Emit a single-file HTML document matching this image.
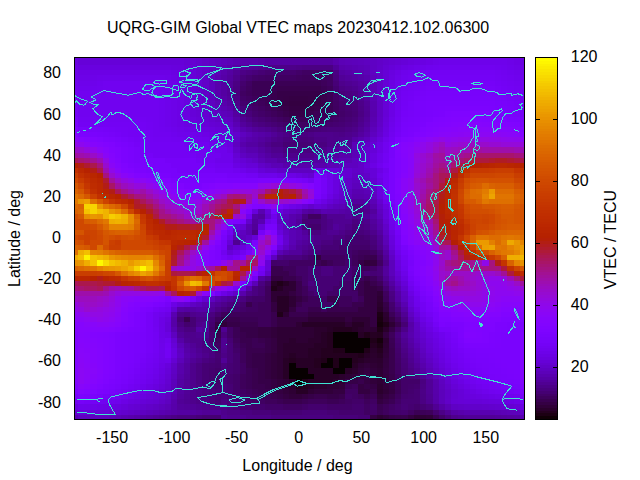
<!DOCTYPE html>
<html><head><meta charset="utf-8"><title>UQRG-GIM Global VTEC maps</title>
<style>
html,body{margin:0;padding:0;background:#fff;}
body{width:640px;height:480px;overflow:hidden;font-family:"Liberation Sans",sans-serif;}
svg{display:block;}
text{font-family:"Liberation Sans",sans-serif;font-size:16px;fill:#000;}
</style></head><body>
<svg width="640" height="480" viewBox="0 0 640 480">
<rect width="640" height="480" fill="#fff"/>
<g id="hm" shape-rendering="crispEdges">
<g transform="translate(0 57.50)"><rect x="74.50" width="3.67" height="2.73" fill="#6901df"/><rect x="77.87" width="106.10" height="2.73" fill="#6601d8"/><rect x="183.67" width="6.52" height="2.73" fill="#6501d4"/><rect x="189.89" width="6.52" height="2.73" fill="#6401d1"/><rect x="196.11" width="6.52" height="2.73" fill="#6201cd"/><rect x="202.34" width="6.52" height="2.73" fill="#6101c8"/><rect x="208.56" width="6.52" height="2.73" fill="#5f01c4"/><rect x="214.78" width="6.52" height="2.73" fill="#5e01c0"/><rect x="221.01" width="6.52" height="2.73" fill="#5c01bb"/><rect x="227.23" width="6.52" height="2.73" fill="#5b01b6"/><rect x="233.45" width="6.52" height="2.73" fill="#5900b1"/><rect x="239.68" width="18.97" height="2.73" fill="#5800ac"/><rect x="258.35" width="6.52" height="2.73" fill="#5600a7"/><rect x="264.57" width="68.76" height="2.73" fill="#5400a2"/><rect x="333.03" width="6.52" height="2.73" fill="#5800ac"/><rect x="339.25" width="6.52" height="2.73" fill="#5b01b6"/><rect x="345.48" width="6.52" height="2.73" fill="#5c01b9"/><rect x="351.70" width="6.52" height="2.73" fill="#5c01bb"/><rect x="357.92" width="6.52" height="2.73" fill="#5d01bd"/><rect x="364.15" width="6.52" height="2.73" fill="#5e01c0"/><rect x="370.37" width="6.52" height="2.73" fill="#5f01c4"/><rect x="376.59" width="6.52" height="2.73" fill="#6101c8"/><rect x="382.82" width="6.52" height="2.73" fill="#6201cd"/><rect x="389.04" width="6.52" height="2.73" fill="#6401d1"/><rect x="395.26" width="6.52" height="2.73" fill="#6501d4"/><rect x="401.49" width="6.52" height="2.73" fill="#6601d8"/><rect x="407.71" width="6.52" height="2.73" fill="#6801dc"/><rect x="413.93" width="6.52" height="2.73" fill="#6901df"/><rect x="420.16" width="6.52" height="2.73" fill="#6a01e2"/><rect x="426.38" width="6.52" height="2.73" fill="#6c01e5"/><rect x="432.61" width="6.52" height="2.73" fill="#6d02e8"/><rect x="438.83" width="68.76" height="2.73" fill="#6e02eb"/><rect x="507.29" width="6.52" height="2.73" fill="#6d02e8"/><rect x="513.51" width="6.52" height="2.73" fill="#6c01e5"/><rect x="519.73" width="5.07" height="2.73" fill="#6901df"/></g>
<g transform="translate(0 59.93)"><rect x="74.50" width="3.67" height="5.44" fill="#6901df"/><rect x="77.87" width="106.10" height="5.44" fill="#6601d8"/><rect x="183.67" width="6.52" height="5.44" fill="#6501d4"/><rect x="189.89" width="6.52" height="5.44" fill="#6401d1"/><rect x="196.11" width="6.52" height="5.44" fill="#6201cd"/><rect x="202.34" width="6.52" height="5.44" fill="#6101c8"/><rect x="208.56" width="6.52" height="5.44" fill="#5f01c4"/><rect x="214.78" width="6.52" height="5.44" fill="#5e01c0"/><rect x="221.01" width="6.52" height="5.44" fill="#5c01bb"/><rect x="227.23" width="6.52" height="5.44" fill="#5b01b6"/><rect x="233.45" width="6.52" height="5.44" fill="#5900b1"/><rect x="239.68" width="18.97" height="5.44" fill="#5800ac"/><rect x="258.35" width="6.52" height="5.44" fill="#5600a7"/><rect x="264.57" width="68.76" height="5.44" fill="#5400a2"/><rect x="333.03" width="6.52" height="5.44" fill="#5800ac"/><rect x="339.25" width="6.52" height="5.44" fill="#5b01b6"/><rect x="345.48" width="6.52" height="5.44" fill="#5c01b9"/><rect x="351.70" width="6.52" height="5.44" fill="#5c01bb"/><rect x="357.92" width="6.52" height="5.44" fill="#5d01bd"/><rect x="364.15" width="6.52" height="5.44" fill="#5e01c0"/><rect x="370.37" width="6.52" height="5.44" fill="#5f01c4"/><rect x="376.59" width="6.52" height="5.44" fill="#6101c8"/><rect x="382.82" width="6.52" height="5.44" fill="#6201cd"/><rect x="389.04" width="6.52" height="5.44" fill="#6401d1"/><rect x="395.26" width="6.52" height="5.44" fill="#6501d4"/><rect x="401.49" width="6.52" height="5.44" fill="#6601d8"/><rect x="407.71" width="6.52" height="5.44" fill="#6801dc"/><rect x="413.93" width="6.52" height="5.44" fill="#6901df"/><rect x="420.16" width="6.52" height="5.44" fill="#6a01e2"/><rect x="426.38" width="6.52" height="5.44" fill="#6c01e5"/><rect x="432.61" width="6.52" height="5.44" fill="#6d02e8"/><rect x="438.83" width="68.76" height="5.44" fill="#6e02eb"/><rect x="507.29" width="6.52" height="5.44" fill="#6d02e8"/><rect x="513.51" width="6.52" height="5.44" fill="#6c01e5"/><rect x="519.73" width="5.07" height="5.44" fill="#6901df"/></g>
<g transform="translate(0 65.08)"><rect x="74.50" width="3.67" height="5.44" fill="#6b01e4"/><rect x="77.87" width="93.65" height="5.44" fill="#6901df"/><rect x="171.22" width="6.52" height="5.44" fill="#6801dd"/><rect x="177.44" width="6.52" height="5.44" fill="#6801dc"/><rect x="183.67" width="6.52" height="5.44" fill="#6601d8"/><rect x="189.89" width="6.52" height="5.44" fill="#6501d4"/><rect x="196.11" width="6.52" height="5.44" fill="#6301cf"/><rect x="202.34" width="6.52" height="5.44" fill="#6101c8"/><rect x="208.56" width="6.52" height="5.44" fill="#5f01c2"/><rect x="214.78" width="6.52" height="5.44" fill="#5c01bb"/><rect x="221.01" width="6.52" height="5.44" fill="#5a00b4"/><rect x="227.23" width="6.52" height="5.44" fill="#5800ac"/><rect x="233.45" width="6.52" height="5.44" fill="#5500a3"/><rect x="239.68" width="6.52" height="5.44" fill="#52009a"/><rect x="245.90" width="6.52" height="5.44" fill="#510097"/><rect x="252.12" width="6.52" height="5.44" fill="#500094"/><rect x="258.35" width="6.52" height="5.44" fill="#4e008f"/><rect x="264.57" width="31.42" height="5.44" fill="#4d0089"/><rect x="295.69" width="6.52" height="5.44" fill="#4c0086"/><rect x="301.91" width="31.42" height="5.44" fill="#4b0083"/><rect x="333.03" width="6.52" height="5.44" fill="#510099"/><rect x="339.25" width="6.52" height="5.44" fill="#5800ac"/><rect x="345.48" width="6.52" height="5.44" fill="#5900b0"/><rect x="351.70" width="6.52" height="5.44" fill="#5a00b4"/><rect x="357.92" width="6.52" height="5.44" fill="#5b01b7"/><rect x="364.15" width="6.52" height="5.44" fill="#5c01bb"/><rect x="370.37" width="6.52" height="5.44" fill="#5f01c3"/><rect x="376.59" width="6.52" height="5.44" fill="#6101ca"/><rect x="382.82" width="6.52" height="5.44" fill="#6401d2"/><rect x="389.04" width="6.52" height="5.44" fill="#6601d8"/><rect x="395.26" width="6.52" height="5.44" fill="#6801dd"/><rect x="401.49" width="6.52" height="5.44" fill="#6a01e2"/><rect x="407.71" width="6.52" height="5.44" fill="#6c01e5"/><rect x="413.93" width="6.52" height="5.44" fill="#6d02e8"/><rect x="420.16" width="6.52" height="5.44" fill="#6e02eb"/><rect x="426.38" width="6.52" height="5.44" fill="#6f02ee"/><rect x="432.61" width="6.52" height="5.44" fill="#7002ef"/><rect x="438.83" width="56.31" height="5.44" fill="#7102f0"/><rect x="494.84" width="6.52" height="5.44" fill="#7002ef"/><rect x="501.06" width="6.52" height="5.44" fill="#6f02ee"/><rect x="507.29" width="6.52" height="5.44" fill="#6e02eb"/><rect x="513.51" width="6.52" height="5.44" fill="#6d02e8"/><rect x="519.73" width="5.07" height="5.44" fill="#6b01e4"/></g>
<g transform="translate(0 70.22)"><rect x="74.50" width="3.67" height="5.44" fill="#6d02e8"/><rect x="77.87" width="93.65" height="5.44" fill="#6c01e5"/><rect x="171.22" width="6.52" height="5.44" fill="#6a01e2"/><rect x="177.44" width="6.52" height="5.44" fill="#6901df"/><rect x="183.67" width="6.52" height="5.44" fill="#6801dc"/><rect x="189.89" width="6.52" height="5.44" fill="#6601d8"/><rect x="196.11" width="6.52" height="5.44" fill="#6401d1"/><rect x="202.34" width="6.52" height="5.44" fill="#6101c8"/><rect x="208.56" width="6.52" height="5.44" fill="#5e01c0"/><rect x="214.78" width="6.52" height="5.44" fill="#5b01b6"/><rect x="221.01" width="6.52" height="5.44" fill="#5800ac"/><rect x="227.23" width="6.52" height="5.44" fill="#5400a2"/><rect x="233.45" width="6.52" height="5.44" fill="#500094"/><rect x="239.68" width="6.52" height="5.44" fill="#4c0086"/><rect x="245.90" width="6.52" height="5.44" fill="#4a0080"/><rect x="252.12" width="6.52" height="5.44" fill="#48007a"/><rect x="258.35" width="6.52" height="5.44" fill="#460074"/><rect x="264.57" width="31.42" height="5.44" fill="#44006e"/><rect x="295.69" width="6.52" height="5.44" fill="#420068"/><rect x="301.91" width="31.42" height="5.44" fill="#400062"/><rect x="333.03" width="6.52" height="5.44" fill="#4b0083"/><rect x="339.25" width="6.52" height="5.44" fill="#5400a2"/><rect x="345.48" width="6.52" height="5.44" fill="#5600a7"/><rect x="351.70" width="6.52" height="5.44" fill="#5800ac"/><rect x="357.92" width="6.52" height="5.44" fill="#5900b1"/><rect x="364.15" width="6.52" height="5.44" fill="#5b01b6"/><rect x="370.37" width="6.52" height="5.44" fill="#5f01c2"/><rect x="376.59" width="6.52" height="5.44" fill="#6201cd"/><rect x="382.82" width="6.52" height="5.44" fill="#6601d6"/><rect x="389.04" width="6.52" height="5.44" fill="#6901df"/><rect x="395.26" width="6.52" height="5.44" fill="#6c01e5"/><rect x="401.49" width="6.52" height="5.44" fill="#6e02eb"/><rect x="407.71" width="6.52" height="5.44" fill="#6f02ee"/><rect x="413.93" width="6.52" height="5.44" fill="#7102f0"/><rect x="420.16" width="6.52" height="5.44" fill="#7202f2"/><rect x="426.38" width="68.76" height="5.44" fill="#7302f4"/><rect x="494.84" width="6.52" height="5.44" fill="#7202f2"/><rect x="501.06" width="6.52" height="5.44" fill="#7102f0"/><rect x="507.29" width="6.52" height="5.44" fill="#6f02ee"/><rect x="513.51" width="6.52" height="5.44" fill="#6e02eb"/><rect x="519.73" width="5.07" height="5.44" fill="#6d02e8"/></g>
<g transform="translate(0 75.36)"><rect x="74.50" width="3.67" height="5.44" fill="#6e02eb"/><rect x="77.87" width="18.97" height="5.44" fill="#6d02e8"/><rect x="96.54" width="6.52" height="5.44" fill="#6e02ea"/><rect x="102.76" width="56.31" height="5.44" fill="#6e02eb"/><rect x="158.77" width="6.52" height="5.44" fill="#6e02ea"/><rect x="164.99" width="6.52" height="5.44" fill="#6d02e8"/><rect x="171.22" width="6.52" height="5.44" fill="#6c01e5"/><rect x="177.44" width="6.52" height="5.44" fill="#6a01e2"/><rect x="183.67" width="6.52" height="5.44" fill="#6801dd"/><rect x="189.89" width="6.52" height="5.44" fill="#6601d8"/><rect x="196.11" width="6.52" height="5.44" fill="#6401d1"/><rect x="202.34" width="6.52" height="5.44" fill="#6101c8"/><rect x="208.56" width="6.52" height="5.44" fill="#5d01bd"/><rect x="214.78" width="6.52" height="5.44" fill="#5900b1"/><rect x="221.01" width="6.52" height="5.44" fill="#5600a7"/><rect x="227.23" width="6.52" height="5.44" fill="#53009d"/><rect x="233.45" width="6.52" height="5.44" fill="#4e008c"/><rect x="239.68" width="6.52" height="5.44" fill="#48007a"/><rect x="245.90" width="6.52" height="5.44" fill="#450071"/><rect x="252.12" width="6.52" height="5.44" fill="#420068"/><rect x="258.35" width="6.52" height="5.44" fill="#410065"/><rect x="264.57" width="31.42" height="5.44" fill="#400062"/><rect x="295.69" width="6.52" height="5.44" fill="#3f005e"/><rect x="301.91" width="18.97" height="5.44" fill="#3e005b"/><rect x="320.58" width="6.52" height="5.44" fill="#3f005e"/><rect x="326.81" width="6.52" height="5.44" fill="#400062"/><rect x="333.03" width="6.52" height="5.44" fill="#49007d"/><rect x="339.25" width="6.52" height="5.44" fill="#510097"/><rect x="345.48" width="6.52" height="5.44" fill="#53009d"/><rect x="351.70" width="6.52" height="5.44" fill="#5400a2"/><rect x="357.92" width="6.52" height="5.44" fill="#5600a9"/><rect x="364.15" width="6.52" height="5.44" fill="#5800af"/><rect x="370.37" width="6.52" height="5.44" fill="#5d01bd"/><rect x="376.59" width="6.52" height="5.44" fill="#6101ca"/><rect x="382.82" width="6.52" height="5.44" fill="#6601d6"/><rect x="389.04" width="6.52" height="5.44" fill="#6a01e1"/><rect x="395.26" width="6.52" height="5.44" fill="#6d02e8"/><rect x="401.49" width="6.52" height="5.44" fill="#6f02ee"/><rect x="407.71" width="6.52" height="5.44" fill="#7102f0"/><rect x="413.93" width="6.52" height="5.44" fill="#7202f2"/><rect x="420.16" width="6.52" height="5.44" fill="#7302f4"/><rect x="426.38" width="68.76" height="5.44" fill="#7402f6"/><rect x="494.84" width="6.52" height="5.44" fill="#7302f4"/><rect x="501.06" width="6.52" height="5.44" fill="#7202f2"/><rect x="507.29" width="6.52" height="5.44" fill="#7102f0"/><rect x="513.51" width="6.52" height="5.44" fill="#6f02ee"/><rect x="519.73" width="5.07" height="5.44" fill="#6e02eb"/></g>
<g transform="translate(0 80.50)"><rect x="74.50" width="3.67" height="5.44" fill="#6f02ee"/><rect x="77.87" width="18.97" height="5.44" fill="#6e02eb"/><rect x="96.54" width="6.52" height="5.44" fill="#6f02ee"/><rect x="102.76" width="56.31" height="5.44" fill="#7102f0"/><rect x="158.77" width="6.52" height="5.44" fill="#6f02ee"/><rect x="164.99" width="6.52" height="5.44" fill="#6e02eb"/><rect x="171.22" width="6.52" height="5.44" fill="#6d02e8"/><rect x="177.44" width="6.52" height="5.44" fill="#6c01e5"/><rect x="183.67" width="6.52" height="5.44" fill="#6901df"/><rect x="189.89" width="6.52" height="5.44" fill="#6601d8"/><rect x="196.11" width="6.52" height="5.44" fill="#6401d1"/><rect x="202.34" width="6.52" height="5.44" fill="#6101c8"/><rect x="208.56" width="6.52" height="5.44" fill="#5c01bb"/><rect x="214.78" width="6.52" height="5.44" fill="#5800ac"/><rect x="221.01" width="6.52" height="5.44" fill="#5400a2"/><rect x="227.23" width="6.52" height="5.44" fill="#510097"/><rect x="233.45" width="6.52" height="5.44" fill="#4b0083"/><rect x="239.68" width="6.52" height="5.44" fill="#44006e"/><rect x="245.90" width="6.52" height="5.44" fill="#400062"/><rect x="252.12" width="68.76" height="5.44" fill="#3b0055"/><rect x="320.58" width="6.52" height="5.44" fill="#3e005b"/><rect x="326.81" width="6.52" height="5.44" fill="#400062"/><rect x="333.03" width="6.52" height="5.44" fill="#470077"/><rect x="339.25" width="6.52" height="5.44" fill="#4e008c"/><rect x="345.48" width="6.52" height="5.44" fill="#4f0092"/><rect x="351.70" width="6.52" height="5.44" fill="#510097"/><rect x="357.92" width="6.52" height="5.44" fill="#54009f"/><rect x="364.15" width="6.52" height="5.44" fill="#5600a7"/><rect x="370.37" width="6.52" height="5.44" fill="#5c01b9"/><rect x="376.59" width="6.52" height="5.44" fill="#6101c8"/><rect x="382.82" width="6.52" height="5.44" fill="#6601d6"/><rect x="389.04" width="6.52" height="5.44" fill="#6a01e2"/><rect x="395.26" width="6.52" height="5.44" fill="#6e02ea"/><rect x="401.49" width="6.52" height="5.44" fill="#7102f0"/><rect x="407.71" width="6.52" height="5.44" fill="#7202f2"/><rect x="413.93" width="6.52" height="5.44" fill="#7302f4"/><rect x="420.16" width="6.52" height="5.44" fill="#7402f6"/><rect x="426.38" width="68.76" height="5.44" fill="#7602f8"/><rect x="494.84" width="6.52" height="5.44" fill="#7402f6"/><rect x="501.06" width="6.52" height="5.44" fill="#7302f4"/><rect x="507.29" width="6.52" height="5.44" fill="#7202f2"/><rect x="513.51" width="6.52" height="5.44" fill="#7102f0"/><rect x="519.73" width="5.07" height="5.44" fill="#6f02ee"/></g>
<g transform="translate(0 85.65)"><rect x="74.50" width="3.67" height="5.44" fill="#7102f0"/><rect x="77.87" width="18.97" height="5.44" fill="#6f02ee"/><rect x="96.54" width="6.52" height="5.44" fill="#7002ef"/><rect x="102.76" width="56.31" height="5.44" fill="#7102f0"/><rect x="158.77" width="6.52" height="5.44" fill="#6f02ee"/><rect x="164.99" width="6.52" height="5.44" fill="#6e02eb"/><rect x="171.22" width="6.52" height="5.44" fill="#6d02e8"/><rect x="177.44" width="6.52" height="5.44" fill="#6c01e5"/><rect x="183.67" width="6.52" height="5.44" fill="#6901df"/><rect x="189.89" width="6.52" height="5.44" fill="#6601d8"/><rect x="196.11" width="6.52" height="5.44" fill="#6401d1"/><rect x="202.34" width="6.52" height="5.44" fill="#6101c8"/><rect x="208.56" width="6.52" height="5.44" fill="#5c01bb"/><rect x="214.78" width="6.52" height="5.44" fill="#5800ac"/><rect x="221.01" width="6.52" height="5.44" fill="#5400a2"/><rect x="227.23" width="6.52" height="5.44" fill="#510097"/><rect x="233.45" width="6.52" height="5.44" fill="#4a0080"/><rect x="239.68" width="6.52" height="5.44" fill="#420068"/><rect x="245.90" width="6.52" height="5.44" fill="#3f005e"/><rect x="252.12" width="18.97" height="5.44" fill="#3b0055"/><rect x="270.79" width="6.52" height="5.44" fill="#3a0052"/><rect x="277.02" width="43.86" height="5.44" fill="#39004e"/><rect x="320.58" width="6.52" height="5.44" fill="#3b0055"/><rect x="326.81" width="6.52" height="5.44" fill="#3e005b"/><rect x="333.03" width="6.52" height="5.44" fill="#440070"/><rect x="339.25" width="6.52" height="5.44" fill="#4b0083"/><rect x="345.48" width="6.52" height="5.44" fill="#4d0089"/><rect x="351.70" width="6.52" height="5.44" fill="#4e008f"/><rect x="357.92" width="6.52" height="5.44" fill="#52009a"/><rect x="364.15" width="6.52" height="5.44" fill="#5500a5"/><rect x="370.37" width="6.52" height="5.44" fill="#5b01b7"/><rect x="376.59" width="6.52" height="5.44" fill="#6101c8"/><rect x="382.82" width="6.52" height="5.44" fill="#6601d7"/><rect x="389.04" width="6.52" height="5.44" fill="#6b01e4"/><rect x="395.26" width="6.52" height="5.44" fill="#6e02ec"/><rect x="401.49" width="6.52" height="5.44" fill="#7202f2"/><rect x="407.71" width="6.52" height="5.44" fill="#7302f4"/><rect x="413.93" width="6.52" height="5.44" fill="#7402f6"/><rect x="420.16" width="6.52" height="5.44" fill="#7602f8"/><rect x="426.38" width="68.76" height="5.44" fill="#7703f9"/><rect x="494.84" width="6.52" height="5.44" fill="#7602f8"/><rect x="501.06" width="6.52" height="5.44" fill="#7402f6"/><rect x="507.29" width="6.52" height="5.44" fill="#7302f4"/><rect x="513.51" width="6.52" height="5.44" fill="#7202f2"/><rect x="519.73" width="5.07" height="5.44" fill="#7102f0"/></g>
<g transform="translate(0 90.79)"><rect x="74.50" width="3.67" height="5.44" fill="#7202f2"/><rect x="77.87" width="81.21" height="5.44" fill="#7102f0"/><rect x="158.77" width="6.52" height="5.44" fill="#6f02ee"/><rect x="164.99" width="6.52" height="5.44" fill="#6e02eb"/><rect x="171.22" width="6.52" height="5.44" fill="#6d02e8"/><rect x="177.44" width="6.52" height="5.44" fill="#6c01e5"/><rect x="183.67" width="6.52" height="5.44" fill="#6901df"/><rect x="189.89" width="6.52" height="5.44" fill="#6601d8"/><rect x="196.11" width="6.52" height="5.44" fill="#6401d1"/><rect x="202.34" width="6.52" height="5.44" fill="#6101c8"/><rect x="208.56" width="6.52" height="5.44" fill="#5c01bb"/><rect x="214.78" width="6.52" height="5.44" fill="#5800ac"/><rect x="221.01" width="6.52" height="5.44" fill="#5400a2"/><rect x="227.23" width="6.52" height="5.44" fill="#510097"/><rect x="233.45" width="6.52" height="5.44" fill="#49007d"/><rect x="239.68" width="6.52" height="5.44" fill="#400062"/><rect x="245.90" width="6.52" height="5.44" fill="#3e005b"/><rect x="252.12" width="18.97" height="5.44" fill="#3b0055"/><rect x="270.79" width="6.52" height="5.44" fill="#39004e"/><rect x="277.02" width="43.86" height="5.44" fill="#360048"/><rect x="320.58" width="6.52" height="5.44" fill="#39004e"/><rect x="326.81" width="6.52" height="5.44" fill="#3b0055"/><rect x="333.03" width="6.52" height="5.44" fill="#420068"/><rect x="339.25" width="6.52" height="5.44" fill="#48007a"/><rect x="345.48" width="6.52" height="5.44" fill="#4a0080"/><rect x="351.70" width="6.52" height="5.44" fill="#4c0086"/><rect x="357.92" width="6.52" height="5.44" fill="#500094"/><rect x="364.15" width="6.52" height="5.44" fill="#5400a2"/><rect x="370.37" width="6.52" height="5.44" fill="#5b01b6"/><rect x="376.59" width="6.52" height="5.44" fill="#6101c8"/><rect x="382.82" width="6.52" height="5.44" fill="#6601d8"/><rect x="389.04" width="6.52" height="5.44" fill="#6c01e5"/><rect x="395.26" width="6.52" height="5.44" fill="#6f02ee"/><rect x="401.49" width="6.52" height="5.44" fill="#7302f4"/><rect x="407.71" width="6.52" height="5.44" fill="#7402f6"/><rect x="413.93" width="6.52" height="5.44" fill="#7602f8"/><rect x="420.16" width="6.52" height="5.44" fill="#7703f9"/><rect x="426.38" width="68.76" height="5.44" fill="#7803fb"/><rect x="494.84" width="6.52" height="5.44" fill="#7703f9"/><rect x="501.06" width="6.52" height="5.44" fill="#7602f8"/><rect x="507.29" width="6.52" height="5.44" fill="#7402f6"/><rect x="513.51" width="6.52" height="5.44" fill="#7302f4"/><rect x="519.73" width="5.07" height="5.44" fill="#7202f2"/></g>
<g transform="translate(0 95.93)"><rect x="74.50" width="3.67" height="5.44" fill="#7302f3"/><rect x="77.87" width="81.21" height="5.44" fill="#7102f0"/><rect x="158.77" width="6.52" height="5.44" fill="#6f02ee"/><rect x="164.99" width="6.52" height="5.44" fill="#6e02eb"/><rect x="171.22" width="6.52" height="5.44" fill="#6d02e8"/><rect x="177.44" width="6.52" height="5.44" fill="#6c01e5"/><rect x="183.67" width="6.52" height="5.44" fill="#6901df"/><rect x="189.89" width="6.52" height="5.44" fill="#6601d8"/><rect x="196.11" width="6.52" height="5.44" fill="#6401d1"/><rect x="202.34" width="6.52" height="5.44" fill="#6101c8"/><rect x="208.56" width="6.52" height="5.44" fill="#5d01bd"/><rect x="214.78" width="6.52" height="5.44" fill="#5900b1"/><rect x="221.01" width="6.52" height="5.44" fill="#5600a7"/><rect x="227.23" width="6.52" height="5.44" fill="#53009d"/><rect x="233.45" width="6.52" height="5.44" fill="#4b0083"/><rect x="239.68" width="6.52" height="5.44" fill="#420068"/><rect x="245.90" width="6.52" height="5.44" fill="#400062"/><rect x="252.12" width="6.52" height="5.44" fill="#3e005b"/><rect x="258.35" width="6.52" height="5.44" fill="#3c0058"/><rect x="264.57" width="6.52" height="5.44" fill="#3b0055"/><rect x="270.79" width="6.52" height="5.44" fill="#39004e"/><rect x="277.02" width="6.52" height="5.44" fill="#360048"/><rect x="283.24" width="6.52" height="5.44" fill="#360046"/><rect x="289.46" width="18.97" height="5.44" fill="#350044"/><rect x="308.14" width="6.52" height="5.44" fill="#360046"/><rect x="314.36" width="6.52" height="5.44" fill="#360048"/><rect x="320.58" width="6.52" height="5.44" fill="#39004e"/><rect x="326.81" width="6.52" height="5.44" fill="#3b0055"/><rect x="333.03" width="6.52" height="5.44" fill="#410065"/><rect x="339.25" width="6.52" height="5.44" fill="#460074"/><rect x="345.48" width="6.52" height="5.44" fill="#48007a"/><rect x="351.70" width="6.52" height="5.44" fill="#4a0080"/><rect x="357.92" width="6.52" height="5.44" fill="#4e008f"/><rect x="364.15" width="6.52" height="5.44" fill="#53009d"/><rect x="370.37" width="6.52" height="5.44" fill="#5a00b3"/><rect x="376.59" width="6.52" height="5.44" fill="#6001c6"/><rect x="382.82" width="6.52" height="5.44" fill="#6601d7"/><rect x="389.04" width="6.52" height="5.44" fill="#6c01e5"/><rect x="395.26" width="6.52" height="5.44" fill="#7002ee"/><rect x="401.49" width="6.52" height="5.44" fill="#7402f5"/><rect x="407.71" width="6.52" height="5.44" fill="#7502f7"/><rect x="413.93" width="6.52" height="5.44" fill="#7703f9"/><rect x="420.16" width="6.52" height="5.44" fill="#7803fb"/><rect x="426.38" width="68.76" height="5.44" fill="#7903fc"/><rect x="494.84" width="6.52" height="5.44" fill="#7803fb"/><rect x="501.06" width="6.52" height="5.44" fill="#7703f9"/><rect x="507.29" width="6.52" height="5.44" fill="#7602f8"/><rect x="513.51" width="6.52" height="5.44" fill="#7402f6"/><rect x="519.73" width="5.07" height="5.44" fill="#7302f3"/></g>
<g transform="translate(0 101.07)"><rect x="74.50" width="3.67" height="5.44" fill="#7302f4"/><rect x="77.87" width="81.21" height="5.44" fill="#7102f0"/><rect x="158.77" width="6.52" height="5.44" fill="#6f02ee"/><rect x="164.99" width="6.52" height="5.44" fill="#6e02eb"/><rect x="171.22" width="6.52" height="5.44" fill="#6d02e8"/><rect x="177.44" width="6.52" height="5.44" fill="#6c01e5"/><rect x="183.67" width="6.52" height="5.44" fill="#6901df"/><rect x="189.89" width="6.52" height="5.44" fill="#6601d8"/><rect x="196.11" width="6.52" height="5.44" fill="#6401d1"/><rect x="202.34" width="6.52" height="5.44" fill="#6101c8"/><rect x="208.56" width="6.52" height="5.44" fill="#5e01c0"/><rect x="214.78" width="6.52" height="5.44" fill="#5b01b6"/><rect x="221.01" width="6.52" height="5.44" fill="#5800ac"/><rect x="227.23" width="6.52" height="5.44" fill="#5400a2"/><rect x="233.45" width="6.52" height="5.44" fill="#4d0089"/><rect x="239.68" width="6.52" height="5.44" fill="#44006e"/><rect x="245.90" width="6.52" height="5.44" fill="#420068"/><rect x="252.12" width="6.52" height="5.44" fill="#400062"/><rect x="258.35" width="6.52" height="5.44" fill="#3e005b"/><rect x="264.57" width="6.52" height="5.44" fill="#3b0055"/><rect x="270.79" width="6.52" height="5.44" fill="#39004e"/><rect x="277.02" width="6.52" height="5.44" fill="#360048"/><rect x="283.24" width="6.52" height="5.44" fill="#350044"/><rect x="289.46" width="18.97" height="5.44" fill="#340041"/><rect x="308.14" width="6.52" height="5.44" fill="#350044"/><rect x="314.36" width="6.52" height="5.44" fill="#360048"/><rect x="320.58" width="6.52" height="5.44" fill="#39004e"/><rect x="326.81" width="6.52" height="5.44" fill="#3b0055"/><rect x="333.03" width="6.52" height="5.44" fill="#400062"/><rect x="339.25" width="6.52" height="5.44" fill="#44006e"/><rect x="345.48" width="6.52" height="5.44" fill="#460074"/><rect x="351.70" width="6.52" height="5.44" fill="#48007a"/><rect x="357.92" width="6.52" height="5.44" fill="#4d0089"/><rect x="364.15" width="6.52" height="5.44" fill="#510097"/><rect x="370.37" width="6.52" height="5.44" fill="#5800af"/><rect x="376.59" width="6.52" height="5.44" fill="#5f01c4"/><rect x="382.82" width="6.52" height="5.44" fill="#6601d6"/><rect x="389.04" width="6.52" height="5.44" fill="#6c01e5"/><rect x="395.26" width="6.52" height="5.44" fill="#7002ef"/><rect x="401.49" width="6.52" height="5.44" fill="#7402f6"/><rect x="407.71" width="6.52" height="5.44" fill="#7603f9"/><rect x="413.93" width="6.52" height="5.44" fill="#7803fb"/><rect x="420.16" width="6.52" height="5.44" fill="#7903fc"/><rect x="426.38" width="68.76" height="5.44" fill="#7a03fd"/><rect x="494.84" width="6.52" height="5.44" fill="#7903fc"/><rect x="501.06" width="6.52" height="5.44" fill="#7803fb"/><rect x="507.29" width="6.52" height="5.44" fill="#7703f9"/><rect x="513.51" width="6.52" height="5.44" fill="#7602f8"/><rect x="519.73" width="5.07" height="5.44" fill="#7302f4"/></g>
<g transform="translate(0 106.22)"><rect x="74.50" width="3.67" height="5.44" fill="#7402f5"/><rect x="77.87" width="81.21" height="5.44" fill="#7102f0"/><rect x="158.77" width="6.52" height="5.44" fill="#6f02ee"/><rect x="164.99" width="6.52" height="5.44" fill="#6e02eb"/><rect x="171.22" width="6.52" height="5.44" fill="#6d02e8"/><rect x="177.44" width="6.52" height="5.44" fill="#6c01e5"/><rect x="183.67" width="6.52" height="5.44" fill="#6901df"/><rect x="189.89" width="6.52" height="5.44" fill="#6601d8"/><rect x="196.11" width="6.52" height="5.44" fill="#6401d2"/><rect x="202.34" width="6.52" height="5.44" fill="#6201cd"/><rect x="208.56" width="6.52" height="5.44" fill="#5f01c4"/><rect x="214.78" width="6.52" height="5.44" fill="#5c01bb"/><rect x="221.01" width="6.52" height="5.44" fill="#5a00b4"/><rect x="227.23" width="6.52" height="5.44" fill="#5800ac"/><rect x="233.45" width="6.52" height="5.44" fill="#500094"/><rect x="239.68" width="6.52" height="5.44" fill="#48007a"/><rect x="245.90" width="6.52" height="5.44" fill="#450071"/><rect x="252.12" width="6.52" height="5.44" fill="#420068"/><rect x="258.35" width="6.52" height="5.44" fill="#400062"/><rect x="264.57" width="6.52" height="5.44" fill="#3e005b"/><rect x="270.79" width="6.52" height="5.44" fill="#3b0055"/><rect x="277.02" width="6.52" height="5.44" fill="#39004e"/><rect x="283.24" width="6.52" height="5.44" fill="#370049"/><rect x="289.46" width="18.97" height="5.44" fill="#350044"/><rect x="308.14" width="6.52" height="5.44" fill="#370049"/><rect x="314.36" width="6.52" height="5.44" fill="#39004e"/><rect x="320.58" width="6.52" height="5.44" fill="#3a0052"/><rect x="326.81" width="6.52" height="5.44" fill="#3b0055"/><rect x="333.03" width="6.52" height="5.44" fill="#3f0060"/><rect x="339.25" width="6.52" height="5.44" fill="#43006b"/><rect x="345.48" width="6.52" height="5.44" fill="#450071"/><rect x="351.70" width="6.52" height="5.44" fill="#470077"/><rect x="357.92" width="6.52" height="5.44" fill="#4c0086"/><rect x="364.15" width="6.52" height="5.44" fill="#500094"/><rect x="370.37" width="6.52" height="5.44" fill="#5800ae"/><rect x="376.59" width="6.52" height="5.44" fill="#5f01c4"/><rect x="382.82" width="6.52" height="5.44" fill="#6601d6"/><rect x="389.04" width="6.52" height="5.44" fill="#6c01e5"/><rect x="395.26" width="6.52" height="5.44" fill="#7002ef"/><rect x="401.49" width="6.52" height="5.44" fill="#7502f7"/><rect x="407.71" width="6.52" height="5.44" fill="#7603f9"/><rect x="413.93" width="6.52" height="5.44" fill="#7803fb"/><rect x="420.16" width="6.52" height="5.44" fill="#7903fc"/><rect x="426.38" width="6.52" height="5.44" fill="#7a03fd"/><rect x="432.61" width="6.52" height="5.44" fill="#7b03fd"/><rect x="438.83" width="6.52" height="5.44" fill="#7b03fe"/><rect x="445.05" width="43.86" height="5.44" fill="#7c03fe"/><rect x="488.62" width="6.52" height="5.44" fill="#7b03fe"/><rect x="494.84" width="6.52" height="5.44" fill="#7a03fd"/><rect x="501.06" width="6.52" height="5.44" fill="#7903fc"/><rect x="507.29" width="6.52" height="5.44" fill="#7803fb"/><rect x="513.51" width="6.52" height="5.44" fill="#7703f9"/><rect x="519.73" width="5.07" height="5.44" fill="#7402f5"/></g>
<g transform="translate(0 111.36)"><rect x="74.50" width="3.67" height="5.44" fill="#7402f6"/><rect x="77.87" width="81.21" height="5.44" fill="#7102f0"/><rect x="158.77" width="6.52" height="5.44" fill="#6f02ee"/><rect x="164.99" width="6.52" height="5.44" fill="#6e02eb"/><rect x="171.22" width="6.52" height="5.44" fill="#6d02e8"/><rect x="177.44" width="6.52" height="5.44" fill="#6c01e5"/><rect x="183.67" width="6.52" height="5.44" fill="#6901df"/><rect x="189.89" width="6.52" height="5.44" fill="#6601d8"/><rect x="196.11" width="6.52" height="5.44" fill="#6501d4"/><rect x="202.34" width="6.52" height="5.44" fill="#6401d1"/><rect x="208.56" width="6.52" height="5.44" fill="#6101c8"/><rect x="214.78" width="6.52" height="5.44" fill="#5e01c0"/><rect x="221.01" width="6.52" height="5.44" fill="#5c01bb"/><rect x="227.23" width="6.52" height="5.44" fill="#5b01b6"/><rect x="233.45" width="6.52" height="5.44" fill="#54009f"/><rect x="239.68" width="6.52" height="5.44" fill="#4c0086"/><rect x="245.90" width="6.52" height="5.44" fill="#48007a"/><rect x="252.12" width="6.52" height="5.44" fill="#44006e"/><rect x="258.35" width="6.52" height="5.44" fill="#420068"/><rect x="264.57" width="6.52" height="5.44" fill="#400062"/><rect x="270.79" width="6.52" height="5.44" fill="#3e005b"/><rect x="277.02" width="6.52" height="5.44" fill="#3b0055"/><rect x="283.24" width="6.52" height="5.44" fill="#39004e"/><rect x="289.46" width="18.97" height="5.44" fill="#360048"/><rect x="308.14" width="6.52" height="5.44" fill="#39004e"/><rect x="314.36" width="18.97" height="5.44" fill="#3b0055"/><rect x="333.03" width="6.52" height="5.44" fill="#3f005e"/><rect x="339.25" width="6.52" height="5.44" fill="#420068"/><rect x="345.48" width="6.52" height="5.44" fill="#44006e"/><rect x="351.70" width="6.52" height="5.44" fill="#460074"/><rect x="357.92" width="6.52" height="5.44" fill="#4b0083"/><rect x="364.15" width="6.52" height="5.44" fill="#4f0092"/><rect x="370.37" width="6.52" height="5.44" fill="#5800ac"/><rect x="376.59" width="6.52" height="5.44" fill="#5f01c4"/><rect x="382.82" width="6.52" height="5.44" fill="#6601d6"/><rect x="389.04" width="6.52" height="5.44" fill="#6c01e5"/><rect x="395.26" width="6.52" height="5.44" fill="#7102f0"/><rect x="401.49" width="6.52" height="5.44" fill="#7602f8"/><rect x="407.71" width="6.52" height="5.44" fill="#7703f9"/><rect x="413.93" width="6.52" height="5.44" fill="#7803fb"/><rect x="420.16" width="6.52" height="5.44" fill="#7903fc"/><rect x="426.38" width="6.52" height="5.44" fill="#7a03fd"/><rect x="432.61" width="6.52" height="5.44" fill="#7b03fe"/><rect x="438.83" width="6.52" height="5.44" fill="#7c03fe"/><rect x="445.05" width="6.52" height="5.44" fill="#7e04ff"/><rect x="451.28" width="31.42" height="5.44" fill="#7f04ff"/><rect x="482.39" width="6.52" height="5.44" fill="#7e04ff"/><rect x="488.62" width="6.52" height="5.44" fill="#7c03fe"/><rect x="494.84" width="6.52" height="5.44" fill="#7b03fe"/><rect x="501.06" width="6.52" height="5.44" fill="#7a03fd"/><rect x="507.29" width="6.52" height="5.44" fill="#7903fc"/><rect x="513.51" width="6.52" height="5.44" fill="#7803fb"/><rect x="519.73" width="5.07" height="5.44" fill="#7402f6"/></g>
<g transform="translate(0 116.50)"><rect x="74.50" width="3.67" height="5.44" fill="#7703f9"/><rect x="77.87" width="68.76" height="5.44" fill="#7202f2"/><rect x="146.32" width="6.52" height="5.44" fill="#7102f1"/><rect x="152.55" width="6.52" height="5.44" fill="#7102f0"/><rect x="158.77" width="6.52" height="5.44" fill="#6f02ee"/><rect x="164.99" width="6.52" height="5.44" fill="#6e02eb"/><rect x="171.22" width="6.52" height="5.44" fill="#6d02e8"/><rect x="177.44" width="6.52" height="5.44" fill="#6c01e5"/><rect x="183.67" width="6.52" height="5.44" fill="#6a01e1"/><rect x="189.89" width="6.52" height="5.44" fill="#6801dc"/><rect x="196.11" width="6.52" height="5.44" fill="#6601d8"/><rect x="202.34" width="6.52" height="5.44" fill="#6501d4"/><rect x="208.56" width="6.52" height="5.44" fill="#6301cf"/><rect x="214.78" width="6.52" height="5.44" fill="#6101c8"/><rect x="221.01" width="6.52" height="5.44" fill="#5f01c4"/><rect x="227.23" width="6.52" height="5.44" fill="#5e01c0"/><rect x="233.45" width="6.52" height="5.44" fill="#5700aa"/><rect x="239.68" width="6.52" height="5.44" fill="#4f0092"/><rect x="245.90" width="6.52" height="5.44" fill="#4c0086"/><rect x="252.12" width="6.52" height="5.44" fill="#48007a"/><rect x="258.35" width="6.52" height="5.44" fill="#460074"/><rect x="264.57" width="6.52" height="5.44" fill="#44006e"/><rect x="270.79" width="6.52" height="5.44" fill="#420068"/><rect x="277.02" width="6.52" height="5.44" fill="#400062"/><rect x="283.24" width="6.52" height="5.44" fill="#3e005b"/><rect x="289.46" width="18.97" height="5.44" fill="#3b0055"/><rect x="308.14" width="6.52" height="5.44" fill="#3c0058"/><rect x="314.36" width="6.52" height="5.44" fill="#3e005b"/><rect x="320.58" width="6.52" height="5.44" fill="#3f005e"/><rect x="326.81" width="6.52" height="5.44" fill="#400062"/><rect x="333.03" width="6.52" height="5.44" fill="#420068"/><rect x="339.25" width="6.52" height="5.44" fill="#44006e"/><rect x="345.48" width="6.52" height="5.44" fill="#460074"/><rect x="351.70" width="6.52" height="5.44" fill="#48007a"/><rect x="357.92" width="6.52" height="5.44" fill="#4d0089"/><rect x="364.15" width="6.52" height="5.44" fill="#510097"/><rect x="370.37" width="6.52" height="5.44" fill="#5900b0"/><rect x="376.59" width="6.52" height="5.44" fill="#6001c6"/><rect x="382.82" width="6.52" height="5.44" fill="#6701d9"/><rect x="389.04" width="6.52" height="5.44" fill="#6d02e8"/><rect x="395.26" width="6.52" height="5.44" fill="#7202f2"/><rect x="401.49" width="6.52" height="5.44" fill="#7703f9"/><rect x="407.71" width="6.52" height="5.44" fill="#7803fb"/><rect x="413.93" width="6.52" height="5.44" fill="#7903fc"/><rect x="420.16" width="6.52" height="5.44" fill="#7b03fd"/><rect x="426.38" width="6.52" height="5.44" fill="#7c03fe"/><rect x="432.61" width="6.52" height="5.44" fill="#7e04ff"/><rect x="438.83" width="6.52" height="5.44" fill="#7f04ff"/><rect x="445.05" width="6.52" height="5.44" fill="#8004ff"/><rect x="451.28" width="12.75" height="5.44" fill="#8104ff"/><rect x="463.72" width="18.97" height="5.44" fill="#8204ff"/><rect x="482.39" width="6.52" height="5.44" fill="#8104ff"/><rect x="488.62" width="6.52" height="5.44" fill="#8004ff"/><rect x="494.84" width="6.52" height="5.44" fill="#7f04ff"/><rect x="501.06" width="6.52" height="5.44" fill="#7e04ff"/><rect x="507.29" width="6.52" height="5.44" fill="#7c03fe"/><rect x="513.51" width="6.52" height="5.44" fill="#7b03fe"/><rect x="519.73" width="5.07" height="5.44" fill="#7703f9"/></g>
<g transform="translate(0 121.64)"><rect x="74.50" width="3.67" height="5.44" fill="#7903fc"/><rect x="77.87" width="68.76" height="5.44" fill="#7302f4"/><rect x="146.32" width="6.52" height="5.44" fill="#7202f2"/><rect x="152.55" width="6.52" height="5.44" fill="#7102f0"/><rect x="158.77" width="6.52" height="5.44" fill="#6f02ee"/><rect x="164.99" width="6.52" height="5.44" fill="#6e02eb"/><rect x="171.22" width="6.52" height="5.44" fill="#6d02e8"/><rect x="177.44" width="6.52" height="5.44" fill="#6c01e5"/><rect x="183.67" width="6.52" height="5.44" fill="#6a01e2"/><rect x="189.89" width="6.52" height="5.44" fill="#6901df"/><rect x="196.11" width="6.52" height="5.44" fill="#6801dc"/><rect x="202.34" width="6.52" height="5.44" fill="#6601d8"/><rect x="208.56" width="6.52" height="5.44" fill="#6501d4"/><rect x="214.78" width="6.52" height="5.44" fill="#6401d1"/><rect x="221.01" width="6.52" height="5.44" fill="#6201cd"/><rect x="227.23" width="6.52" height="5.44" fill="#6101c8"/><rect x="233.45" width="6.52" height="5.44" fill="#5a00b4"/><rect x="239.68" width="6.52" height="5.44" fill="#53009d"/><rect x="245.90" width="6.52" height="5.44" fill="#4f0092"/><rect x="252.12" width="6.52" height="5.44" fill="#4c0086"/><rect x="258.35" width="6.52" height="5.44" fill="#4a0080"/><rect x="264.57" width="6.52" height="5.44" fill="#48007a"/><rect x="270.79" width="6.52" height="5.44" fill="#460074"/><rect x="277.02" width="6.52" height="5.44" fill="#44006e"/><rect x="283.24" width="6.52" height="5.44" fill="#420068"/><rect x="289.46" width="31.42" height="5.44" fill="#400062"/><rect x="320.58" width="6.52" height="5.44" fill="#420068"/><rect x="326.81" width="6.52" height="5.44" fill="#44006e"/><rect x="333.03" width="6.52" height="5.44" fill="#450071"/><rect x="339.25" width="6.52" height="5.44" fill="#460074"/><rect x="345.48" width="6.52" height="5.44" fill="#48007a"/><rect x="351.70" width="6.52" height="5.44" fill="#4a0080"/><rect x="357.92" width="6.52" height="5.44" fill="#4e008f"/><rect x="364.15" width="6.52" height="5.44" fill="#53009d"/><rect x="370.37" width="6.52" height="5.44" fill="#5a00b4"/><rect x="376.59" width="6.52" height="5.44" fill="#6101c8"/><rect x="382.82" width="6.52" height="5.44" fill="#6801dc"/><rect x="389.04" width="6.52" height="5.44" fill="#6e02eb"/><rect x="395.26" width="6.52" height="5.44" fill="#7302f4"/><rect x="401.49" width="6.52" height="5.44" fill="#7803fb"/><rect x="407.71" width="6.52" height="5.44" fill="#7903fc"/><rect x="413.93" width="6.52" height="5.44" fill="#7a03fd"/><rect x="420.16" width="6.52" height="5.44" fill="#7c03fe"/><rect x="426.38" width="6.52" height="5.44" fill="#7f04ff"/><rect x="432.61" width="6.52" height="5.44" fill="#8004ff"/><rect x="438.83" width="6.52" height="5.44" fill="#8104ff"/><rect x="445.05" width="6.52" height="5.44" fill="#8204ff"/><rect x="451.28" width="6.52" height="5.44" fill="#8305fe"/><rect x="457.50" width="6.52" height="5.44" fill="#8405fd"/><rect x="463.72" width="18.97" height="5.44" fill="#8505fd"/><rect x="482.39" width="6.52" height="5.44" fill="#8405fd"/><rect x="488.62" width="6.52" height="5.44" fill="#8305fe"/><rect x="494.84" width="6.52" height="5.44" fill="#8204ff"/><rect x="501.06" width="6.52" height="5.44" fill="#8104ff"/><rect x="507.29" width="6.52" height="5.44" fill="#8004ff"/><rect x="513.51" width="6.52" height="5.44" fill="#7f04ff"/><rect x="519.73" width="5.07" height="5.44" fill="#7903fc"/></g>
<g transform="translate(0 126.79)"><rect x="74.50" width="3.67" height="5.44" fill="#7e04ff"/><rect x="77.87" width="6.52" height="5.44" fill="#7803fb"/><rect x="84.09" width="6.52" height="5.44" fill="#7703fa"/><rect x="90.31" width="6.52" height="5.44" fill="#7703f9"/><rect x="96.54" width="6.52" height="5.44" fill="#7603f9"/><rect x="102.76" width="6.52" height="5.44" fill="#7602f8"/><rect x="108.98" width="6.52" height="5.44" fill="#7502f7"/><rect x="115.21" width="6.52" height="5.44" fill="#7402f6"/><rect x="121.43" width="6.52" height="5.44" fill="#7402f5"/><rect x="127.65" width="18.97" height="5.44" fill="#7302f4"/><rect x="146.32" width="6.52" height="5.44" fill="#7202f2"/><rect x="152.55" width="6.52" height="5.44" fill="#7102f0"/><rect x="158.77" width="6.52" height="5.44" fill="#7002ef"/><rect x="164.99" width="6.52" height="5.44" fill="#6f02ee"/><rect x="171.22" width="6.52" height="5.44" fill="#6e02eb"/><rect x="177.44" width="6.52" height="5.44" fill="#6d02e8"/><rect x="183.67" width="6.52" height="5.44" fill="#6c01e7"/><rect x="189.89" width="6.52" height="5.44" fill="#6c01e5"/><rect x="196.11" width="6.52" height="5.44" fill="#6a01e2"/><rect x="202.34" width="6.52" height="5.44" fill="#6901df"/><rect x="208.56" width="6.52" height="5.44" fill="#6801dc"/><rect x="214.78" width="6.52" height="5.44" fill="#6601d8"/><rect x="221.01" width="6.52" height="5.44" fill="#6501d4"/><rect x="227.23" width="6.52" height="5.44" fill="#6401d1"/><rect x="233.45" width="6.52" height="5.44" fill="#5e01c1"/><rect x="239.68" width="6.52" height="5.44" fill="#5800af"/><rect x="245.90" width="6.52" height="5.44" fill="#5500a5"/><rect x="252.12" width="6.52" height="5.44" fill="#52009a"/><rect x="258.35" width="6.52" height="5.44" fill="#500094"/><rect x="264.57" width="6.52" height="5.44" fill="#4e008f"/><rect x="270.79" width="6.52" height="5.44" fill="#4c0086"/><rect x="277.02" width="6.52" height="5.44" fill="#49007d"/><rect x="283.24" width="6.52" height="5.44" fill="#470077"/><rect x="289.46" width="18.97" height="5.44" fill="#450071"/><rect x="308.14" width="6.52" height="5.44" fill="#460074"/><rect x="314.36" width="6.52" height="5.44" fill="#470077"/><rect x="320.58" width="6.52" height="5.44" fill="#48007a"/><rect x="326.81" width="18.97" height="5.44" fill="#49007d"/><rect x="345.48" width="6.52" height="5.44" fill="#4b0083"/><rect x="351.70" width="6.52" height="5.44" fill="#4d0089"/><rect x="357.92" width="6.52" height="5.44" fill="#510097"/><rect x="364.15" width="6.52" height="5.44" fill="#5500a5"/><rect x="370.37" width="6.52" height="5.44" fill="#5c01ba"/><rect x="376.59" width="6.52" height="5.44" fill="#6201cd"/><rect x="382.82" width="6.52" height="5.44" fill="#6901df"/><rect x="389.04" width="6.52" height="5.44" fill="#6f02ee"/><rect x="395.26" width="6.52" height="5.44" fill="#7402f6"/><rect x="401.49" width="6.52" height="5.44" fill="#7903fc"/><rect x="407.71" width="6.52" height="5.44" fill="#7b03fd"/><rect x="413.93" width="6.52" height="5.44" fill="#7c03fe"/><rect x="420.16" width="6.52" height="5.44" fill="#7f04ff"/><rect x="426.38" width="6.52" height="5.44" fill="#8104ff"/><rect x="432.61" width="6.52" height="5.44" fill="#8205fe"/><rect x="438.83" width="6.52" height="5.44" fill="#8405fd"/><rect x="445.05" width="6.52" height="5.44" fill="#8505fd"/><rect x="451.28" width="6.52" height="5.44" fill="#8605fb"/><rect x="457.50" width="6.52" height="5.44" fill="#8706fa"/><rect x="463.72" width="18.97" height="5.44" fill="#8806f9"/><rect x="482.39" width="6.52" height="5.44" fill="#8806fa"/><rect x="488.62" width="6.52" height="5.44" fill="#8706fa"/><rect x="494.84" width="6.52" height="5.44" fill="#8605fb"/><rect x="501.06" width="6.52" height="5.44" fill="#8505fd"/><rect x="507.29" width="6.52" height="5.44" fill="#8405fd"/><rect x="513.51" width="6.52" height="5.44" fill="#8305fe"/><rect x="519.73" width="5.07" height="5.44" fill="#7e04ff"/></g>
<g transform="translate(0 131.93)"><rect x="74.50" width="3.67" height="5.44" fill="#8204ff"/><rect x="77.87" width="6.52" height="5.44" fill="#7c03fe"/><rect x="84.09" width="6.52" height="5.44" fill="#7b03fe"/><rect x="90.31" width="6.52" height="5.44" fill="#7a03fd"/><rect x="96.54" width="6.52" height="5.44" fill="#7903fc"/><rect x="102.76" width="6.52" height="5.44" fill="#7803fb"/><rect x="108.98" width="6.52" height="5.44" fill="#7703f9"/><rect x="115.21" width="6.52" height="5.44" fill="#7602f8"/><rect x="121.43" width="6.52" height="5.44" fill="#7402f6"/><rect x="127.65" width="18.97" height="5.44" fill="#7302f4"/><rect x="146.32" width="6.52" height="5.44" fill="#7202f2"/><rect x="152.55" width="18.97" height="5.44" fill="#7102f0"/><rect x="171.22" width="6.52" height="5.44" fill="#6f02ee"/><rect x="177.44" width="18.97" height="5.44" fill="#6e02eb"/><rect x="196.11" width="6.52" height="5.44" fill="#6d02e8"/><rect x="202.34" width="6.52" height="5.44" fill="#6c01e5"/><rect x="208.56" width="6.52" height="5.44" fill="#6a01e2"/><rect x="214.78" width="6.52" height="5.44" fill="#6901df"/><rect x="221.01" width="6.52" height="5.44" fill="#6801dc"/><rect x="227.23" width="6.52" height="5.44" fill="#6601d8"/><rect x="233.45" width="6.52" height="5.44" fill="#6201cd"/><rect x="239.68" width="6.52" height="5.44" fill="#5e01c0"/><rect x="245.90" width="6.52" height="5.44" fill="#5b01b6"/><rect x="252.12" width="6.52" height="5.44" fill="#5800ac"/><rect x="258.35" width="6.52" height="5.44" fill="#5600a7"/><rect x="264.57" width="6.52" height="5.44" fill="#5400a2"/><rect x="270.79" width="6.52" height="5.44" fill="#510097"/><rect x="277.02" width="6.52" height="5.44" fill="#4e008c"/><rect x="283.24" width="6.52" height="5.44" fill="#4c0086"/><rect x="289.46" width="18.97" height="5.44" fill="#4a0080"/><rect x="308.14" width="6.52" height="5.44" fill="#4c0086"/><rect x="314.36" width="18.97" height="5.44" fill="#4e008c"/><rect x="333.03" width="6.52" height="5.44" fill="#4d0089"/><rect x="339.25" width="6.52" height="5.44" fill="#4c0086"/><rect x="345.48" width="6.52" height="5.44" fill="#4e008c"/><rect x="351.70" width="6.52" height="5.44" fill="#4f0092"/><rect x="357.92" width="6.52" height="5.44" fill="#54009f"/><rect x="364.15" width="6.52" height="5.44" fill="#5800ac"/><rect x="370.37" width="6.52" height="5.44" fill="#5e01c0"/><rect x="376.59" width="6.52" height="5.44" fill="#6401d1"/><rect x="382.82" width="6.52" height="5.44" fill="#6a01e2"/><rect x="389.04" width="6.52" height="5.44" fill="#7102f0"/><rect x="395.26" width="6.52" height="5.44" fill="#7602f8"/><rect x="401.49" width="6.52" height="5.44" fill="#7a03fd"/><rect x="407.71" width="6.52" height="5.44" fill="#7c03fe"/><rect x="413.93" width="6.52" height="5.44" fill="#7f04ff"/><rect x="420.16" width="6.52" height="5.44" fill="#8104ff"/><rect x="426.38" width="6.52" height="5.44" fill="#8305fe"/><rect x="432.61" width="6.52" height="5.44" fill="#8505fd"/><rect x="438.83" width="6.52" height="5.44" fill="#8706fa"/><rect x="445.05" width="6.52" height="5.44" fill="#8806f9"/><rect x="451.28" width="6.52" height="5.44" fill="#8906f7"/><rect x="457.50" width="6.52" height="5.44" fill="#8a06f5"/><rect x="463.72" width="31.42" height="5.44" fill="#8b07f4"/><rect x="494.84" width="6.52" height="5.44" fill="#8a06f5"/><rect x="501.06" width="6.52" height="5.44" fill="#8906f7"/><rect x="507.29" width="6.52" height="5.44" fill="#8806f9"/><rect x="513.51" width="6.52" height="5.44" fill="#8706fa"/><rect x="519.73" width="5.07" height="5.44" fill="#8204ff"/></g>
<g transform="translate(0 137.07)"><rect x="74.50" width="3.67" height="5.44" fill="#8906f8"/><rect x="77.87" width="6.52" height="5.44" fill="#8505fd"/><rect x="84.09" width="6.52" height="5.44" fill="#8205fe"/><rect x="90.31" width="6.52" height="5.44" fill="#8004ff"/><rect x="96.54" width="6.52" height="5.44" fill="#7e04ff"/><rect x="102.76" width="6.52" height="5.44" fill="#7c03fe"/><rect x="108.98" width="6.52" height="5.44" fill="#7b03fd"/><rect x="115.21" width="6.52" height="5.44" fill="#7903fc"/><rect x="121.43" width="6.52" height="5.44" fill="#7703fa"/><rect x="127.65" width="6.52" height="5.44" fill="#7602f8"/><rect x="133.88" width="12.75" height="5.44" fill="#7402f6"/><rect x="146.32" width="6.52" height="5.44" fill="#7302f3"/><rect x="152.55" width="18.97" height="5.44" fill="#7202f2"/><rect x="171.22" width="6.52" height="5.44" fill="#7102f1"/><rect x="177.44" width="6.52" height="5.44" fill="#7102f0"/><rect x="183.67" width="12.75" height="5.44" fill="#6f02ee"/><rect x="196.11" width="6.52" height="5.44" fill="#6f02ec"/><rect x="202.34" width="6.52" height="5.44" fill="#6e02eb"/><rect x="208.56" width="6.52" height="5.44" fill="#6c01e7"/><rect x="214.78" width="6.52" height="5.44" fill="#6c01e5"/><rect x="221.01" width="6.52" height="5.44" fill="#6a01e1"/><rect x="227.23" width="6.52" height="5.44" fill="#6801dc"/><rect x="233.45" width="6.52" height="5.44" fill="#6001c6"/><rect x="239.68" width="6.52" height="5.44" fill="#5b01b6"/><rect x="245.90" width="6.52" height="5.44" fill="#5800ac"/><rect x="252.12" width="6.52" height="5.44" fill="#5600a7"/><rect x="258.35" width="6.52" height="5.44" fill="#54009f"/><rect x="264.57" width="6.52" height="5.44" fill="#510097"/><rect x="270.79" width="6.52" height="5.44" fill="#4e008c"/><rect x="277.02" width="6.52" height="5.44" fill="#4c0086"/><rect x="283.24" width="6.52" height="5.44" fill="#49007d"/><rect x="289.46" width="18.97" height="5.44" fill="#48007a"/><rect x="308.14" width="6.52" height="5.44" fill="#49007d"/><rect x="314.36" width="12.75" height="5.44" fill="#4c0086"/><rect x="326.81" width="6.52" height="5.44" fill="#4e008c"/><rect x="333.03" width="6.52" height="5.44" fill="#4d008b"/><rect x="339.25" width="6.52" height="5.44" fill="#4e008f"/><rect x="345.48" width="6.52" height="5.44" fill="#4f0092"/><rect x="351.70" width="6.52" height="5.44" fill="#5500a5"/><rect x="357.92" width="6.52" height="5.44" fill="#5900b0"/><rect x="364.15" width="6.52" height="5.44" fill="#5c01bb"/><rect x="370.37" width="6.52" height="5.44" fill="#6201cd"/><rect x="376.59" width="6.52" height="5.44" fill="#6801dc"/><rect x="382.82" width="6.52" height="5.44" fill="#6e02ea"/><rect x="389.04" width="6.52" height="5.44" fill="#7302f4"/><rect x="395.26" width="6.52" height="5.44" fill="#7b03fd"/><rect x="401.49" width="6.52" height="5.44" fill="#7f04ff"/><rect x="407.71" width="6.52" height="5.44" fill="#8104ff"/><rect x="413.93" width="6.52" height="5.44" fill="#8505fd"/><rect x="420.16" width="6.52" height="5.44" fill="#8806fa"/><rect x="426.38" width="6.52" height="5.44" fill="#8b07f5"/><rect x="432.61" width="6.52" height="5.44" fill="#8e07ee"/><rect x="438.83" width="6.52" height="5.44" fill="#9108e6"/><rect x="445.05" width="6.52" height="5.44" fill="#8d07ef"/><rect x="451.28" width="6.52" height="5.44" fill="#8f08eb"/><rect x="457.50" width="6.52" height="5.44" fill="#9008e7"/><rect x="463.72" width="6.52" height="5.44" fill="#9108e6"/><rect x="469.95" width="6.52" height="5.44" fill="#9209df"/><rect x="476.17" width="12.75" height="5.44" fill="#9209e3"/><rect x="488.62" width="6.52" height="5.44" fill="#9108e6"/><rect x="494.84" width="6.52" height="5.44" fill="#9008e7"/><rect x="501.06" width="6.52" height="5.44" fill="#8f08eb"/><rect x="507.29" width="6.52" height="5.44" fill="#8e08ed"/><rect x="513.51" width="6.52" height="5.44" fill="#8e07ee"/><rect x="519.73" width="5.07" height="5.44" fill="#8b07f4"/></g>
<g transform="translate(0 142.21)"><rect x="74.50" width="3.67" height="5.44" fill="#8f08ea"/><rect x="77.87" width="6.52" height="5.44" fill="#8d07ef"/><rect x="84.09" width="6.52" height="5.44" fill="#8906f7"/><rect x="90.31" width="6.52" height="5.44" fill="#8505fd"/><rect x="96.54" width="6.52" height="5.44" fill="#8305fe"/><rect x="102.76" width="6.52" height="5.44" fill="#8104ff"/><rect x="108.98" width="6.52" height="5.44" fill="#7f04ff"/><rect x="115.21" width="6.52" height="5.44" fill="#7c03fe"/><rect x="121.43" width="6.52" height="5.44" fill="#7a03fd"/><rect x="127.65" width="6.52" height="5.44" fill="#7803fb"/><rect x="133.88" width="12.75" height="5.44" fill="#7602f8"/><rect x="146.32" width="37.64" height="5.44" fill="#7302f4"/><rect x="183.67" width="25.19" height="5.44" fill="#7102f0"/><rect x="208.56" width="12.75" height="5.44" fill="#6e02eb"/><rect x="221.01" width="6.52" height="5.44" fill="#6c01e5"/><rect x="227.23" width="6.52" height="5.44" fill="#6901df"/><rect x="233.45" width="6.52" height="5.44" fill="#5e01c0"/><rect x="239.68" width="6.52" height="5.44" fill="#5800ac"/><rect x="245.90" width="12.75" height="5.44" fill="#5400a2"/><rect x="258.35" width="6.52" height="5.44" fill="#510097"/><rect x="264.57" width="6.52" height="5.44" fill="#4e008c"/><rect x="270.79" width="12.75" height="5.44" fill="#4a0080"/><rect x="283.24" width="31.42" height="5.44" fill="#460074"/><rect x="314.36" width="12.75" height="5.44" fill="#4a0080"/><rect x="326.81" width="12.75" height="5.44" fill="#4e008c"/><rect x="339.25" width="12.75" height="5.44" fill="#510097"/><rect x="351.70" width="6.52" height="5.44" fill="#5b01b6"/><rect x="357.92" width="6.52" height="5.44" fill="#5e01c0"/><rect x="364.15" width="6.52" height="5.44" fill="#6101c8"/><rect x="370.37" width="6.52" height="5.44" fill="#6601d8"/><rect x="376.59" width="6.52" height="5.44" fill="#6c01e5"/><rect x="382.82" width="6.52" height="5.44" fill="#7102f0"/><rect x="389.04" width="6.52" height="5.44" fill="#7602f8"/><rect x="395.26" width="6.52" height="5.44" fill="#8004ff"/><rect x="401.49" width="6.52" height="5.44" fill="#8405fd"/><rect x="407.71" width="6.52" height="5.44" fill="#8605fb"/><rect x="413.93" width="6.52" height="5.44" fill="#8a06f5"/><rect x="420.16" width="6.52" height="5.44" fill="#8e08ed"/><rect x="426.38" width="6.52" height="5.44" fill="#9209e1"/><rect x="432.61" width="6.52" height="5.44" fill="#960ad3"/><rect x="438.83" width="6.52" height="5.44" fill="#990cc2"/><rect x="445.05" width="6.52" height="5.44" fill="#9209e1"/><rect x="451.28" width="6.52" height="5.44" fill="#940ada"/><rect x="457.50" width="12.75" height="5.44" fill="#960ad3"/><rect x="469.95" width="6.52" height="5.44" fill="#990cc2"/><rect x="476.17" width="12.75" height="5.44" fill="#980bcb"/><rect x="488.62" width="12.75" height="5.44" fill="#960ad3"/><rect x="501.06" width="23.74" height="5.44" fill="#940ada"/></g>
<g transform="translate(0 147.36)"><rect x="74.50" width="3.67" height="5.44" fill="#990cc7"/><rect x="77.87" width="6.52" height="5.44" fill="#970bcf"/><rect x="84.09" width="6.52" height="5.44" fill="#9309de"/><rect x="90.31" width="6.52" height="5.44" fill="#8f08ea"/><rect x="96.54" width="6.52" height="5.44" fill="#8906f7"/><rect x="102.76" width="6.52" height="5.44" fill="#8505fd"/><rect x="108.98" width="6.52" height="5.44" fill="#8104ff"/><rect x="115.21" width="6.52" height="5.44" fill="#7f04ff"/><rect x="121.43" width="6.52" height="5.44" fill="#7c03fe"/><rect x="127.65" width="6.52" height="5.44" fill="#7a03fd"/><rect x="133.88" width="6.52" height="5.44" fill="#7803fb"/><rect x="140.10" width="6.52" height="5.44" fill="#7602f8"/><rect x="146.32" width="43.86" height="5.44" fill="#7302f4"/><rect x="189.89" width="25.19" height="5.44" fill="#7102f0"/><rect x="214.78" width="12.75" height="5.44" fill="#6e02eb"/><rect x="227.23" width="6.52" height="5.44" fill="#6c01e5"/><rect x="233.45" width="6.52" height="5.44" fill="#6101ca"/><rect x="239.68" width="6.52" height="5.44" fill="#5b01b8"/><rect x="245.90" width="12.75" height="5.44" fill="#5800ae"/><rect x="258.35" width="6.52" height="5.44" fill="#5400a2"/><rect x="264.57" width="6.52" height="5.44" fill="#510097"/><rect x="270.79" width="12.75" height="5.44" fill="#4e008c"/><rect x="283.24" width="31.42" height="5.44" fill="#4a0080"/><rect x="314.36" width="12.75" height="5.44" fill="#4e008c"/><rect x="326.81" width="12.75" height="5.44" fill="#510097"/><rect x="339.25" width="12.75" height="5.44" fill="#5400a2"/><rect x="351.70" width="6.52" height="5.44" fill="#5b01b6"/><rect x="357.92" width="6.52" height="5.44" fill="#5e01c0"/><rect x="364.15" width="6.52" height="5.44" fill="#6401d1"/><rect x="370.37" width="6.52" height="5.44" fill="#6601d8"/><rect x="376.59" width="6.52" height="5.44" fill="#6c01e5"/><rect x="382.82" width="6.52" height="5.44" fill="#7102f0"/><rect x="389.04" width="6.52" height="5.44" fill="#7803fb"/><rect x="395.26" width="6.52" height="5.44" fill="#8104ff"/><rect x="401.49" width="6.52" height="5.44" fill="#8505fd"/><rect x="407.71" width="6.52" height="5.44" fill="#8706fa"/><rect x="413.93" width="6.52" height="5.44" fill="#8d07ef"/><rect x="420.16" width="6.52" height="5.44" fill="#8f08ea"/><rect x="426.38" width="6.52" height="5.44" fill="#9309de"/><rect x="432.61" width="6.52" height="5.44" fill="#990cc7"/><rect x="438.83" width="6.52" height="5.44" fill="#9c0db4"/><rect x="445.05" width="6.52" height="5.44" fill="#980bc9"/><rect x="451.28" width="6.52" height="5.44" fill="#9a0cc1"/><rect x="457.50" width="12.75" height="5.44" fill="#9c0db8"/><rect x="469.95" width="12.75" height="5.44" fill="#a00fa0"/><rect x="482.39" width="31.42" height="5.44" fill="#9e0eaa"/><rect x="513.51" width="11.29" height="5.44" fill="#9c0db4"/></g>
<g transform="translate(0 152.50)"><rect x="74.50" width="3.67" height="5.44" fill="#a00fa0"/><rect x="77.87" width="6.52" height="5.44" fill="#9e0eaa"/><rect x="84.09" width="6.52" height="5.44" fill="#9c0db4"/><rect x="90.31" width="6.52" height="5.44" fill="#990cc7"/><rect x="96.54" width="6.52" height="5.44" fill="#9309de"/><rect x="102.76" width="6.52" height="5.44" fill="#8906f7"/><rect x="108.98" width="6.52" height="5.44" fill="#8305fe"/><rect x="115.21" width="6.52" height="5.44" fill="#7f04ff"/><rect x="121.43" width="6.52" height="5.44" fill="#7c03fe"/><rect x="127.65" width="6.52" height="5.44" fill="#7a03fd"/><rect x="133.88" width="6.52" height="5.44" fill="#7803fb"/><rect x="140.10" width="12.75" height="5.44" fill="#7602f8"/><rect x="152.55" width="43.86" height="5.44" fill="#7302f4"/><rect x="196.11" width="25.19" height="5.44" fill="#7102f0"/><rect x="221.01" width="12.75" height="5.44" fill="#6e02eb"/><rect x="233.45" width="6.52" height="5.44" fill="#6501d4"/><rect x="239.68" width="6.52" height="5.44" fill="#5f01c3"/><rect x="245.90" width="12.75" height="5.44" fill="#5c01ba"/><rect x="258.35" width="6.52" height="5.44" fill="#5800ac"/><rect x="264.57" width="6.52" height="5.44" fill="#5400a2"/><rect x="270.79" width="12.75" height="5.44" fill="#510097"/><rect x="283.24" width="31.42" height="5.44" fill="#4e008c"/><rect x="314.36" width="12.75" height="5.44" fill="#510097"/><rect x="326.81" width="12.75" height="5.44" fill="#5400a2"/><rect x="339.25" width="12.75" height="5.44" fill="#5800ac"/><rect x="351.70" width="6.52" height="5.44" fill="#5b01b6"/><rect x="357.92" width="6.52" height="5.44" fill="#5e01c0"/><rect x="364.15" width="6.52" height="5.44" fill="#6401d1"/><rect x="370.37" width="6.52" height="5.44" fill="#6901df"/><rect x="376.59" width="6.52" height="5.44" fill="#6e02eb"/><rect x="382.82" width="6.52" height="5.44" fill="#7302f4"/><rect x="389.04" width="6.52" height="5.44" fill="#7803fb"/><rect x="395.26" width="6.52" height="5.44" fill="#8004ff"/><rect x="401.49" width="6.52" height="5.44" fill="#8405fd"/><rect x="407.71" width="6.52" height="5.44" fill="#8806f9"/><rect x="413.93" width="6.52" height="5.44" fill="#9209e1"/><rect x="420.16" width="6.52" height="5.44" fill="#960ad3"/><rect x="426.38" width="6.52" height="5.44" fill="#990cc2"/><rect x="432.61" width="6.52" height="5.44" fill="#9f0fa5"/><rect x="438.83" width="6.52" height="5.44" fill="#a1109b"/><rect x="445.05" width="6.52" height="5.44" fill="#980cc8"/><rect x="451.28" width="6.52" height="5.44" fill="#9e0eac"/><rect x="457.50" width="6.52" height="5.44" fill="#a11097"/><rect x="463.72" width="6.52" height="5.44" fill="#a3118c"/><rect x="469.95" width="43.86" height="5.44" fill="#a7146c"/><rect x="513.51" width="6.52" height="5.44" fill="#a61378"/><rect x="519.73" width="5.07" height="5.44" fill="#a41284"/></g>
<g transform="translate(0 157.64)"><rect x="74.50" width="3.67" height="5.44" fill="#aa1659"/><rect x="77.87" width="6.52" height="5.44" fill="#a71472"/><rect x="84.09" width="6.52" height="5.44" fill="#a5137e"/><rect x="90.31" width="6.52" height="5.44" fill="#a11095"/><rect x="96.54" width="6.52" height="5.44" fill="#9c0db4"/><rect x="102.76" width="6.52" height="5.44" fill="#9109e4"/><rect x="108.98" width="6.52" height="5.44" fill="#8505fd"/><rect x="115.21" width="6.52" height="5.44" fill="#8104ff"/><rect x="121.43" width="6.52" height="5.44" fill="#7c03fe"/><rect x="127.65" width="6.52" height="5.44" fill="#7a03fd"/><rect x="133.88" width="6.52" height="5.44" fill="#7803fb"/><rect x="140.10" width="6.52" height="5.44" fill="#7a03fd"/><rect x="146.32" width="18.97" height="5.44" fill="#7803fb"/><rect x="164.99" width="31.42" height="5.44" fill="#7602f8"/><rect x="196.11" width="6.52" height="5.44" fill="#7302f4"/><rect x="202.34" width="12.75" height="5.44" fill="#7102f0"/><rect x="214.78" width="18.97" height="5.44" fill="#6e02eb"/><rect x="233.45" width="6.52" height="5.44" fill="#6801dc"/><rect x="239.68" width="6.52" height="5.44" fill="#6501d5"/><rect x="245.90" width="6.52" height="5.44" fill="#6201cd"/><rect x="252.12" width="6.52" height="5.44" fill="#6001c5"/><rect x="258.35" width="6.52" height="5.44" fill="#5b01b6"/><rect x="264.57" width="12.75" height="5.44" fill="#5800ac"/><rect x="277.02" width="12.75" height="5.44" fill="#5400a2"/><rect x="289.46" width="25.19" height="5.44" fill="#510097"/><rect x="314.36" width="12.75" height="5.44" fill="#5400a2"/><rect x="326.81" width="12.75" height="5.44" fill="#5800ac"/><rect x="339.25" width="12.75" height="5.44" fill="#5b01b6"/><rect x="351.70" width="6.52" height="5.44" fill="#5e01c0"/><rect x="357.92" width="6.52" height="5.44" fill="#6101c8"/><rect x="364.15" width="6.52" height="5.44" fill="#6401d1"/><rect x="370.37" width="6.52" height="5.44" fill="#6901df"/><rect x="376.59" width="6.52" height="5.44" fill="#6e02eb"/><rect x="382.82" width="6.52" height="5.44" fill="#7302f4"/><rect x="389.04" width="6.52" height="5.44" fill="#7a03fd"/><rect x="395.26" width="6.52" height="5.44" fill="#7f04ff"/><rect x="401.49" width="6.52" height="5.44" fill="#8305fe"/><rect x="407.71" width="6.52" height="5.44" fill="#8706fa"/><rect x="413.93" width="6.52" height="5.44" fill="#9109e4"/><rect x="420.16" width="6.52" height="5.44" fill="#950ad7"/><rect x="426.38" width="6.52" height="5.44" fill="#990cc7"/><rect x="432.61" width="6.52" height="5.44" fill="#9e0eaa"/><rect x="438.83" width="6.52" height="5.44" fill="#a00fa0"/><rect x="445.05" width="6.52" height="5.44" fill="#9c0db7"/><rect x="451.28" width="6.52" height="5.44" fill="#a3118d"/><rect x="457.50" width="6.52" height="5.44" fill="#a61375"/><rect x="463.72" width="6.52" height="5.44" fill="#a81565"/><rect x="469.95" width="18.97" height="5.44" fill="#ad193e"/><rect x="488.62" width="6.52" height="5.44" fill="#af1a31"/><rect x="494.84" width="12.75" height="5.44" fill="#b01c24"/><rect x="507.29" width="6.52" height="5.44" fill="#af1a31"/><rect x="513.51" width="6.52" height="5.44" fill="#ad193e"/><rect x="519.73" width="5.07" height="5.44" fill="#ab184c"/></g>
<g transform="translate(0 162.78)"><rect x="74.50" width="3.67" height="5.44" fill="#b52100"/><rect x="77.87" width="6.52" height="5.44" fill="#b21d16"/><rect x="84.09" width="6.52" height="5.44" fill="#af1a31"/><rect x="90.31" width="6.52" height="5.44" fill="#ab184c"/><rect x="96.54" width="6.52" height="5.44" fill="#a5137e"/><rect x="102.76" width="6.52" height="5.44" fill="#970bcf"/><rect x="108.98" width="6.52" height="5.44" fill="#8906f7"/><rect x="115.21" width="6.52" height="5.44" fill="#8305fe"/><rect x="121.43" width="6.52" height="5.44" fill="#7f04ff"/><rect x="127.65" width="6.52" height="5.44" fill="#7c03fe"/><rect x="133.88" width="18.97" height="5.44" fill="#7a03fd"/><rect x="152.55" width="18.97" height="5.44" fill="#7803fb"/><rect x="171.22" width="31.42" height="5.44" fill="#7602f8"/><rect x="202.34" width="12.75" height="5.44" fill="#7302f4"/><rect x="214.78" width="18.97" height="5.44" fill="#7102f0"/><rect x="233.45" width="6.52" height="5.44" fill="#6b01e4"/><rect x="239.68" width="6.52" height="5.44" fill="#6801de"/><rect x="245.90" width="12.75" height="5.44" fill="#6601d7"/><rect x="258.35" width="6.52" height="5.44" fill="#6101c8"/><rect x="264.57" width="6.52" height="5.44" fill="#5e01c0"/><rect x="270.79" width="12.75" height="5.44" fill="#5b01b6"/><rect x="283.24" width="43.86" height="5.44" fill="#5800ac"/><rect x="326.81" width="12.75" height="5.44" fill="#5b01b6"/><rect x="339.25" width="18.97" height="5.44" fill="#5e01c0"/><rect x="357.92" width="6.52" height="5.44" fill="#6101c8"/><rect x="364.15" width="6.52" height="5.44" fill="#6601d8"/><rect x="370.37" width="6.52" height="5.44" fill="#6c01e5"/><rect x="376.59" width="6.52" height="5.44" fill="#7102f0"/><rect x="382.82" width="6.52" height="5.44" fill="#7602f8"/><rect x="389.04" width="6.52" height="5.44" fill="#7a03fd"/><rect x="395.26" width="6.52" height="5.44" fill="#7f04ff"/><rect x="401.49" width="6.52" height="5.44" fill="#8305fe"/><rect x="407.71" width="6.52" height="5.44" fill="#8706fa"/><rect x="413.93" width="6.52" height="5.44" fill="#9309de"/><rect x="420.16" width="6.52" height="5.44" fill="#970bcf"/><rect x="426.38" width="6.52" height="5.44" fill="#9a0dbe"/><rect x="432.61" width="6.52" height="5.44" fill="#a00fa0"/><rect x="438.83" width="6.52" height="5.44" fill="#a3118a"/><rect x="445.05" width="6.52" height="5.44" fill="#a0109e"/><rect x="451.28" width="6.52" height="5.44" fill="#a71470"/><rect x="457.50" width="6.52" height="5.44" fill="#ac1849"/><rect x="463.72" width="6.52" height="5.44" fill="#b01b28"/><rect x="469.95" width="12.75" height="5.44" fill="#b62200"/><rect x="482.39" width="6.52" height="5.44" fill="#b82400"/><rect x="488.62" width="6.52" height="5.44" fill="#b92600"/><rect x="494.84" width="12.75" height="5.44" fill="#bb2800"/><rect x="507.29" width="6.52" height="5.44" fill="#b92600"/><rect x="513.51" width="6.52" height="5.44" fill="#b82400"/><rect x="519.73" width="5.07" height="5.44" fill="#b62200"/></g>
<g transform="translate(0 167.93)"><rect x="74.50" width="3.67" height="5.44" fill="#c13000"/><rect x="77.87" width="6.52" height="5.44" fill="#bb2800"/><rect x="84.09" width="6.52" height="5.44" fill="#b62200"/><rect x="90.31" width="6.52" height="5.44" fill="#b21d16"/><rect x="96.54" width="6.52" height="5.44" fill="#ab184c"/><rect x="102.76" width="6.52" height="5.44" fill="#9c0db4"/><rect x="108.98" width="6.52" height="5.44" fill="#8f08ea"/><rect x="115.21" width="6.52" height="5.44" fill="#8706fa"/><rect x="121.43" width="6.52" height="5.44" fill="#8104ff"/><rect x="127.65" width="6.52" height="5.44" fill="#7f04ff"/><rect x="133.88" width="12.75" height="5.44" fill="#7c03fe"/><rect x="146.32" width="12.75" height="5.44" fill="#7a03fd"/><rect x="158.77" width="18.97" height="5.44" fill="#7803fb"/><rect x="177.44" width="37.64" height="5.44" fill="#7602f8"/><rect x="214.78" width="18.97" height="5.44" fill="#7302f4"/><rect x="233.45" width="6.52" height="5.44" fill="#7102f0"/><rect x="239.68" width="6.52" height="5.44" fill="#6e02eb"/><rect x="245.90" width="12.75" height="5.44" fill="#6c01e5"/><rect x="258.35" width="6.52" height="5.44" fill="#6601d8"/><rect x="264.57" width="12.75" height="5.44" fill="#6401d1"/><rect x="277.02" width="12.75" height="5.44" fill="#6101c8"/><rect x="289.46" width="25.19" height="5.44" fill="#5e01c0"/><rect x="314.36" width="6.52" height="5.44" fill="#6c01e5"/><rect x="320.58" width="6.52" height="5.44" fill="#6901df"/><rect x="326.81" width="12.75" height="5.44" fill="#6601d8"/><rect x="339.25" width="12.75" height="5.44" fill="#6401d1"/><rect x="351.70" width="12.75" height="5.44" fill="#6101c8"/><rect x="364.15" width="6.52" height="5.44" fill="#6401d1"/><rect x="370.37" width="6.52" height="5.44" fill="#6601d8"/><rect x="376.59" width="6.52" height="5.44" fill="#6c01e5"/><rect x="382.82" width="6.52" height="5.44" fill="#7102f0"/><rect x="389.04" width="6.52" height="5.44" fill="#7a03fd"/><rect x="395.26" width="6.52" height="5.44" fill="#7f04ff"/><rect x="401.49" width="6.52" height="5.44" fill="#8305fe"/><rect x="407.71" width="6.52" height="5.44" fill="#8906f7"/><rect x="413.93" width="6.52" height="5.44" fill="#9309de"/><rect x="420.16" width="6.52" height="5.44" fill="#970bcf"/><rect x="426.38" width="6.52" height="5.44" fill="#9c0db4"/><rect x="432.61" width="6.52" height="5.44" fill="#a11095"/><rect x="438.83" width="6.52" height="5.44" fill="#a71472"/><rect x="445.05" width="6.52" height="5.44" fill="#a41283"/><rect x="451.28" width="6.52" height="5.44" fill="#ac1844"/><rect x="457.50" width="6.52" height="5.44" fill="#b72300"/><rect x="463.72" width="6.52" height="5.44" fill="#c02e00"/><rect x="469.95" width="18.97" height="5.44" fill="#c73900"/><rect x="488.62" width="6.52" height="5.44" fill="#c83b00"/><rect x="494.84" width="18.97" height="5.44" fill="#c93e00"/><rect x="513.51" width="6.52" height="5.44" fill="#c43400"/><rect x="519.73" width="5.07" height="5.44" fill="#c23200"/></g>
<g transform="translate(0 173.07)"><rect x="74.50" width="3.67" height="5.44" fill="#c93e00"/><rect x="77.87" width="6.52" height="5.44" fill="#c13000"/><rect x="84.09" width="6.52" height="5.44" fill="#bc2a00"/><rect x="90.31" width="6.52" height="5.44" fill="#b92600"/><rect x="96.54" width="6.52" height="5.44" fill="#b52100"/><rect x="102.76" width="6.52" height="5.44" fill="#a5137e"/><rect x="108.98" width="6.52" height="5.44" fill="#970bcf"/><rect x="115.21" width="6.52" height="5.44" fill="#8f08ea"/><rect x="121.43" width="6.52" height="5.44" fill="#8906f7"/><rect x="127.65" width="6.52" height="5.44" fill="#8505fd"/><rect x="133.88" width="12.75" height="5.44" fill="#8104ff"/><rect x="146.32" width="6.52" height="5.44" fill="#7f04ff"/><rect x="152.55" width="6.52" height="5.44" fill="#7c03fe"/><rect x="158.77" width="12.75" height="5.44" fill="#7a03fd"/><rect x="171.22" width="56.31" height="5.44" fill="#7803fb"/><rect x="227.23" width="18.97" height="5.44" fill="#7602f8"/><rect x="245.90" width="12.75" height="5.44" fill="#7302f4"/><rect x="258.35" width="18.97" height="5.44" fill="#6e02eb"/><rect x="277.02" width="18.97" height="5.44" fill="#6c01e5"/><rect x="295.69" width="6.52" height="5.44" fill="#6901df"/><rect x="301.91" width="6.52" height="5.44" fill="#6601d8"/><rect x="308.14" width="6.52" height="5.44" fill="#6401d1"/><rect x="314.36" width="6.52" height="5.44" fill="#7803fb"/><rect x="320.58" width="6.52" height="5.44" fill="#7302f4"/><rect x="326.81" width="6.52" height="5.44" fill="#6e02eb"/><rect x="333.03" width="6.52" height="5.44" fill="#6901df"/><rect x="339.25" width="6.52" height="5.44" fill="#6601d8"/><rect x="345.48" width="6.52" height="5.44" fill="#6401d1"/><rect x="351.70" width="12.75" height="5.44" fill="#5f01c4"/><rect x="364.15" width="6.52" height="5.44" fill="#6101c8"/><rect x="370.37" width="6.52" height="5.44" fill="#6601d8"/><rect x="376.59" width="6.52" height="5.44" fill="#6e02eb"/><rect x="382.82" width="6.52" height="5.44" fill="#7302f4"/><rect x="389.04" width="6.52" height="5.44" fill="#7a03fd"/><rect x="395.26" width="6.52" height="5.44" fill="#7f04ff"/><rect x="401.49" width="6.52" height="5.44" fill="#8505fd"/><rect x="407.71" width="6.52" height="5.44" fill="#8906f7"/><rect x="413.93" width="6.52" height="5.44" fill="#950ad7"/><rect x="420.16" width="6.52" height="5.44" fill="#990cc7"/><rect x="426.38" width="6.52" height="5.44" fill="#9e0eaa"/><rect x="432.61" width="6.52" height="5.44" fill="#a5137e"/><rect x="438.83" width="12.75" height="5.44" fill="#aa1659"/><rect x="451.28" width="6.52" height="5.44" fill="#b21d16"/><rect x="457.50" width="6.52" height="5.44" fill="#be2c00"/><rect x="463.72" width="6.52" height="5.44" fill="#c73900"/><rect x="469.95" width="25.19" height="5.44" fill="#cd4600"/><rect x="494.84" width="18.97" height="5.44" fill="#cf4800"/><rect x="513.51" width="6.52" height="5.44" fill="#c93e00"/><rect x="519.73" width="5.07" height="5.44" fill="#c83b00"/></g>
<g transform="translate(0 178.21)"><rect x="74.50" width="3.67" height="5.44" fill="#cf4800"/><rect x="77.87" width="6.52" height="5.44" fill="#c83b00"/><rect x="84.09" width="6.52" height="5.44" fill="#c13000"/><rect x="90.31" width="6.52" height="5.44" fill="#bc2a00"/><rect x="96.54" width="6.52" height="5.44" fill="#b92600"/><rect x="102.76" width="6.52" height="5.44" fill="#af1a31"/><rect x="108.98" width="6.52" height="5.44" fill="#a00fa0"/><rect x="115.21" width="6.52" height="5.44" fill="#990cc7"/><rect x="121.43" width="6.52" height="5.44" fill="#9309de"/><rect x="127.65" width="6.52" height="5.44" fill="#8f08ea"/><rect x="133.88" width="6.52" height="5.44" fill="#8906f7"/><rect x="140.10" width="6.52" height="5.44" fill="#8b07f4"/><rect x="146.32" width="6.52" height="5.44" fill="#8706fa"/><rect x="152.55" width="6.52" height="5.44" fill="#8305fe"/><rect x="158.77" width="6.52" height="5.44" fill="#8104ff"/><rect x="164.99" width="6.52" height="5.44" fill="#7f04ff"/><rect x="171.22" width="6.52" height="5.44" fill="#7c03fe"/><rect x="177.44" width="37.64" height="5.44" fill="#7a03fd"/><rect x="214.78" width="12.75" height="5.44" fill="#7c03fe"/><rect x="227.23" width="31.42" height="5.44" fill="#7a03fd"/><rect x="258.35" width="31.42" height="5.44" fill="#7c03fe"/><rect x="289.46" width="6.52" height="5.44" fill="#7a03fd"/><rect x="295.69" width="6.52" height="5.44" fill="#7803fb"/><rect x="301.91" width="6.52" height="5.44" fill="#7602f8"/><rect x="308.14" width="6.52" height="5.44" fill="#7102f0"/><rect x="314.36" width="6.52" height="5.44" fill="#7c03fe"/><rect x="320.58" width="6.52" height="5.44" fill="#7602f8"/><rect x="326.81" width="6.52" height="5.44" fill="#6e02eb"/><rect x="333.03" width="6.52" height="5.44" fill="#6901df"/><rect x="339.25" width="6.52" height="5.44" fill="#6501d4"/><rect x="345.48" width="6.52" height="5.44" fill="#6101c8"/><rect x="351.70" width="12.75" height="5.44" fill="#5e01c0"/><rect x="364.15" width="6.52" height="5.44" fill="#5f01c4"/><rect x="370.37" width="6.52" height="5.44" fill="#6401d1"/><rect x="376.59" width="6.52" height="5.44" fill="#6c01e5"/><rect x="382.82" width="6.52" height="5.44" fill="#7302f4"/><rect x="389.04" width="6.52" height="5.44" fill="#7a03fd"/><rect x="395.26" width="6.52" height="5.44" fill="#8104ff"/><rect x="401.49" width="6.52" height="5.44" fill="#8906f7"/><rect x="407.71" width="6.52" height="5.44" fill="#8d07ef"/><rect x="413.93" width="6.52" height="5.44" fill="#990cc7"/><rect x="420.16" width="6.52" height="5.44" fill="#9c0db4"/><rect x="426.38" width="6.52" height="5.44" fill="#a11095"/><rect x="432.61" width="6.52" height="5.44" fill="#a5137e"/><rect x="438.83" width="6.52" height="5.44" fill="#aa1659"/><rect x="445.05" width="6.52" height="5.44" fill="#b21d16"/><rect x="451.28" width="6.52" height="5.44" fill="#bb2800"/><rect x="457.50" width="6.52" height="5.44" fill="#c73900"/><rect x="463.72" width="6.52" height="5.44" fill="#d04b00"/><rect x="469.95" width="6.52" height="5.44" fill="#d35100"/><rect x="476.17" width="12.75" height="5.44" fill="#d45400"/><rect x="488.62" width="25.19" height="5.44" fill="#d35100"/><rect x="513.51" width="6.52" height="5.44" fill="#cd4600"/><rect x="519.73" width="5.07" height="5.44" fill="#cc4300"/></g>
<g transform="translate(0 183.35)"><rect x="74.50" width="3.67" height="5.44" fill="#d55800"/><rect x="77.87" width="6.52" height="5.44" fill="#cf4800"/><rect x="84.09" width="6.52" height="5.44" fill="#c53600"/><rect x="90.31" width="6.52" height="5.44" fill="#be2c00"/><rect x="96.54" width="6.52" height="5.44" fill="#bb2800"/><rect x="102.76" width="6.52" height="5.44" fill="#b21d16"/><rect x="108.98" width="6.52" height="5.44" fill="#a81565"/><rect x="115.21" width="6.52" height="5.44" fill="#a00fa0"/><rect x="121.43" width="6.52" height="5.44" fill="#9a0dbe"/><rect x="127.65" width="6.52" height="5.44" fill="#970bcf"/><rect x="133.88" width="6.52" height="5.44" fill="#9309de"/><rect x="140.10" width="6.52" height="5.44" fill="#950ad7"/><rect x="146.32" width="6.52" height="5.44" fill="#8f08ea"/><rect x="152.55" width="6.52" height="5.44" fill="#8b07f4"/><rect x="158.77" width="6.52" height="5.44" fill="#8706fa"/><rect x="164.99" width="6.52" height="5.44" fill="#8305fe"/><rect x="171.22" width="6.52" height="5.44" fill="#8104ff"/><rect x="177.44" width="6.52" height="5.44" fill="#7f04ff"/><rect x="183.67" width="18.97" height="5.44" fill="#7c03fe"/><rect x="202.34" width="6.52" height="5.44" fill="#7f04ff"/><rect x="208.56" width="6.52" height="5.44" fill="#8104ff"/><rect x="214.78" width="18.97" height="5.44" fill="#8305fe"/><rect x="233.45" width="25.19" height="5.44" fill="#8505fd"/><rect x="258.35" width="6.52" height="5.44" fill="#8f08ea"/><rect x="264.57" width="6.52" height="5.44" fill="#9109e4"/><rect x="270.79" width="6.52" height="5.44" fill="#950ad7"/><rect x="277.02" width="12.75" height="5.44" fill="#970bcf"/><rect x="289.46" width="6.52" height="5.44" fill="#9309de"/><rect x="295.69" width="6.52" height="5.44" fill="#8f08ea"/><rect x="301.91" width="6.52" height="5.44" fill="#8906f7"/><rect x="308.14" width="6.52" height="5.44" fill="#8305fe"/><rect x="314.36" width="6.52" height="5.44" fill="#7c03fe"/><rect x="320.58" width="6.52" height="5.44" fill="#7602f8"/><rect x="326.81" width="6.52" height="5.44" fill="#6e02eb"/><rect x="333.03" width="6.52" height="5.44" fill="#6901df"/><rect x="339.25" width="6.52" height="5.44" fill="#6501d4"/><rect x="345.48" width="6.52" height="5.44" fill="#6101c8"/><rect x="351.70" width="12.75" height="5.44" fill="#5c01bb"/><rect x="364.15" width="6.52" height="5.44" fill="#5e01c0"/><rect x="370.37" width="6.52" height="5.44" fill="#6201cd"/><rect x="376.59" width="6.52" height="5.44" fill="#6a01e2"/><rect x="382.82" width="6.52" height="5.44" fill="#7302f4"/><rect x="389.04" width="6.52" height="5.44" fill="#7a03fd"/><rect x="395.26" width="6.52" height="5.44" fill="#8104ff"/><rect x="401.49" width="6.52" height="5.44" fill="#8906f7"/><rect x="407.71" width="6.52" height="5.44" fill="#8d07ef"/><rect x="413.93" width="6.52" height="5.44" fill="#970bcf"/><rect x="420.16" width="6.52" height="5.44" fill="#9a0dbe"/><rect x="426.38" width="6.52" height="5.44" fill="#a00fa0"/><rect x="432.61" width="6.52" height="5.44" fill="#a5137e"/><rect x="438.83" width="6.52" height="5.44" fill="#ad193e"/><rect x="445.05" width="6.52" height="5.44" fill="#b52100"/><rect x="451.28" width="6.52" height="5.44" fill="#be2c00"/><rect x="457.50" width="6.52" height="5.44" fill="#c93e00"/><rect x="463.72" width="6.52" height="5.44" fill="#d35100"/><rect x="469.95" width="6.52" height="5.44" fill="#d75b00"/><rect x="476.17" width="6.52" height="5.44" fill="#d85e00"/><rect x="482.39" width="6.52" height="5.44" fill="#dd6c00"/><rect x="488.62" width="6.52" height="5.44" fill="#d96200"/><rect x="494.84" width="18.97" height="5.44" fill="#d85e00"/><rect x="513.51" width="6.52" height="5.44" fill="#d35100"/><rect x="519.73" width="5.07" height="5.44" fill="#d04b00"/></g>
<g transform="translate(0 188.50)"><rect x="74.50" width="3.67" height="5.44" fill="#d96200"/><rect x="77.87" width="6.52" height="5.44" fill="#d55800"/><rect x="84.09" width="6.52" height="5.44" fill="#cb4000"/><rect x="90.31" width="6.52" height="5.44" fill="#c13000"/><rect x="96.54" width="6.52" height="5.44" fill="#bb2800"/><rect x="102.76" width="6.52" height="5.44" fill="#b82400"/><rect x="108.98" width="6.52" height="5.44" fill="#b21d16"/><rect x="115.21" width="6.52" height="5.44" fill="#aa1659"/><rect x="121.43" width="6.52" height="5.44" fill="#a3118a"/><rect x="127.65" width="6.52" height="5.44" fill="#9e0eaa"/><rect x="133.88" width="6.52" height="5.44" fill="#9a0dbe"/><rect x="140.10" width="6.52" height="5.44" fill="#9e0eaa"/><rect x="146.32" width="6.52" height="5.44" fill="#990cc7"/><rect x="152.55" width="6.52" height="5.44" fill="#9309de"/><rect x="158.77" width="6.52" height="5.44" fill="#8d07ef"/><rect x="164.99" width="6.52" height="5.44" fill="#8906f7"/><rect x="171.22" width="6.52" height="5.44" fill="#8505fd"/><rect x="177.44" width="6.52" height="5.44" fill="#8305fe"/><rect x="183.67" width="6.52" height="5.44" fill="#8104ff"/><rect x="189.89" width="6.52" height="5.44" fill="#7f04ff"/><rect x="196.11" width="6.52" height="5.44" fill="#8104ff"/><rect x="202.34" width="6.52" height="5.44" fill="#8305fe"/><rect x="208.56" width="6.52" height="5.44" fill="#8706fa"/><rect x="214.78" width="6.52" height="5.44" fill="#8b07f4"/><rect x="221.01" width="6.52" height="5.44" fill="#8d07ef"/><rect x="227.23" width="6.52" height="5.44" fill="#9109e4"/><rect x="233.45" width="18.97" height="5.44" fill="#9309de"/><rect x="252.12" width="6.52" height="5.44" fill="#970bcf"/><rect x="258.35" width="6.52" height="5.44" fill="#9c0db4"/><rect x="264.57" width="6.52" height="5.44" fill="#a71472"/><rect x="270.79" width="6.52" height="5.44" fill="#ab184c"/><rect x="277.02" width="6.52" height="5.44" fill="#b31f08"/><rect x="283.24" width="6.52" height="5.44" fill="#b01c24"/><rect x="289.46" width="6.52" height="5.44" fill="#ad193e"/><rect x="295.69" width="6.52" height="5.44" fill="#a81565"/><rect x="301.91" width="6.52" height="5.44" fill="#9c0db4"/><rect x="308.14" width="6.52" height="5.44" fill="#9309de"/><rect x="314.36" width="6.52" height="5.44" fill="#7c03fe"/><rect x="320.58" width="6.52" height="5.44" fill="#7602f8"/><rect x="326.81" width="6.52" height="5.44" fill="#6e02eb"/><rect x="333.03" width="6.52" height="5.44" fill="#6901df"/><rect x="339.25" width="6.52" height="5.44" fill="#6401d1"/><rect x="345.48" width="6.52" height="5.44" fill="#5e01c0"/><rect x="351.70" width="12.75" height="5.44" fill="#5900b1"/><rect x="364.15" width="6.52" height="5.44" fill="#5b01b6"/><rect x="370.37" width="6.52" height="5.44" fill="#5f01c4"/><rect x="376.59" width="6.52" height="5.44" fill="#6901df"/><rect x="382.82" width="6.52" height="5.44" fill="#7102f0"/><rect x="389.04" width="6.52" height="5.44" fill="#7a03fd"/><rect x="395.26" width="6.52" height="5.44" fill="#8104ff"/><rect x="401.49" width="6.52" height="5.44" fill="#8906f7"/><rect x="407.71" width="6.52" height="5.44" fill="#8f08ea"/><rect x="413.93" width="6.52" height="5.44" fill="#970bcf"/><rect x="420.16" width="6.52" height="5.44" fill="#9c0db4"/><rect x="426.38" width="6.52" height="5.44" fill="#a3118a"/><rect x="432.61" width="6.52" height="5.44" fill="#a81565"/><rect x="438.83" width="6.52" height="5.44" fill="#b01c24"/><rect x="445.05" width="6.52" height="5.44" fill="#b82400"/><rect x="451.28" width="6.52" height="5.44" fill="#c13000"/><rect x="457.50" width="6.52" height="5.44" fill="#cd4600"/><rect x="463.72" width="6.52" height="5.44" fill="#d85e00"/><rect x="469.95" width="6.52" height="5.44" fill="#dd6c00"/><rect x="476.17" width="6.52" height="5.44" fill="#de7000"/><rect x="482.39" width="6.52" height="5.44" fill="#e27c00"/><rect x="488.62" width="6.52" height="5.44" fill="#eb9a00"/><rect x="494.84" width="18.97" height="5.44" fill="#dd6c00"/><rect x="513.51" width="6.52" height="5.44" fill="#d85e00"/><rect x="519.73" width="5.07" height="5.44" fill="#d55800"/></g>
<g transform="translate(0 193.64)"><rect x="74.50" width="3.67" height="5.44" fill="#e07400"/><rect x="77.87" width="6.52" height="5.44" fill="#dc6900"/><rect x="84.09" width="6.52" height="5.44" fill="#d55800"/><rect x="90.31" width="6.52" height="5.44" fill="#cb4000"/><rect x="96.54" width="6.52" height="5.44" fill="#c13000"/><rect x="102.76" width="6.52" height="5.44" fill="#bc2a00"/><rect x="108.98" width="6.52" height="5.44" fill="#b92600"/><rect x="115.21" width="6.52" height="5.44" fill="#b62200"/><rect x="121.43" width="6.52" height="5.44" fill="#af1a31"/><rect x="127.65" width="6.52" height="5.44" fill="#aa1659"/><rect x="133.88" width="6.52" height="5.44" fill="#a5137e"/><rect x="140.10" width="6.52" height="5.44" fill="#a3118a"/><rect x="146.32" width="6.52" height="5.44" fill="#9e0eaa"/><rect x="152.55" width="6.52" height="5.44" fill="#990cc7"/><rect x="158.77" width="6.52" height="5.44" fill="#9309de"/><rect x="164.99" width="6.52" height="5.44" fill="#8f08ea"/><rect x="171.22" width="6.52" height="5.44" fill="#8b07f4"/><rect x="177.44" width="6.52" height="5.44" fill="#8706fa"/><rect x="183.67" width="12.75" height="5.44" fill="#8505fd"/><rect x="196.11" width="6.52" height="5.44" fill="#8706fa"/><rect x="202.34" width="6.52" height="5.44" fill="#8b07f4"/><rect x="208.56" width="6.52" height="5.44" fill="#9109e4"/><rect x="214.78" width="6.52" height="5.44" fill="#970bcf"/><rect x="221.01" width="6.52" height="5.44" fill="#9a0dbe"/><rect x="227.23" width="6.52" height="5.44" fill="#a5137e"/><rect x="233.45" width="6.52" height="5.44" fill="#a71472"/><rect x="239.68" width="6.52" height="5.44" fill="#a5137e"/><rect x="245.90" width="6.52" height="5.44" fill="#a00fa0"/><rect x="252.12" width="6.52" height="5.44" fill="#970bcf"/><rect x="258.35" width="6.52" height="5.44" fill="#aa1659"/><rect x="264.57" width="12.75" height="5.44" fill="#bb2800"/><rect x="277.02" width="6.52" height="5.44" fill="#b52100"/><rect x="283.24" width="6.52" height="5.44" fill="#b21d16"/><rect x="289.46" width="6.52" height="5.44" fill="#b62200"/><rect x="295.69" width="6.52" height="5.44" fill="#ab184c"/><rect x="301.91" width="6.52" height="5.44" fill="#a00fa0"/><rect x="308.14" width="6.52" height="5.44" fill="#950ad7"/><rect x="314.36" width="6.52" height="5.44" fill="#7a03fd"/><rect x="320.58" width="6.52" height="5.44" fill="#7302f4"/><rect x="326.81" width="6.52" height="5.44" fill="#6c01e5"/><rect x="333.03" width="6.52" height="5.44" fill="#6601d8"/><rect x="339.25" width="6.52" height="5.44" fill="#6201cd"/><rect x="345.48" width="6.52" height="5.44" fill="#5c01bb"/><rect x="351.70" width="12.75" height="5.44" fill="#5800ac"/><rect x="364.15" width="6.52" height="5.44" fill="#5900b1"/><rect x="370.37" width="6.52" height="5.44" fill="#5e01c0"/><rect x="376.59" width="6.52" height="5.44" fill="#6801dc"/><rect x="382.82" width="6.52" height="5.44" fill="#7102f0"/><rect x="389.04" width="6.52" height="5.44" fill="#7a03fd"/><rect x="395.26" width="6.52" height="5.44" fill="#7f04ff"/><rect x="401.49" width="6.52" height="5.44" fill="#8906f7"/><rect x="407.71" width="6.52" height="5.44" fill="#8f08ea"/><rect x="413.93" width="6.52" height="5.44" fill="#970bcf"/><rect x="420.16" width="6.52" height="5.44" fill="#9e0eaa"/><rect x="426.38" width="6.52" height="5.44" fill="#a5137e"/><rect x="432.61" width="6.52" height="5.44" fill="#aa1659"/><rect x="438.83" width="6.52" height="5.44" fill="#b21d16"/><rect x="445.05" width="6.52" height="5.44" fill="#b92600"/><rect x="451.28" width="6.52" height="5.44" fill="#c23200"/><rect x="457.50" width="6.52" height="5.44" fill="#cf4800"/><rect x="463.72" width="6.52" height="5.44" fill="#d96200"/><rect x="469.95" width="12.75" height="5.44" fill="#dd6c00"/><rect x="482.39" width="6.52" height="5.44" fill="#e58400"/><rect x="488.62" width="6.52" height="5.44" fill="#eda400"/><rect x="494.84" width="18.97" height="5.44" fill="#e07400"/><rect x="513.51" width="6.52" height="5.44" fill="#db6500"/><rect x="519.73" width="5.07" height="5.44" fill="#d85e00"/></g>
<g transform="translate(0 198.78)"><rect x="74.50" width="3.67" height="5.44" fill="#e17800"/><rect x="77.87" width="6.52" height="5.44" fill="#e99600"/><rect x="84.09" width="6.52" height="5.44" fill="#ec9f00"/><rect x="90.31" width="6.52" height="5.44" fill="#de7000"/><rect x="96.54" width="6.52" height="5.44" fill="#d55800"/><rect x="102.76" width="6.52" height="5.44" fill="#cc4300"/><rect x="108.98" width="6.52" height="5.44" fill="#c43400"/><rect x="115.21" width="6.52" height="5.44" fill="#be2c00"/><rect x="121.43" width="6.52" height="5.44" fill="#bb2800"/><rect x="127.65" width="6.52" height="5.44" fill="#b62200"/><rect x="133.88" width="6.52" height="5.44" fill="#af1a31"/><rect x="140.10" width="6.52" height="5.44" fill="#aa1659"/><rect x="146.32" width="6.52" height="5.44" fill="#a5137e"/><rect x="152.55" width="6.52" height="5.44" fill="#a00fa0"/><rect x="158.77" width="6.52" height="5.44" fill="#990cc7"/><rect x="164.99" width="6.52" height="5.44" fill="#950ad7"/><rect x="171.22" width="6.52" height="5.44" fill="#9109e4"/><rect x="177.44" width="6.52" height="5.44" fill="#8d07ef"/><rect x="183.67" width="12.75" height="5.44" fill="#8b07f4"/><rect x="196.11" width="6.52" height="5.44" fill="#8f08ea"/><rect x="202.34" width="6.52" height="5.44" fill="#970bcf"/><rect x="208.56" width="6.52" height="5.44" fill="#9c0db4"/><rect x="214.78" width="6.52" height="5.44" fill="#a11095"/><rect x="221.01" width="6.52" height="5.44" fill="#a5137e"/><rect x="227.23" width="6.52" height="5.44" fill="#ad193e"/><rect x="233.45" width="12.75" height="5.44" fill="#b21d16"/><rect x="245.90" width="6.52" height="5.44" fill="#9e0eaa"/><rect x="252.12" width="6.52" height="5.44" fill="#8906f7"/><rect x="258.35" width="6.52" height="5.44" fill="#970bcf"/><rect x="264.57" width="12.75" height="5.44" fill="#9e0eaa"/><rect x="277.02" width="6.52" height="5.44" fill="#990cc7"/><rect x="283.24" width="6.52" height="5.44" fill="#970bcf"/><rect x="289.46" width="6.52" height="5.44" fill="#9309de"/><rect x="295.69" width="6.52" height="5.44" fill="#8f08ea"/><rect x="301.91" width="6.52" height="5.44" fill="#8706fa"/><rect x="308.14" width="6.52" height="5.44" fill="#8104ff"/><rect x="314.36" width="6.52" height="5.44" fill="#7102f0"/><rect x="320.58" width="6.52" height="5.44" fill="#6c01e5"/><rect x="326.81" width="6.52" height="5.44" fill="#6601d8"/><rect x="333.03" width="6.52" height="5.44" fill="#6201cd"/><rect x="339.25" width="6.52" height="5.44" fill="#5f01c4"/><rect x="345.48" width="6.52" height="5.44" fill="#5b01b6"/><rect x="351.70" width="12.75" height="5.44" fill="#53009d"/><rect x="364.15" width="6.52" height="5.44" fill="#5600a7"/><rect x="370.37" width="6.52" height="5.44" fill="#5b01b6"/><rect x="376.59" width="6.52" height="5.44" fill="#6401d1"/><rect x="382.82" width="6.52" height="5.44" fill="#6e02eb"/><rect x="389.04" width="6.52" height="5.44" fill="#7803fb"/><rect x="395.26" width="6.52" height="5.44" fill="#7f04ff"/><rect x="401.49" width="6.52" height="5.44" fill="#8906f7"/><rect x="407.71" width="6.52" height="5.44" fill="#8f08ea"/><rect x="413.93" width="6.52" height="5.44" fill="#990cc7"/><rect x="420.16" width="6.52" height="5.44" fill="#a00fa0"/><rect x="426.38" width="6.52" height="5.44" fill="#a71472"/><rect x="432.61" width="6.52" height="5.44" fill="#ab184c"/><rect x="438.83" width="6.52" height="5.44" fill="#b31f08"/><rect x="445.05" width="6.52" height="5.44" fill="#bb2800"/><rect x="451.28" width="6.52" height="5.44" fill="#c23200"/><rect x="457.50" width="6.52" height="5.44" fill="#cd4600"/><rect x="463.72" width="12.75" height="5.44" fill="#d75b00"/><rect x="476.17" width="6.52" height="5.44" fill="#db6500"/><rect x="482.39" width="6.52" height="5.44" fill="#e17800"/><rect x="488.62" width="25.19" height="5.44" fill="#de7000"/><rect x="513.51" width="6.52" height="5.44" fill="#d96200"/><rect x="519.73" width="5.07" height="5.44" fill="#d75b00"/></g>
<g transform="translate(0 203.92)"><rect x="74.50" width="3.67" height="5.44" fill="#dc6900"/><rect x="77.87" width="6.52" height="5.44" fill="#d96200"/><rect x="84.09" width="12.75" height="5.44" fill="#f7d400"/><rect x="96.54" width="6.52" height="5.44" fill="#e99600"/><rect x="102.76" width="6.52" height="5.44" fill="#e17800"/><rect x="108.98" width="6.52" height="5.44" fill="#dc6900"/><rect x="115.21" width="6.52" height="5.44" fill="#d85e00"/><rect x="121.43" width="6.52" height="5.44" fill="#cd4600"/><rect x="127.65" width="6.52" height="5.44" fill="#be2c00"/><rect x="133.88" width="12.75" height="5.44" fill="#b01c24"/><rect x="146.32" width="6.52" height="5.44" fill="#ab184c"/><rect x="152.55" width="6.52" height="5.44" fill="#a5137e"/><rect x="158.77" width="6.52" height="5.44" fill="#9e0eaa"/><rect x="164.99" width="6.52" height="5.44" fill="#990cc7"/><rect x="171.22" width="6.52" height="5.44" fill="#970bcf"/><rect x="177.44" width="6.52" height="5.44" fill="#950ad7"/><rect x="183.67" width="6.52" height="5.44" fill="#9109e4"/><rect x="189.89" width="6.52" height="5.44" fill="#8f08ea"/><rect x="196.11" width="6.52" height="5.44" fill="#950ad7"/><rect x="202.34" width="6.52" height="5.44" fill="#9c0db4"/><rect x="208.56" width="6.52" height="5.44" fill="#a11095"/><rect x="214.78" width="6.52" height="5.44" fill="#a71472"/><rect x="221.01" width="6.52" height="5.44" fill="#aa1659"/><rect x="227.23" width="6.52" height="5.44" fill="#ab184c"/><rect x="233.45" width="6.52" height="5.44" fill="#a5137e"/><rect x="239.68" width="6.52" height="5.44" fill="#9309de"/><rect x="245.90" width="6.52" height="5.44" fill="#8706fa"/><rect x="252.12" width="6.52" height="5.44" fill="#8104ff"/><rect x="258.35" width="6.52" height="5.44" fill="#7f04ff"/><rect x="264.57" width="6.52" height="5.44" fill="#8305fe"/><rect x="270.79" width="6.52" height="5.44" fill="#8d07ef"/><rect x="277.02" width="6.52" height="5.44" fill="#7703f9"/><rect x="283.24" width="6.52" height="5.44" fill="#7102f0"/><rect x="289.46" width="6.52" height="5.44" fill="#6d02e8"/><rect x="295.69" width="6.52" height="5.44" fill="#6b01e3"/><rect x="301.91" width="6.52" height="5.44" fill="#6601d8"/><rect x="308.14" width="6.52" height="5.44" fill="#6201cb"/><rect x="314.36" width="6.52" height="5.44" fill="#6601d8"/><rect x="320.58" width="6.52" height="5.44" fill="#6401d1"/><rect x="326.81" width="6.52" height="5.44" fill="#5f01c4"/><rect x="333.03" width="6.52" height="5.44" fill="#5c01bb"/><rect x="339.25" width="6.52" height="5.44" fill="#5b01b6"/><rect x="345.48" width="6.52" height="5.44" fill="#5800ac"/><rect x="351.70" width="12.75" height="5.44" fill="#4e008c"/><rect x="364.15" width="6.52" height="5.44" fill="#510097"/><rect x="370.37" width="6.52" height="5.44" fill="#5800ac"/><rect x="376.59" width="6.52" height="5.44" fill="#6101c8"/><rect x="382.82" width="6.52" height="5.44" fill="#6901df"/><rect x="389.04" width="6.52" height="5.44" fill="#7302f4"/><rect x="395.26" width="6.52" height="5.44" fill="#7c03fe"/><rect x="401.49" width="6.52" height="5.44" fill="#8906f7"/><rect x="407.71" width="6.52" height="5.44" fill="#8f08ea"/><rect x="413.93" width="6.52" height="5.44" fill="#970bcf"/><rect x="420.16" width="6.52" height="5.44" fill="#a11095"/><rect x="426.38" width="6.52" height="5.44" fill="#a81565"/><rect x="432.61" width="6.52" height="5.44" fill="#ad193e"/><rect x="438.83" width="6.52" height="5.44" fill="#b52100"/><rect x="445.05" width="6.52" height="5.44" fill="#bb2800"/><rect x="451.28" width="6.52" height="5.44" fill="#c13000"/><rect x="457.50" width="6.52" height="5.44" fill="#c73900"/><rect x="463.72" width="6.52" height="5.44" fill="#d04b00"/><rect x="469.95" width="12.75" height="5.44" fill="#d35100"/><rect x="482.39" width="12.75" height="5.44" fill="#d55800"/><rect x="494.84" width="6.52" height="5.44" fill="#d75b00"/><rect x="501.06" width="12.75" height="5.44" fill="#d85e00"/><rect x="513.51" width="6.52" height="5.44" fill="#d55800"/><rect x="519.73" width="5.07" height="5.44" fill="#d35100"/></g>
<g transform="translate(0 209.07)"><rect x="74.50" width="3.67" height="5.44" fill="#d96200"/><rect x="77.87" width="6.52" height="5.44" fill="#dc6900"/><rect x="84.09" width="6.52" height="5.44" fill="#f4c300"/><rect x="90.31" width="6.52" height="5.44" fill="#f7d400"/><rect x="96.54" width="6.52" height="5.44" fill="#f3be00"/><rect x="102.76" width="6.52" height="5.44" fill="#f0b300"/><rect x="108.98" width="6.52" height="5.44" fill="#e99600"/><rect x="115.21" width="6.52" height="5.44" fill="#e68800"/><rect x="121.43" width="6.52" height="5.44" fill="#dd6c00"/><rect x="127.65" width="6.52" height="5.44" fill="#cd4600"/><rect x="133.88" width="6.52" height="5.44" fill="#be2c00"/><rect x="140.10" width="6.52" height="5.44" fill="#b62200"/><rect x="146.32" width="6.52" height="5.44" fill="#b01c24"/><rect x="152.55" width="6.52" height="5.44" fill="#aa1659"/><rect x="158.77" width="6.52" height="5.44" fill="#a3118a"/><rect x="164.99" width="6.52" height="5.44" fill="#9e0eaa"/><rect x="171.22" width="6.52" height="5.44" fill="#9a0dbe"/><rect x="177.44" width="6.52" height="5.44" fill="#990cc7"/><rect x="183.67" width="6.52" height="5.44" fill="#950ad7"/><rect x="189.89" width="6.52" height="5.44" fill="#9309de"/><rect x="196.11" width="6.52" height="5.44" fill="#970bcf"/><rect x="202.34" width="6.52" height="5.44" fill="#9c0db4"/><rect x="208.56" width="6.52" height="5.44" fill="#a3118a"/><rect x="214.78" width="6.52" height="5.44" fill="#aa1659"/><rect x="221.01" width="6.52" height="5.44" fill="#af1a31"/><rect x="227.23" width="6.52" height="5.44" fill="#bb2800"/><rect x="233.45" width="6.52" height="5.44" fill="#aa1659"/><rect x="239.68" width="6.52" height="5.44" fill="#8706fa"/><rect x="245.90" width="6.52" height="5.44" fill="#7c03fe"/><rect x="252.12" width="6.52" height="5.44" fill="#6801dc"/><rect x="258.35" width="6.52" height="5.44" fill="#5900b1"/><rect x="264.57" width="6.52" height="5.44" fill="#6601d8"/><rect x="270.79" width="6.52" height="5.44" fill="#7803fb"/><rect x="277.02" width="6.52" height="5.44" fill="#6801dd"/><rect x="283.24" width="6.52" height="5.44" fill="#6201cb"/><rect x="289.46" width="6.52" height="5.44" fill="#5f01c4"/><rect x="295.69" width="6.52" height="5.44" fill="#5d01bc"/><rect x="301.91" width="6.52" height="5.44" fill="#5500a4"/><rect x="308.14" width="6.52" height="5.44" fill="#52009b"/><rect x="314.36" width="6.52" height="5.44" fill="#5400a2"/><rect x="320.58" width="6.52" height="5.44" fill="#5900b1"/><rect x="326.81" width="12.75" height="5.44" fill="#5800ac"/><rect x="339.25" width="6.52" height="5.44" fill="#5600a7"/><rect x="345.48" width="6.52" height="5.44" fill="#5400a2"/><rect x="351.70" width="12.75" height="5.44" fill="#4c0086"/><rect x="364.15" width="6.52" height="5.44" fill="#4e008c"/><rect x="370.37" width="6.52" height="5.44" fill="#53009d"/><rect x="376.59" width="6.52" height="5.44" fill="#5e01c0"/><rect x="382.82" width="6.52" height="5.44" fill="#6601d8"/><rect x="389.04" width="6.52" height="5.44" fill="#7202f2"/><rect x="395.26" width="6.52" height="5.44" fill="#7a03fd"/><rect x="401.49" width="6.52" height="5.44" fill="#8706fa"/><rect x="407.71" width="6.52" height="5.44" fill="#8d07ef"/><rect x="413.93" width="6.52" height="5.44" fill="#950ad7"/><rect x="420.16" width="6.52" height="5.44" fill="#a11095"/><rect x="426.38" width="6.52" height="5.44" fill="#a81565"/><rect x="432.61" width="6.52" height="5.44" fill="#ad193e"/><rect x="438.83" width="6.52" height="5.44" fill="#b52100"/><rect x="445.05" width="6.52" height="5.44" fill="#bb2800"/><rect x="451.28" width="6.52" height="5.44" fill="#c13000"/><rect x="457.50" width="6.52" height="5.44" fill="#c53600"/><rect x="463.72" width="6.52" height="5.44" fill="#cf4800"/><rect x="469.95" width="18.97" height="5.44" fill="#d14e00"/><rect x="488.62" width="6.52" height="5.44" fill="#d35100"/><rect x="494.84" width="6.52" height="5.44" fill="#d55800"/><rect x="501.06" width="12.75" height="5.44" fill="#d75b00"/><rect x="513.51" width="6.52" height="5.44" fill="#d45400"/><rect x="519.73" width="5.07" height="5.44" fill="#d35100"/></g>
<g transform="translate(0 214.21)"><rect x="74.50" width="3.67" height="5.44" fill="#d14e00"/><rect x="77.87" width="6.52" height="5.44" fill="#d55800"/><rect x="84.09" width="6.52" height="5.44" fill="#e78d00"/><rect x="90.31" width="6.52" height="5.44" fill="#e99600"/><rect x="96.54" width="6.52" height="5.44" fill="#e89100"/><rect x="102.76" width="6.52" height="5.44" fill="#f0b300"/><rect x="108.98" width="6.52" height="5.44" fill="#f6ce00"/><rect x="115.21" width="6.52" height="5.44" fill="#f4c300"/><rect x="121.43" width="6.52" height="5.44" fill="#f0b300"/><rect x="127.65" width="6.52" height="5.44" fill="#e78d00"/><rect x="133.88" width="6.52" height="5.44" fill="#d85e00"/><rect x="140.10" width="6.52" height="5.44" fill="#c53600"/><rect x="146.32" width="6.52" height="5.44" fill="#b92600"/><rect x="152.55" width="6.52" height="5.44" fill="#ad193e"/><rect x="158.77" width="12.75" height="5.44" fill="#a5137e"/><rect x="171.22" width="6.52" height="5.44" fill="#a11095"/><rect x="177.44" width="6.52" height="5.44" fill="#9e0eaa"/><rect x="183.67" width="6.52" height="5.44" fill="#990cc7"/><rect x="189.89" width="6.52" height="5.44" fill="#970bcf"/><rect x="196.11" width="6.52" height="5.44" fill="#9c0db4"/><rect x="202.34" width="6.52" height="5.44" fill="#a3118a"/><rect x="208.56" width="6.52" height="5.44" fill="#aa1659"/><rect x="214.78" width="6.52" height="5.44" fill="#b01c24"/><rect x="221.01" width="6.52" height="5.44" fill="#b82400"/><rect x="227.23" width="6.52" height="5.44" fill="#b62200"/><rect x="233.45" width="6.52" height="5.44" fill="#970bcf"/><rect x="239.68" width="6.52" height="5.44" fill="#9109e4"/><rect x="245.90" width="6.52" height="5.44" fill="#7102f0"/><rect x="252.12" width="6.52" height="5.44" fill="#5600a7"/><rect x="258.35" width="6.52" height="5.44" fill="#53009d"/><rect x="264.57" width="6.52" height="5.44" fill="#6201cd"/><rect x="270.79" width="6.52" height="5.44" fill="#6e02eb"/><rect x="277.02" width="6.52" height="5.44" fill="#6201cb"/><rect x="283.24" width="6.52" height="5.44" fill="#5d01bc"/><rect x="289.46" width="6.52" height="5.44" fill="#5800ad"/><rect x="295.69" width="6.52" height="5.44" fill="#5500a4"/><rect x="301.91" width="6.52" height="5.44" fill="#4a007f"/><rect x="308.14" width="12.75" height="5.44" fill="#400061"/><rect x="320.58" width="6.52" height="5.44" fill="#4a007f"/><rect x="326.81" width="18.97" height="5.44" fill="#500092"/><rect x="345.48" width="6.52" height="5.44" fill="#52009b"/><rect x="351.70" width="6.52" height="5.44" fill="#4e008c"/><rect x="357.92" width="6.52" height="5.44" fill="#4f0092"/><rect x="364.15" width="6.52" height="5.44" fill="#510097"/><rect x="370.37" width="6.52" height="5.44" fill="#5600a7"/><rect x="376.59" width="6.52" height="5.44" fill="#5c01bb"/><rect x="382.82" width="6.52" height="5.44" fill="#6601d8"/><rect x="389.04" width="6.52" height="5.44" fill="#7102f0"/><rect x="395.26" width="6.52" height="5.44" fill="#7a03fd"/><rect x="401.49" width="6.52" height="5.44" fill="#8505fd"/><rect x="407.71" width="6.52" height="5.44" fill="#8b07f4"/><rect x="413.93" width="6.52" height="5.44" fill="#9309de"/><rect x="420.16" width="6.52" height="5.44" fill="#a00fa0"/><rect x="426.38" width="6.52" height="5.44" fill="#a71472"/><rect x="432.61" width="6.52" height="5.44" fill="#ab184c"/><rect x="438.83" width="6.52" height="5.44" fill="#b31f08"/><rect x="445.05" width="6.52" height="5.44" fill="#b92600"/><rect x="451.28" width="6.52" height="5.44" fill="#bf2e00"/><rect x="457.50" width="6.52" height="5.44" fill="#c43400"/><rect x="463.72" width="6.52" height="5.44" fill="#cc4300"/><rect x="469.95" width="12.75" height="5.44" fill="#cf4800"/><rect x="482.39" width="6.52" height="5.44" fill="#cd4600"/><rect x="488.62" width="6.52" height="5.44" fill="#cf4800"/><rect x="494.84" width="6.52" height="5.44" fill="#d35100"/><rect x="501.06" width="12.75" height="5.44" fill="#d55800"/><rect x="513.51" width="6.52" height="5.44" fill="#d45400"/><rect x="519.73" width="5.07" height="5.44" fill="#d35100"/></g>
<g transform="translate(0 219.35)"><rect x="74.50" width="9.89" height="5.44" fill="#cf4800"/><rect x="84.09" width="6.52" height="5.44" fill="#d75b00"/><rect x="90.31" width="6.52" height="5.44" fill="#d85e00"/><rect x="96.54" width="6.52" height="5.44" fill="#dd6c00"/><rect x="102.76" width="6.52" height="5.44" fill="#e17800"/><rect x="108.98" width="6.52" height="5.44" fill="#efae00"/><rect x="115.21" width="6.52" height="5.44" fill="#f0b300"/><rect x="121.43" width="6.52" height="5.44" fill="#efae00"/><rect x="127.65" width="6.52" height="5.44" fill="#e78d00"/><rect x="133.88" width="6.52" height="5.44" fill="#dc6900"/><rect x="140.10" width="6.52" height="5.44" fill="#c73900"/><rect x="146.32" width="6.52" height="5.44" fill="#bc2a00"/><rect x="152.55" width="6.52" height="5.44" fill="#b62200"/><rect x="158.77" width="6.52" height="5.44" fill="#b01c24"/><rect x="164.99" width="6.52" height="5.44" fill="#aa1659"/><rect x="171.22" width="6.52" height="5.44" fill="#a81565"/><rect x="177.44" width="6.52" height="5.44" fill="#a5137e"/><rect x="183.67" width="6.52" height="5.44" fill="#a11095"/><rect x="189.89" width="6.52" height="5.44" fill="#a00fa0"/><rect x="196.11" width="6.52" height="5.44" fill="#a11095"/><rect x="202.34" width="12.75" height="5.44" fill="#a5137e"/><rect x="214.78" width="6.52" height="5.44" fill="#9e0eaa"/><rect x="221.01" width="6.52" height="5.44" fill="#970bcf"/><rect x="227.23" width="6.52" height="5.44" fill="#7f04ff"/><rect x="233.45" width="6.52" height="5.44" fill="#7c03fe"/><rect x="239.68" width="6.52" height="5.44" fill="#7803fb"/><rect x="245.90" width="6.52" height="5.44" fill="#6201cd"/><rect x="252.12" width="6.52" height="5.44" fill="#53009d"/><rect x="258.35" width="6.52" height="5.44" fill="#5900b1"/><rect x="264.57" width="6.52" height="5.44" fill="#6e02eb"/><rect x="270.79" width="6.52" height="5.44" fill="#7302f4"/><rect x="277.02" width="6.52" height="5.44" fill="#5f01c4"/><rect x="283.24" width="6.52" height="5.44" fill="#5a01b5"/><rect x="289.46" width="6.52" height="5.44" fill="#5800ad"/><rect x="295.69" width="6.52" height="5.44" fill="#52009b"/><rect x="301.91" width="18.97" height="5.44" fill="#460075"/><rect x="320.58" width="6.52" height="5.44" fill="#4a007f"/><rect x="326.81" width="6.52" height="5.44" fill="#4d0089"/><rect x="333.03" width="18.97" height="5.44" fill="#500092"/><rect x="351.70" width="6.52" height="5.44" fill="#4a0080"/><rect x="357.92" width="6.52" height="5.44" fill="#4c0086"/><rect x="364.15" width="6.52" height="5.44" fill="#4e008c"/><rect x="370.37" width="6.52" height="5.44" fill="#53009d"/><rect x="376.59" width="6.52" height="5.44" fill="#5900b1"/><rect x="382.82" width="6.52" height="5.44" fill="#6401d1"/><rect x="389.04" width="6.52" height="5.44" fill="#6e02eb"/><rect x="395.26" width="6.52" height="5.44" fill="#7803fb"/><rect x="401.49" width="6.52" height="5.44" fill="#8505fd"/><rect x="407.71" width="6.52" height="5.44" fill="#8b07f4"/><rect x="413.93" width="6.52" height="5.44" fill="#9109e4"/><rect x="420.16" width="6.52" height="5.44" fill="#990cc7"/><rect x="426.38" width="6.52" height="5.44" fill="#9c0db4"/><rect x="432.61" width="6.52" height="5.44" fill="#a71472"/><rect x="438.83" width="6.52" height="5.44" fill="#b31f08"/><rect x="445.05" width="6.52" height="5.44" fill="#b52100"/><rect x="451.28" width="6.52" height="5.44" fill="#bb2800"/><rect x="457.50" width="6.52" height="5.44" fill="#bf2e00"/><rect x="463.72" width="6.52" height="5.44" fill="#c83b00"/><rect x="469.95" width="6.52" height="5.44" fill="#cc4300"/><rect x="476.17" width="6.52" height="5.44" fill="#cd4600"/><rect x="482.39" width="6.52" height="5.44" fill="#cc4300"/><rect x="488.62" width="6.52" height="5.44" fill="#cf4800"/><rect x="494.84" width="6.52" height="5.44" fill="#d35100"/><rect x="501.06" width="6.52" height="5.44" fill="#d45400"/><rect x="507.29" width="6.52" height="5.44" fill="#d55800"/><rect x="513.51" width="6.52" height="5.44" fill="#d45400"/><rect x="519.73" width="5.07" height="5.44" fill="#d35100"/></g>
<g transform="translate(0 224.49)"><rect x="74.50" width="16.11" height="5.44" fill="#cf4800"/><rect x="90.31" width="6.52" height="5.44" fill="#d04b00"/><rect x="96.54" width="6.52" height="5.44" fill="#d55800"/><rect x="102.76" width="6.52" height="5.44" fill="#dc6900"/><rect x="108.98" width="18.97" height="5.44" fill="#e58400"/><rect x="127.65" width="6.52" height="5.44" fill="#e38000"/><rect x="133.88" width="6.52" height="5.44" fill="#d96200"/><rect x="140.10" width="6.52" height="5.44" fill="#cc4300"/><rect x="146.32" width="6.52" height="5.44" fill="#be2c00"/><rect x="152.55" width="6.52" height="5.44" fill="#b92600"/><rect x="158.77" width="6.52" height="5.44" fill="#b82400"/><rect x="164.99" width="12.75" height="5.44" fill="#b21d16"/><rect x="177.44" width="12.75" height="5.44" fill="#b01c24"/><rect x="189.89" width="6.52" height="5.44" fill="#af1a31"/><rect x="196.11" width="6.52" height="5.44" fill="#b01c24"/><rect x="202.34" width="6.52" height="5.44" fill="#b62200"/><rect x="208.56" width="6.52" height="5.44" fill="#a5137e"/><rect x="214.78" width="6.52" height="5.44" fill="#970bcf"/><rect x="221.01" width="6.52" height="5.44" fill="#8d07ef"/><rect x="227.23" width="6.52" height="5.44" fill="#7803fb"/><rect x="233.45" width="6.52" height="5.44" fill="#6601d8"/><rect x="239.68" width="6.52" height="5.44" fill="#6501d4"/><rect x="245.90" width="6.52" height="5.44" fill="#5900b1"/><rect x="252.12" width="6.52" height="5.44" fill="#510097"/><rect x="258.35" width="6.52" height="5.44" fill="#6601d8"/><rect x="264.57" width="12.75" height="5.44" fill="#7803fb"/><rect x="277.02" width="6.52" height="5.44" fill="#6401d1"/><rect x="283.24" width="6.52" height="5.44" fill="#5d01bc"/><rect x="289.46" width="6.52" height="5.44" fill="#5800ad"/><rect x="295.69" width="6.52" height="5.44" fill="#5500a4"/><rect x="301.91" width="6.52" height="5.44" fill="#4a007f"/><rect x="308.14" width="12.75" height="5.44" fill="#43006b"/><rect x="320.58" width="6.52" height="5.44" fill="#4a007f"/><rect x="326.81" width="6.52" height="5.44" fill="#4d0089"/><rect x="333.03" width="6.52" height="5.44" fill="#52009b"/><rect x="339.25" width="6.52" height="5.44" fill="#500092"/><rect x="345.48" width="6.52" height="5.44" fill="#4d0089"/><rect x="351.70" width="6.52" height="5.44" fill="#48007a"/><rect x="357.92" width="6.52" height="5.44" fill="#4a0080"/><rect x="364.15" width="6.52" height="5.44" fill="#4c0086"/><rect x="370.37" width="6.52" height="5.44" fill="#510097"/><rect x="376.59" width="6.52" height="5.44" fill="#5800ac"/><rect x="382.82" width="6.52" height="5.44" fill="#6101c8"/><rect x="389.04" width="6.52" height="5.44" fill="#6d02e8"/><rect x="395.26" width="6.52" height="5.44" fill="#7703f9"/><rect x="401.49" width="6.52" height="5.44" fill="#8305fe"/><rect x="407.71" width="6.52" height="5.44" fill="#8906f7"/><rect x="413.93" width="6.52" height="5.44" fill="#8f08ea"/><rect x="420.16" width="6.52" height="5.44" fill="#950ad7"/><rect x="426.38" width="6.52" height="5.44" fill="#990cc4"/><rect x="432.61" width="6.52" height="5.44" fill="#a41286"/><rect x="438.83" width="6.52" height="5.44" fill="#b21e11"/><rect x="445.05" width="6.52" height="5.44" fill="#b41f04"/><rect x="451.28" width="6.52" height="5.44" fill="#b82500"/><rect x="457.50" width="6.52" height="5.44" fill="#bd2a00"/><rect x="463.72" width="6.52" height="5.44" fill="#c43500"/><rect x="469.95" width="6.52" height="5.44" fill="#cb4100"/><rect x="476.17" width="12.75" height="5.44" fill="#cf4800"/><rect x="488.62" width="6.52" height="5.44" fill="#d14e00"/><rect x="494.84" width="6.52" height="5.44" fill="#d45400"/><rect x="501.06" width="6.52" height="5.44" fill="#d55800"/><rect x="507.29" width="12.75" height="5.44" fill="#d75b00"/><rect x="519.73" width="5.07" height="5.44" fill="#d55800"/></g>
<g transform="translate(0 229.64)"><rect x="74.50" width="9.89" height="5.44" fill="#d45400"/><rect x="84.09" width="12.75" height="5.44" fill="#cc4300"/><rect x="96.54" width="6.52" height="5.44" fill="#d04b00"/><rect x="102.76" width="6.52" height="5.44" fill="#d55800"/><rect x="108.98" width="6.52" height="5.44" fill="#d85e00"/><rect x="115.21" width="12.75" height="5.44" fill="#d96200"/><rect x="127.65" width="6.52" height="5.44" fill="#d85e00"/><rect x="133.88" width="6.52" height="5.44" fill="#d45400"/><rect x="140.10" width="6.52" height="5.44" fill="#cd4600"/><rect x="146.32" width="6.52" height="5.44" fill="#c13000"/><rect x="152.55" width="6.52" height="5.44" fill="#bc2a00"/><rect x="158.77" width="6.52" height="5.44" fill="#bb2800"/><rect x="164.99" width="6.52" height="5.44" fill="#b82400"/><rect x="171.22" width="6.52" height="5.44" fill="#bb2800"/><rect x="177.44" width="12.75" height="5.44" fill="#bc2a00"/><rect x="189.89" width="6.52" height="5.44" fill="#bb2800"/><rect x="196.11" width="6.52" height="5.44" fill="#b92600"/><rect x="202.34" width="6.52" height="5.44" fill="#b82400"/><rect x="208.56" width="6.52" height="5.44" fill="#9e0eaa"/><rect x="214.78" width="6.52" height="5.44" fill="#8f08ea"/><rect x="221.01" width="6.52" height="5.44" fill="#7c03fe"/><rect x="227.23" width="6.52" height="5.44" fill="#7102f0"/><rect x="233.45" width="6.52" height="5.44" fill="#5f01c4"/><rect x="239.68" width="6.52" height="5.44" fill="#5e01c0"/><rect x="245.90" width="6.52" height="5.44" fill="#5900b1"/><rect x="252.12" width="6.52" height="5.44" fill="#4c0086"/><rect x="258.35" width="6.52" height="5.44" fill="#7602f8"/><rect x="264.57" width="6.52" height="5.44" fill="#8706fa"/><rect x="270.79" width="6.52" height="5.44" fill="#7f04ff"/><rect x="277.02" width="6.52" height="5.44" fill="#6801dd"/><rect x="283.24" width="6.52" height="5.44" fill="#5f01c4"/><rect x="289.46" width="6.52" height="5.44" fill="#5a01b5"/><rect x="295.69" width="6.52" height="5.44" fill="#5800ad"/><rect x="301.91" width="6.52" height="5.44" fill="#52009b"/><rect x="308.14" width="12.75" height="5.44" fill="#4a007f"/><rect x="320.58" width="6.52" height="5.44" fill="#4d0089"/><rect x="326.81" width="12.75" height="5.44" fill="#500092"/><rect x="339.25" width="6.52" height="5.44" fill="#4d0089"/><rect x="345.48" width="6.52" height="5.44" fill="#4a007f"/><rect x="351.70" width="6.52" height="5.44" fill="#460074"/><rect x="357.92" width="6.52" height="5.44" fill="#48007a"/><rect x="364.15" width="6.52" height="5.44" fill="#4a0080"/><rect x="370.37" width="6.52" height="5.44" fill="#4e008c"/><rect x="376.59" width="6.52" height="5.44" fill="#5400a2"/><rect x="382.82" width="6.52" height="5.44" fill="#5f01c4"/><rect x="389.04" width="6.52" height="5.44" fill="#6c01e5"/><rect x="395.26" width="6.52" height="5.44" fill="#7602f8"/><rect x="401.49" width="6.52" height="5.44" fill="#8305fe"/><rect x="407.71" width="6.52" height="5.44" fill="#8706fa"/><rect x="413.93" width="6.52" height="5.44" fill="#8d07ef"/><rect x="420.16" width="6.52" height="5.44" fill="#9309de"/><rect x="426.38" width="6.52" height="5.44" fill="#980bc9"/><rect x="432.61" width="6.52" height="5.44" fill="#a11099"/><rect x="438.83" width="6.52" height="5.44" fill="#b11d1a"/><rect x="445.05" width="6.52" height="5.44" fill="#b31e0d"/><rect x="451.28" width="6.52" height="5.44" fill="#b92500"/><rect x="457.50" width="6.52" height="5.44" fill="#bd2b00"/><rect x="463.72" width="6.52" height="5.44" fill="#c63800"/><rect x="469.95" width="6.52" height="5.44" fill="#cd4400"/><rect x="476.17" width="6.52" height="5.44" fill="#d35100"/><rect x="482.39" width="6.52" height="5.44" fill="#d45400"/><rect x="488.62" width="6.52" height="5.44" fill="#d75b00"/><rect x="494.84" width="12.75" height="5.44" fill="#d96200"/><rect x="507.29" width="12.75" height="5.44" fill="#db6500"/><rect x="519.73" width="5.07" height="5.44" fill="#d96200"/></g>
<g transform="translate(0 234.78)"><rect x="74.50" width="3.67" height="5.44" fill="#cf4800"/><rect x="77.87" width="6.52" height="5.44" fill="#cc4300"/><rect x="84.09" width="6.52" height="5.44" fill="#cb4000"/><rect x="90.31" width="6.52" height="5.44" fill="#cc4300"/><rect x="96.54" width="6.52" height="5.44" fill="#cf4800"/><rect x="102.76" width="6.52" height="5.44" fill="#d45400"/><rect x="108.98" width="6.52" height="5.44" fill="#d14e00"/><rect x="115.21" width="6.52" height="5.44" fill="#cf4800"/><rect x="121.43" width="6.52" height="5.44" fill="#d14e00"/><rect x="127.65" width="6.52" height="5.44" fill="#d35100"/><rect x="133.88" width="6.52" height="5.44" fill="#d04b00"/><rect x="140.10" width="6.52" height="5.44" fill="#cd4600"/><rect x="146.32" width="6.52" height="5.44" fill="#c83b00"/><rect x="152.55" width="6.52" height="5.44" fill="#c43400"/><rect x="158.77" width="12.75" height="5.44" fill="#bb2800"/><rect x="171.22" width="6.52" height="5.44" fill="#bc2a00"/><rect x="177.44" width="12.75" height="5.44" fill="#be2c00"/><rect x="189.89" width="6.52" height="5.44" fill="#bc2a00"/><rect x="196.11" width="6.52" height="5.44" fill="#b82400"/><rect x="202.34" width="6.52" height="5.44" fill="#af1a31"/><rect x="208.56" width="6.52" height="5.44" fill="#970bcf"/><rect x="214.78" width="6.52" height="5.44" fill="#8906f7"/><rect x="221.01" width="6.52" height="5.44" fill="#7803fb"/><rect x="227.23" width="6.52" height="5.44" fill="#6c01e5"/><rect x="233.45" width="6.52" height="5.44" fill="#5900b1"/><rect x="239.68" width="6.52" height="5.44" fill="#5c01bb"/><rect x="245.90" width="6.52" height="5.44" fill="#5f01c4"/><rect x="252.12" width="6.52" height="5.44" fill="#6601d8"/><rect x="258.35" width="6.52" height="5.44" fill="#8d07ef"/><rect x="264.57" width="6.52" height="5.44" fill="#9a0dbe"/><rect x="270.79" width="6.52" height="5.44" fill="#8d07ef"/><rect x="277.02" width="6.52" height="5.44" fill="#6f02ec"/><rect x="283.24" width="6.52" height="5.44" fill="#6201cb"/><rect x="289.46" width="6.52" height="5.44" fill="#5a01b5"/><rect x="295.69" width="6.52" height="5.44" fill="#5800ad"/><rect x="301.91" width="6.52" height="5.44" fill="#5500a4"/><rect x="308.14" width="6.52" height="5.44" fill="#500092"/><rect x="314.36" width="18.97" height="5.44" fill="#4d0089"/><rect x="333.03" width="12.75" height="5.44" fill="#4a007f"/><rect x="345.48" width="6.52" height="5.44" fill="#460075"/><rect x="351.70" width="12.75" height="5.44" fill="#44006e"/><rect x="364.15" width="6.52" height="5.44" fill="#460074"/><rect x="370.37" width="6.52" height="5.44" fill="#4a0080"/><rect x="376.59" width="6.52" height="5.44" fill="#510097"/><rect x="382.82" width="6.52" height="5.44" fill="#5c01bb"/><rect x="389.04" width="6.52" height="5.44" fill="#6901df"/><rect x="395.26" width="6.52" height="5.44" fill="#7302f4"/><rect x="401.49" width="6.52" height="5.44" fill="#8104ff"/><rect x="407.71" width="6.52" height="5.44" fill="#8706fa"/><rect x="413.93" width="6.52" height="5.44" fill="#8b07f4"/><rect x="420.16" width="6.52" height="5.44" fill="#9109e4"/><rect x="426.38" width="6.52" height="5.44" fill="#950ad7"/><rect x="432.61" width="6.52" height="5.44" fill="#9e0eaa"/><rect x="438.83" width="6.52" height="5.44" fill="#af1a31"/><rect x="445.05" width="6.52" height="5.44" fill="#b21d16"/><rect x="451.28" width="6.52" height="5.44" fill="#b92600"/><rect x="457.50" width="6.52" height="5.44" fill="#c43400"/><rect x="463.72" width="6.52" height="5.44" fill="#cf4800"/><rect x="469.95" width="6.52" height="5.44" fill="#d96000"/><rect x="476.17" width="12.75" height="5.44" fill="#e07400"/><rect x="488.62" width="12.75" height="5.44" fill="#dd6c00"/><rect x="501.06" width="6.52" height="5.44" fill="#e07400"/><rect x="507.29" width="6.52" height="5.44" fill="#e17800"/><rect x="513.51" width="6.52" height="5.44" fill="#e07400"/><rect x="519.73" width="5.07" height="5.44" fill="#dd6c00"/></g>
<g transform="translate(0 239.92)"><rect x="74.50" width="3.67" height="5.44" fill="#d35100"/><rect x="77.87" width="6.52" height="5.44" fill="#d14e00"/><rect x="84.09" width="6.52" height="5.44" fill="#cb4000"/><rect x="90.31" width="12.75" height="5.44" fill="#cf4800"/><rect x="102.76" width="6.52" height="5.44" fill="#d45400"/><rect x="108.98" width="6.52" height="5.44" fill="#cb4000"/><rect x="115.21" width="6.52" height="5.44" fill="#c83b00"/><rect x="121.43" width="25.19" height="5.44" fill="#cf4800"/><rect x="146.32" width="6.52" height="5.44" fill="#cc4300"/><rect x="152.55" width="6.52" height="5.44" fill="#c93e00"/><rect x="158.77" width="6.52" height="5.44" fill="#c53600"/><rect x="164.99" width="6.52" height="5.44" fill="#c43400"/><rect x="171.22" width="6.52" height="5.44" fill="#bb2800"/><rect x="177.44" width="6.52" height="5.44" fill="#b92600"/><rect x="183.67" width="6.52" height="5.44" fill="#b82400"/><rect x="189.89" width="6.52" height="5.44" fill="#b52100"/><rect x="196.11" width="6.52" height="5.44" fill="#af1a31"/><rect x="202.34" width="6.52" height="5.44" fill="#a00fa0"/><rect x="208.56" width="6.52" height="5.44" fill="#8b07f4"/><rect x="214.78" width="6.52" height="5.44" fill="#8104ff"/><rect x="221.01" width="6.52" height="5.44" fill="#7602f8"/><rect x="227.23" width="6.52" height="5.44" fill="#6601d8"/><rect x="233.45" width="6.52" height="5.44" fill="#4f0092"/><rect x="239.68" width="6.52" height="5.44" fill="#5e01c0"/><rect x="245.90" width="6.52" height="5.44" fill="#6801dc"/><rect x="252.12" width="6.52" height="5.44" fill="#7a03fd"/><rect x="258.35" width="6.52" height="5.44" fill="#970bcf"/><rect x="264.57" width="6.52" height="5.44" fill="#9e0eaa"/><rect x="270.79" width="6.52" height="5.44" fill="#8f08ea"/><rect x="277.02" width="6.52" height="5.44" fill="#7102f0"/><rect x="283.24" width="6.52" height="5.44" fill="#6401d1"/><rect x="289.46" width="6.52" height="5.44" fill="#5a01b5"/><rect x="295.69" width="6.52" height="5.44" fill="#5500a4"/><rect x="301.91" width="6.52" height="5.44" fill="#52009b"/><rect x="308.14" width="6.52" height="5.44" fill="#500092"/><rect x="314.36" width="6.52" height="5.44" fill="#4d0089"/><rect x="320.58" width="12.75" height="5.44" fill="#4a007f"/><rect x="333.03" width="12.75" height="5.44" fill="#460075"/><rect x="345.48" width="6.52" height="5.44" fill="#43006b"/><rect x="351.70" width="18.97" height="5.44" fill="#44006e"/><rect x="370.37" width="6.52" height="5.44" fill="#48007a"/><rect x="376.59" width="6.52" height="5.44" fill="#4f0092"/><rect x="382.82" width="6.52" height="5.44" fill="#5b01b6"/><rect x="389.04" width="6.52" height="5.44" fill="#6801dc"/><rect x="395.26" width="6.52" height="5.44" fill="#7302f4"/><rect x="401.49" width="6.52" height="5.44" fill="#7f04ff"/><rect x="407.71" width="6.52" height="5.44" fill="#8505fd"/><rect x="413.93" width="6.52" height="5.44" fill="#8906f7"/><rect x="420.16" width="6.52" height="5.44" fill="#8d07ef"/><rect x="426.38" width="6.52" height="5.44" fill="#9209e2"/><rect x="432.61" width="6.52" height="5.44" fill="#990cc4"/><rect x="438.83" width="6.52" height="5.44" fill="#a91561"/><rect x="445.05" width="6.52" height="5.44" fill="#aa1754"/><rect x="451.28" width="6.52" height="5.44" fill="#b41f04"/><rect x="457.50" width="6.52" height="5.44" fill="#be2c00"/><rect x="463.72" width="6.52" height="5.44" fill="#cd4400"/><rect x="469.95" width="6.52" height="5.44" fill="#db6700"/><rect x="476.17" width="12.75" height="5.44" fill="#eb9a00"/><rect x="488.62" width="6.52" height="5.44" fill="#e38000"/><rect x="494.84" width="6.52" height="5.44" fill="#dd6c00"/><rect x="501.06" width="6.52" height="5.44" fill="#e27c00"/><rect x="507.29" width="6.52" height="5.44" fill="#eea900"/><rect x="513.51" width="6.52" height="5.44" fill="#e99600"/><rect x="519.73" width="5.07" height="5.44" fill="#e58400"/></g>
<g transform="translate(0 245.06)"><rect x="74.50" width="3.67" height="5.44" fill="#d96200"/><rect x="77.87" width="6.52" height="5.44" fill="#d85e00"/><rect x="84.09" width="6.52" height="5.44" fill="#d55800"/><rect x="90.31" width="6.52" height="5.44" fill="#cf4800"/><rect x="96.54" width="6.52" height="5.44" fill="#dc6900"/><rect x="102.76" width="6.52" height="5.44" fill="#d14e00"/><rect x="108.98" width="12.75" height="5.44" fill="#c93e00"/><rect x="121.43" width="31.42" height="5.44" fill="#cf4800"/><rect x="152.55" width="6.52" height="5.44" fill="#cc4300"/><rect x="158.77" width="6.52" height="5.44" fill="#c93e00"/><rect x="164.99" width="6.52" height="5.44" fill="#cb4000"/><rect x="171.22" width="6.52" height="5.44" fill="#b82400"/><rect x="177.44" width="6.52" height="5.44" fill="#b21d16"/><rect x="183.67" width="6.52" height="5.44" fill="#ab184c"/><rect x="189.89" width="6.52" height="5.44" fill="#a5137e"/><rect x="196.11" width="6.52" height="5.44" fill="#9e0eaa"/><rect x="202.34" width="6.52" height="5.44" fill="#8f08ea"/><rect x="208.56" width="6.52" height="5.44" fill="#8305fe"/><rect x="214.78" width="6.52" height="5.44" fill="#7c03fe"/><rect x="221.01" width="6.52" height="5.44" fill="#7602f8"/><rect x="227.23" width="6.52" height="5.44" fill="#5f01c4"/><rect x="233.45" width="6.52" height="5.44" fill="#6501d4"/><rect x="239.68" width="6.52" height="5.44" fill="#6801dc"/><rect x="245.90" width="6.52" height="5.44" fill="#6f02ee"/><rect x="252.12" width="6.52" height="5.44" fill="#8104ff"/><rect x="258.35" width="6.52" height="5.44" fill="#9a0dbe"/><rect x="264.57" width="6.52" height="5.44" fill="#9109e4"/><rect x="270.79" width="6.52" height="5.44" fill="#8104ff"/><rect x="277.02" width="6.52" height="5.44" fill="#6801dd"/><rect x="283.24" width="6.52" height="5.44" fill="#5f01c4"/><rect x="289.46" width="6.52" height="5.44" fill="#5800ad"/><rect x="295.69" width="6.52" height="5.44" fill="#52009b"/><rect x="301.91" width="6.52" height="5.44" fill="#500092"/><rect x="308.14" width="6.52" height="5.44" fill="#4d0089"/><rect x="314.36" width="6.52" height="5.44" fill="#4a007f"/><rect x="320.58" width="18.97" height="5.44" fill="#460075"/><rect x="339.25" width="12.75" height="5.44" fill="#43006b"/><rect x="351.70" width="18.97" height="5.44" fill="#420068"/><rect x="370.37" width="6.52" height="5.44" fill="#460074"/><rect x="376.59" width="6.52" height="5.44" fill="#4e008c"/><rect x="382.82" width="6.52" height="5.44" fill="#5800ac"/><rect x="389.04" width="6.52" height="5.44" fill="#6601d8"/><rect x="395.26" width="6.52" height="5.44" fill="#7102f0"/><rect x="401.49" width="6.52" height="5.44" fill="#7803fb"/><rect x="407.71" width="6.52" height="5.44" fill="#7f04ff"/><rect x="413.93" width="6.52" height="5.44" fill="#8305fe"/><rect x="420.16" width="6.52" height="5.44" fill="#8706fa"/><rect x="426.38" width="6.52" height="5.44" fill="#8b07f5"/><rect x="432.61" width="6.52" height="5.44" fill="#940ad9"/><rect x="438.83" width="6.52" height="5.44" fill="#a11099"/><rect x="445.05" width="6.52" height="5.44" fill="#9f0fa3"/><rect x="451.28" width="6.52" height="5.44" fill="#a9165d"/><rect x="457.50" width="6.52" height="5.44" fill="#b42000"/><rect x="463.72" width="6.52" height="5.44" fill="#c02f00"/><rect x="469.95" width="6.52" height="5.44" fill="#cd4500"/><rect x="476.17" width="6.52" height="5.44" fill="#de7000"/><rect x="482.39" width="6.52" height="5.44" fill="#ec9f00"/><rect x="488.62" width="6.52" height="5.44" fill="#eda400"/><rect x="494.84" width="6.52" height="5.44" fill="#e17800"/><rect x="501.06" width="6.52" height="5.44" fill="#e07400"/><rect x="507.29" width="6.52" height="5.44" fill="#e58400"/><rect x="513.51" width="6.52" height="5.44" fill="#e89100"/><rect x="519.73" width="5.07" height="5.44" fill="#eb9a00"/></g>
<g transform="translate(0 250.21)"><rect x="74.50" width="3.67" height="5.44" fill="#de7000"/><rect x="77.87" width="6.52" height="5.44" fill="#efae00"/><rect x="84.09" width="6.52" height="5.44" fill="#f3be00"/><rect x="90.31" width="6.52" height="5.44" fill="#e58400"/><rect x="96.54" width="6.52" height="5.44" fill="#e38000"/><rect x="102.76" width="6.52" height="5.44" fill="#e07400"/><rect x="108.98" width="6.52" height="5.44" fill="#dc6900"/><rect x="115.21" width="6.52" height="5.44" fill="#d96200"/><rect x="121.43" width="6.52" height="5.44" fill="#d85e00"/><rect x="127.65" width="25.19" height="5.44" fill="#d75b00"/><rect x="152.55" width="6.52" height="5.44" fill="#d45400"/><rect x="158.77" width="6.52" height="5.44" fill="#cf4800"/><rect x="164.99" width="6.52" height="5.44" fill="#cc4300"/><rect x="171.22" width="6.52" height="5.44" fill="#b21d16"/><rect x="177.44" width="6.52" height="5.44" fill="#aa1659"/><rect x="183.67" width="6.52" height="5.44" fill="#a11095"/><rect x="189.89" width="6.52" height="5.44" fill="#990cc7"/><rect x="196.11" width="6.52" height="5.44" fill="#9109e4"/><rect x="202.34" width="6.52" height="5.44" fill="#8505fd"/><rect x="208.56" width="6.52" height="5.44" fill="#7f04ff"/><rect x="214.78" width="6.52" height="5.44" fill="#7c03fe"/><rect x="221.01" width="6.52" height="5.44" fill="#7102f0"/><rect x="227.23" width="6.52" height="5.44" fill="#6601d8"/><rect x="233.45" width="6.52" height="5.44" fill="#6c01e5"/><rect x="239.68" width="6.52" height="5.44" fill="#7102f0"/><rect x="245.90" width="6.52" height="5.44" fill="#7803fb"/><rect x="252.12" width="6.52" height="5.44" fill="#8706fa"/><rect x="258.35" width="6.52" height="5.44" fill="#970bcf"/><rect x="264.57" width="6.52" height="5.44" fill="#8706fa"/><rect x="270.79" width="6.52" height="5.44" fill="#7102f0"/><rect x="277.02" width="6.52" height="5.44" fill="#5a01b5"/><rect x="283.24" width="6.52" height="5.44" fill="#5500a4"/><rect x="289.46" width="12.75" height="5.44" fill="#52009b"/><rect x="301.91" width="6.52" height="5.44" fill="#4d0089"/><rect x="308.14" width="6.52" height="5.44" fill="#4a007f"/><rect x="314.36" width="6.52" height="5.44" fill="#460075"/><rect x="320.58" width="31.42" height="5.44" fill="#43006b"/><rect x="351.70" width="6.52" height="5.44" fill="#400062"/><rect x="357.92" width="12.75" height="5.44" fill="#3e005b"/><rect x="370.37" width="6.52" height="5.44" fill="#400062"/><rect x="376.59" width="6.52" height="5.44" fill="#48007a"/><rect x="382.82" width="6.52" height="5.44" fill="#5400a2"/><rect x="389.04" width="6.52" height="5.44" fill="#6201cd"/><rect x="395.26" width="6.52" height="5.44" fill="#6e02eb"/><rect x="401.49" width="6.52" height="5.44" fill="#7602f8"/><rect x="407.71" width="6.52" height="5.44" fill="#7c03fe"/><rect x="413.93" width="6.52" height="5.44" fill="#8104ff"/><rect x="420.16" width="6.52" height="5.44" fill="#8505fd"/><rect x="426.38" width="6.52" height="5.44" fill="#8706fa"/><rect x="432.61" width="6.52" height="5.44" fill="#9109e4"/><rect x="438.83" width="6.52" height="5.44" fill="#9a0dbe"/><rect x="445.05" width="6.52" height="5.44" fill="#970bcf"/><rect x="451.28" width="6.52" height="5.44" fill="#a3118a"/><rect x="457.50" width="6.52" height="5.44" fill="#ad193e"/><rect x="463.72" width="6.52" height="5.44" fill="#b82400"/><rect x="469.95" width="6.52" height="5.44" fill="#c23200"/><rect x="476.17" width="6.52" height="5.44" fill="#cc4300"/><rect x="482.39" width="6.52" height="5.44" fill="#d14e00"/><rect x="488.62" width="6.52" height="5.44" fill="#d96200"/><rect x="494.84" width="6.52" height="5.44" fill="#de7000"/><rect x="501.06" width="6.52" height="5.44" fill="#e17800"/><rect x="507.29" width="6.52" height="5.44" fill="#e27c00"/><rect x="513.51" width="6.52" height="5.44" fill="#e68800"/><rect x="519.73" width="5.07" height="5.44" fill="#ec9f00"/></g>
<g transform="translate(0 255.35)"><rect x="74.50" width="3.67" height="5.44" fill="#efae00"/><rect x="77.87" width="6.52" height="5.44" fill="#f3be00"/><rect x="84.09" width="6.52" height="5.44" fill="#fdf200"/><rect x="90.31" width="6.52" height="5.44" fill="#f4c300"/><rect x="96.54" width="6.52" height="5.44" fill="#f2b800"/><rect x="102.76" width="6.52" height="5.44" fill="#efae00"/><rect x="108.98" width="6.52" height="5.44" fill="#e99600"/><rect x="115.21" width="6.52" height="5.44" fill="#e78d00"/><rect x="121.43" width="6.52" height="5.44" fill="#e68800"/><rect x="127.65" width="18.97" height="5.44" fill="#e58400"/><rect x="146.32" width="6.52" height="5.44" fill="#e68800"/><rect x="152.55" width="6.52" height="5.44" fill="#de7000"/><rect x="158.77" width="6.52" height="5.44" fill="#d75b00"/><rect x="164.99" width="6.52" height="5.44" fill="#cc4300"/><rect x="171.22" width="6.52" height="5.44" fill="#b01c24"/><rect x="177.44" width="6.52" height="5.44" fill="#a5137e"/><rect x="183.67" width="6.52" height="5.44" fill="#9c0db4"/><rect x="189.89" width="6.52" height="5.44" fill="#9309de"/><rect x="196.11" width="6.52" height="5.44" fill="#8b07f4"/><rect x="202.34" width="6.52" height="5.44" fill="#8305fe"/><rect x="208.56" width="6.52" height="5.44" fill="#7f04ff"/><rect x="214.78" width="6.52" height="5.44" fill="#7c03fe"/><rect x="221.01" width="6.52" height="5.44" fill="#7602f8"/><rect x="227.23" width="6.52" height="5.44" fill="#7102f0"/><rect x="233.45" width="6.52" height="5.44" fill="#7602f8"/><rect x="239.68" width="6.52" height="5.44" fill="#7a03fd"/><rect x="245.90" width="6.52" height="5.44" fill="#9e0eaa"/><rect x="252.12" width="6.52" height="5.44" fill="#a3118a"/><rect x="258.35" width="6.52" height="5.44" fill="#9109e4"/><rect x="264.57" width="6.52" height="5.44" fill="#7302f4"/><rect x="270.79" width="6.52" height="5.44" fill="#5e01c0"/><rect x="277.02" width="6.52" height="5.44" fill="#4d0089"/><rect x="283.24" width="18.97" height="5.44" fill="#4a007f"/><rect x="301.91" width="6.52" height="5.44" fill="#460075"/><rect x="308.14" width="6.52" height="5.44" fill="#43006b"/><rect x="314.36" width="6.52" height="5.44" fill="#340041"/><rect x="320.58" width="25.19" height="5.44" fill="#400061"/><rect x="345.48" width="6.52" height="5.44" fill="#43006b"/><rect x="351.70" width="6.52" height="5.44" fill="#3e005b"/><rect x="357.92" width="6.52" height="5.44" fill="#3b0055"/><rect x="364.15" width="12.75" height="5.44" fill="#39004e"/><rect x="376.59" width="6.52" height="5.44" fill="#44006e"/><rect x="382.82" width="6.52" height="5.44" fill="#510097"/><rect x="389.04" width="6.52" height="5.44" fill="#5f01c4"/><rect x="395.26" width="6.52" height="5.44" fill="#6c01e5"/><rect x="401.49" width="6.52" height="5.44" fill="#7302f4"/><rect x="407.71" width="6.52" height="5.44" fill="#7a03fd"/><rect x="413.93" width="6.52" height="5.44" fill="#7f04ff"/><rect x="420.16" width="6.52" height="5.44" fill="#8305fe"/><rect x="426.38" width="6.52" height="5.44" fill="#8706fa"/><rect x="432.61" width="6.52" height="5.44" fill="#8f08ea"/><rect x="438.83" width="6.52" height="5.44" fill="#990cc7"/><rect x="445.05" width="6.52" height="5.44" fill="#970bcf"/><rect x="451.28" width="6.52" height="5.44" fill="#a00fa0"/><rect x="457.50" width="6.52" height="5.44" fill="#aa1659"/><rect x="463.72" width="6.52" height="5.44" fill="#b21d16"/><rect x="469.95" width="6.52" height="5.44" fill="#b82400"/><rect x="476.17" width="6.52" height="5.44" fill="#bc2a00"/><rect x="482.39" width="6.52" height="5.44" fill="#c13000"/><rect x="488.62" width="6.52" height="5.44" fill="#c73900"/><rect x="494.84" width="6.52" height="5.44" fill="#cf4800"/><rect x="501.06" width="6.52" height="5.44" fill="#d96200"/><rect x="507.29" width="12.75" height="5.44" fill="#efae00"/><rect x="519.73" width="5.07" height="5.44" fill="#f2b800"/></g>
<g transform="translate(0 260.49)"><rect x="74.50" width="3.67" height="5.44" fill="#e89100"/><rect x="77.87" width="6.52" height="5.44" fill="#e99600"/><rect x="84.09" width="6.52" height="5.44" fill="#efae00"/><rect x="90.31" width="6.52" height="5.44" fill="#f4c300"/><rect x="96.54" width="6.52" height="5.44" fill="#fef900"/><rect x="102.76" width="6.52" height="5.44" fill="#f8da00"/><rect x="108.98" width="6.52" height="5.44" fill="#f4c300"/><rect x="115.21" width="6.52" height="5.44" fill="#f2b800"/><rect x="121.43" width="6.52" height="5.44" fill="#efae00"/><rect x="127.65" width="6.52" height="5.44" fill="#eb9a00"/><rect x="133.88" width="6.52" height="5.44" fill="#eea900"/><rect x="140.10" width="6.52" height="5.44" fill="#f0b300"/><rect x="146.32" width="6.52" height="5.44" fill="#f3be00"/><rect x="152.55" width="6.52" height="5.44" fill="#e68800"/><rect x="158.77" width="6.52" height="5.44" fill="#d96200"/><rect x="164.99" width="6.52" height="5.44" fill="#c93e00"/><rect x="171.22" width="6.52" height="5.44" fill="#af1a31"/><rect x="177.44" width="6.52" height="5.44" fill="#a3118a"/><rect x="183.67" width="6.52" height="5.44" fill="#990cc7"/><rect x="189.89" width="6.52" height="5.44" fill="#9109e4"/><rect x="196.11" width="6.52" height="5.44" fill="#8b07f4"/><rect x="202.34" width="6.52" height="5.44" fill="#8505fd"/><rect x="208.56" width="12.75" height="5.44" fill="#8104ff"/><rect x="221.01" width="6.52" height="5.44" fill="#8d07ef"/><rect x="227.23" width="6.52" height="5.44" fill="#970bcf"/><rect x="233.45" width="6.52" height="5.44" fill="#a3118a"/><rect x="239.68" width="6.52" height="5.44" fill="#a00fa0"/><rect x="245.90" width="6.52" height="5.44" fill="#aa1659"/><rect x="252.12" width="6.52" height="5.44" fill="#a81565"/><rect x="258.35" width="6.52" height="5.44" fill="#8d07ef"/><rect x="264.57" width="6.52" height="5.44" fill="#6601d8"/><rect x="270.79" width="6.52" height="5.44" fill="#420068"/><rect x="277.02" width="12.75" height="5.44" fill="#43006b"/><rect x="289.46" width="25.19" height="5.44" fill="#400061"/><rect x="314.36" width="6.52" height="5.44" fill="#3c0057"/><rect x="320.58" width="6.52" height="5.44" fill="#38004c"/><rect x="326.81" width="6.52" height="5.44" fill="#3c0057"/><rect x="333.03" width="12.75" height="5.44" fill="#400061"/><rect x="345.48" width="6.52" height="5.44" fill="#43006b"/><rect x="351.70" width="6.52" height="5.44" fill="#3e005b"/><rect x="357.92" width="6.52" height="5.44" fill="#360048"/><rect x="364.15" width="6.52" height="5.44" fill="#31003a"/><rect x="370.37" width="6.52" height="5.44" fill="#340041"/><rect x="376.59" width="6.52" height="5.44" fill="#400062"/><rect x="382.82" width="6.52" height="5.44" fill="#4e008c"/><rect x="389.04" width="6.52" height="5.44" fill="#5c01bb"/><rect x="395.26" width="6.52" height="5.44" fill="#6901df"/><rect x="401.49" width="6.52" height="5.44" fill="#7102f0"/><rect x="407.71" width="6.52" height="5.44" fill="#7803fb"/><rect x="413.93" width="6.52" height="5.44" fill="#7f04ff"/><rect x="420.16" width="6.52" height="5.44" fill="#8104ff"/><rect x="426.38" width="6.52" height="5.44" fill="#8505fd"/><rect x="432.61" width="6.52" height="5.44" fill="#8d07ef"/><rect x="438.83" width="6.52" height="5.44" fill="#970bcf"/><rect x="445.05" width="6.52" height="5.44" fill="#a11095"/><rect x="451.28" width="6.52" height="5.44" fill="#a5137e"/><rect x="457.50" width="6.52" height="5.44" fill="#a71472"/><rect x="463.72" width="6.52" height="5.44" fill="#a5137e"/><rect x="469.95" width="6.52" height="5.44" fill="#a11095"/><rect x="476.17" width="6.52" height="5.44" fill="#9c0db4"/><rect x="482.39" width="6.52" height="5.44" fill="#8f08ea"/><rect x="488.62" width="6.52" height="5.44" fill="#a5137e"/><rect x="494.84" width="6.52" height="5.44" fill="#b21d16"/><rect x="501.06" width="6.52" height="5.44" fill="#c43400"/><rect x="507.29" width="6.52" height="5.44" fill="#d96200"/><rect x="513.51" width="6.52" height="5.44" fill="#e58400"/><rect x="519.73" width="5.07" height="5.44" fill="#e89100"/></g>
<g transform="translate(0 265.63)"><rect x="74.50" width="3.67" height="5.44" fill="#d96200"/><rect x="77.87" width="6.52" height="5.44" fill="#dc6900"/><rect x="84.09" width="6.52" height="5.44" fill="#de7000"/><rect x="90.31" width="6.52" height="5.44" fill="#e07400"/><rect x="96.54" width="6.52" height="5.44" fill="#e58400"/><rect x="102.76" width="6.52" height="5.44" fill="#e89100"/><rect x="108.98" width="6.52" height="5.44" fill="#e99600"/><rect x="115.21" width="6.52" height="5.44" fill="#eb9a00"/><rect x="121.43" width="6.52" height="5.44" fill="#eda400"/><rect x="127.65" width="6.52" height="5.44" fill="#f0b300"/><rect x="133.88" width="6.52" height="5.44" fill="#f7d400"/><rect x="140.10" width="6.52" height="5.44" fill="#fef900"/><rect x="146.32" width="6.52" height="5.44" fill="#f6ce00"/><rect x="152.55" width="6.52" height="5.44" fill="#e99600"/><rect x="158.77" width="6.52" height="5.44" fill="#de7000"/><rect x="164.99" width="6.52" height="5.44" fill="#c93e00"/><rect x="171.22" width="6.52" height="5.44" fill="#990cc7"/><rect x="177.44" width="6.52" height="5.44" fill="#9309de"/><rect x="183.67" width="12.75" height="5.44" fill="#8f08ea"/><rect x="196.11" width="6.52" height="5.44" fill="#950ad7"/><rect x="202.34" width="6.52" height="5.44" fill="#9c0db4"/><rect x="208.56" width="6.52" height="5.44" fill="#a00fa0"/><rect x="214.78" width="6.52" height="5.44" fill="#aa1659"/><rect x="221.01" width="6.52" height="5.44" fill="#b52100"/><rect x="227.23" width="12.75" height="5.44" fill="#a11095"/><rect x="239.68" width="12.75" height="5.44" fill="#b82400"/><rect x="252.12" width="6.52" height="5.44" fill="#990cc7"/><rect x="258.35" width="6.52" height="5.44" fill="#7602f8"/><rect x="264.57" width="6.52" height="5.44" fill="#6601d8"/><rect x="270.79" width="12.75" height="5.44" fill="#39004e"/><rect x="283.24" width="12.75" height="5.44" fill="#3e005b"/><rect x="295.69" width="12.75" height="5.44" fill="#420068"/><rect x="308.14" width="12.75" height="5.44" fill="#460074"/><rect x="320.58" width="12.75" height="5.44" fill="#4a0080"/><rect x="333.03" width="18.97" height="5.44" fill="#460074"/><rect x="351.70" width="6.52" height="5.44" fill="#420068"/><rect x="357.92" width="12.75" height="5.44" fill="#3e005b"/><rect x="370.37" width="6.52" height="5.44" fill="#420068"/><rect x="376.59" width="6.52" height="5.44" fill="#48007a"/><rect x="382.82" width="6.52" height="5.44" fill="#53009d"/><rect x="389.04" width="6.52" height="5.44" fill="#5c01bb"/><rect x="395.26" width="6.52" height="5.44" fill="#6801dc"/><rect x="401.49" width="6.52" height="5.44" fill="#6f02ee"/><rect x="407.71" width="6.52" height="5.44" fill="#7a03fd"/><rect x="413.93" width="6.52" height="5.44" fill="#7f04ff"/><rect x="420.16" width="6.52" height="5.44" fill="#8305fe"/><rect x="426.38" width="6.52" height="5.44" fill="#8706fa"/><rect x="432.61" width="6.52" height="5.44" fill="#8f08ea"/><rect x="438.83" width="6.52" height="5.44" fill="#990cc7"/><rect x="445.05" width="6.52" height="5.44" fill="#9e0eaa"/><rect x="451.28" width="6.52" height="5.44" fill="#a00fa0"/><rect x="457.50" width="12.75" height="5.44" fill="#a11095"/><rect x="469.95" width="18.97" height="5.44" fill="#a3118a"/><rect x="488.62" width="12.75" height="5.44" fill="#a5137e"/><rect x="501.06" width="6.52" height="5.44" fill="#ad193e"/><rect x="507.29" width="6.52" height="5.44" fill="#c13000"/><rect x="513.51" width="6.52" height="5.44" fill="#cc4300"/><rect x="519.73" width="5.07" height="5.44" fill="#d45400"/></g>
<g transform="translate(0 270.78)"><rect x="74.50" width="22.34" height="5.44" fill="#c93e00"/><rect x="96.54" width="6.52" height="5.44" fill="#cb4000"/><rect x="102.76" width="6.52" height="5.44" fill="#cd4600"/><rect x="108.98" width="6.52" height="5.44" fill="#cf4800"/><rect x="115.21" width="6.52" height="5.44" fill="#d55800"/><rect x="121.43" width="6.52" height="5.44" fill="#de7000"/><rect x="127.65" width="6.52" height="5.44" fill="#e58400"/><rect x="133.88" width="6.52" height="5.44" fill="#e89100"/><rect x="140.10" width="6.52" height="5.44" fill="#eda400"/><rect x="146.32" width="6.52" height="5.44" fill="#e99600"/><rect x="152.55" width="6.52" height="5.44" fill="#e17800"/><rect x="158.77" width="6.52" height="5.44" fill="#d75b00"/><rect x="164.99" width="6.52" height="5.44" fill="#c93e00"/><rect x="171.22" width="6.52" height="5.44" fill="#ad193e"/><rect x="177.44" width="12.75" height="5.44" fill="#ab184c"/><rect x="189.89" width="6.52" height="5.44" fill="#ad193e"/><rect x="196.11" width="6.52" height="5.44" fill="#b21d16"/><rect x="202.34" width="6.52" height="5.44" fill="#b82400"/><rect x="208.56" width="6.52" height="5.44" fill="#c43400"/><rect x="214.78" width="6.52" height="5.44" fill="#cf4800"/><rect x="221.01" width="6.52" height="5.44" fill="#d04b00"/><rect x="227.23" width="6.52" height="5.44" fill="#cc4300"/><rect x="233.45" width="6.52" height="5.44" fill="#bb2800"/><rect x="239.68" width="6.52" height="5.44" fill="#ab184c"/><rect x="245.90" width="6.52" height="5.44" fill="#9c0db4"/><rect x="252.12" width="6.52" height="5.44" fill="#8104ff"/><rect x="258.35" width="6.52" height="5.44" fill="#7102f0"/><rect x="264.57" width="6.52" height="5.44" fill="#6101c8"/><rect x="270.79" width="18.97" height="5.44" fill="#39004e"/><rect x="289.46" width="6.52" height="5.44" fill="#3e005b"/><rect x="295.69" width="12.75" height="5.44" fill="#420068"/><rect x="308.14" width="12.75" height="5.44" fill="#460074"/><rect x="320.58" width="12.75" height="5.44" fill="#4a0080"/><rect x="333.03" width="18.97" height="5.44" fill="#460074"/><rect x="351.70" width="12.75" height="5.44" fill="#420068"/><rect x="364.15" width="12.75" height="5.44" fill="#460074"/><rect x="376.59" width="6.52" height="5.44" fill="#48007a"/><rect x="382.82" width="6.52" height="5.44" fill="#53009d"/><rect x="389.04" width="6.52" height="5.44" fill="#5c01bb"/><rect x="395.26" width="6.52" height="5.44" fill="#6501d4"/><rect x="401.49" width="6.52" height="5.44" fill="#6d02e8"/><rect x="407.71" width="6.52" height="5.44" fill="#7803fb"/><rect x="413.93" width="6.52" height="5.44" fill="#7f04ff"/><rect x="420.16" width="6.52" height="5.44" fill="#8305fe"/><rect x="426.38" width="6.52" height="5.44" fill="#8706fa"/><rect x="432.61" width="6.52" height="5.44" fill="#8d07ef"/><rect x="438.83" width="6.52" height="5.44" fill="#970bcf"/><rect x="445.05" width="31.42" height="5.44" fill="#990cc7"/><rect x="476.17" width="18.97" height="5.44" fill="#970bcf"/><rect x="494.84" width="6.52" height="5.44" fill="#9a0dbe"/><rect x="501.06" width="6.52" height="5.44" fill="#a11095"/><rect x="507.29" width="6.52" height="5.44" fill="#ad193e"/><rect x="513.51" width="6.52" height="5.44" fill="#b92600"/><rect x="519.73" width="5.07" height="5.44" fill="#be2c00"/></g>
<g transform="translate(0 275.92)"><rect x="74.50" width="3.67" height="5.44" fill="#b82400"/><rect x="77.87" width="12.75" height="5.44" fill="#b92600"/><rect x="90.31" width="6.52" height="5.44" fill="#b62200"/><rect x="96.54" width="6.52" height="5.44" fill="#b21d16"/><rect x="102.76" width="6.52" height="5.44" fill="#b82400"/><rect x="108.98" width="6.52" height="5.44" fill="#bb2800"/><rect x="115.21" width="6.52" height="5.44" fill="#bc2a00"/><rect x="121.43" width="6.52" height="5.44" fill="#c43400"/><rect x="127.65" width="6.52" height="5.44" fill="#c93e00"/><rect x="133.88" width="6.52" height="5.44" fill="#cb4000"/><rect x="140.10" width="6.52" height="5.44" fill="#d14e00"/><rect x="146.32" width="6.52" height="5.44" fill="#d45400"/><rect x="152.55" width="6.52" height="5.44" fill="#cf4800"/><rect x="158.77" width="6.52" height="5.44" fill="#cb4000"/><rect x="164.99" width="6.52" height="5.44" fill="#c83b00"/><rect x="171.22" width="6.52" height="5.44" fill="#c43400"/><rect x="177.44" width="6.52" height="5.44" fill="#cf4800"/><rect x="183.67" width="6.52" height="5.44" fill="#d96200"/><rect x="189.89" width="6.52" height="5.44" fill="#de7000"/><rect x="196.11" width="6.52" height="5.44" fill="#dc6900"/><rect x="202.34" width="6.52" height="5.44" fill="#d14e00"/><rect x="208.56" width="6.52" height="5.44" fill="#cf4800"/><rect x="214.78" width="6.52" height="5.44" fill="#d45400"/><rect x="221.01" width="6.52" height="5.44" fill="#d14e00"/><rect x="227.23" width="6.52" height="5.44" fill="#cb4000"/><rect x="233.45" width="6.52" height="5.44" fill="#b82400"/><rect x="239.68" width="6.52" height="5.44" fill="#a11095"/><rect x="245.90" width="6.52" height="5.44" fill="#8906f7"/><rect x="252.12" width="6.52" height="5.44" fill="#7302f4"/><rect x="258.35" width="6.52" height="5.44" fill="#5400a2"/><rect x="264.57" width="6.52" height="5.44" fill="#4e008c"/><rect x="270.79" width="12.75" height="5.44" fill="#340041"/><rect x="283.24" width="12.75" height="5.44" fill="#39004e"/><rect x="295.69" width="6.52" height="5.44" fill="#3e005b"/><rect x="301.91" width="6.52" height="5.44" fill="#420068"/><rect x="308.14" width="43.86" height="5.44" fill="#460074"/><rect x="351.70" width="12.75" height="5.44" fill="#3e005b"/><rect x="364.15" width="6.52" height="5.44" fill="#39004e"/><rect x="370.37" width="6.52" height="5.44" fill="#3e005b"/><rect x="376.59" width="6.52" height="5.44" fill="#44006e"/><rect x="382.82" width="6.52" height="5.44" fill="#4f0092"/><rect x="389.04" width="6.52" height="5.44" fill="#5900b1"/><rect x="395.26" width="6.52" height="5.44" fill="#6201cd"/><rect x="401.49" width="6.52" height="5.44" fill="#6a01e2"/><rect x="407.71" width="6.52" height="5.44" fill="#7602f8"/><rect x="413.93" width="6.52" height="5.44" fill="#7c03fe"/><rect x="420.16" width="6.52" height="5.44" fill="#8104ff"/><rect x="426.38" width="6.52" height="5.44" fill="#8505fd"/><rect x="432.61" width="6.52" height="5.44" fill="#8d07ef"/><rect x="438.83" width="6.52" height="5.44" fill="#970bcf"/><rect x="445.05" width="6.52" height="5.44" fill="#9e0eaa"/><rect x="451.28" width="6.52" height="5.44" fill="#a00fa0"/><rect x="457.50" width="6.52" height="5.44" fill="#9c0db4"/><rect x="463.72" width="6.52" height="5.44" fill="#990cc7"/><rect x="469.95" width="6.52" height="5.44" fill="#970bcf"/><rect x="476.17" width="6.52" height="5.44" fill="#950ad7"/><rect x="482.39" width="6.52" height="5.44" fill="#9309de"/><rect x="488.62" width="12.75" height="5.44" fill="#8f08ea"/><rect x="501.06" width="6.52" height="5.44" fill="#9309de"/><rect x="507.29" width="6.52" height="5.44" fill="#9c0db4"/><rect x="513.51" width="6.52" height="5.44" fill="#a5137e"/><rect x="519.73" width="5.07" height="5.44" fill="#ad193e"/></g>
<g transform="translate(0 281.06)"><rect x="74.50" width="3.67" height="5.44" fill="#aa1659"/><rect x="77.87" width="18.97" height="5.44" fill="#ab184c"/><rect x="96.54" width="6.52" height="5.44" fill="#ad193e"/><rect x="102.76" width="12.75" height="5.44" fill="#af1a31"/><rect x="115.21" width="6.52" height="5.44" fill="#b21d16"/><rect x="121.43" width="6.52" height="5.44" fill="#b82400"/><rect x="127.65" width="6.52" height="5.44" fill="#b92600"/><rect x="133.88" width="6.52" height="5.44" fill="#bb2800"/><rect x="140.10" width="6.52" height="5.44" fill="#be2c00"/><rect x="146.32" width="12.75" height="5.44" fill="#c13000"/><rect x="158.77" width="6.52" height="5.44" fill="#be2c00"/><rect x="164.99" width="6.52" height="5.44" fill="#bb2800"/><rect x="171.22" width="6.52" height="5.44" fill="#c43400"/><rect x="177.44" width="6.52" height="5.44" fill="#d75b00"/><rect x="183.67" width="6.52" height="5.44" fill="#e89100"/><rect x="189.89" width="6.52" height="5.44" fill="#f3be00"/><rect x="196.11" width="6.52" height="5.44" fill="#f0b300"/><rect x="202.34" width="6.52" height="5.44" fill="#e17800"/><rect x="208.56" width="6.52" height="5.44" fill="#cf4800"/><rect x="214.78" width="6.52" height="5.44" fill="#c13000"/><rect x="221.01" width="6.52" height="5.44" fill="#ad193e"/><rect x="227.23" width="6.52" height="5.44" fill="#aa1659"/><rect x="233.45" width="6.52" height="5.44" fill="#970bcf"/><rect x="239.68" width="6.52" height="5.44" fill="#7f04ff"/><rect x="245.90" width="6.52" height="5.44" fill="#6901df"/><rect x="252.12" width="6.52" height="5.44" fill="#5b01b6"/><rect x="258.35" width="6.52" height="5.44" fill="#4a0080"/><rect x="264.57" width="6.52" height="5.44" fill="#420068"/><rect x="270.79" width="6.52" height="5.44" fill="#270026"/><rect x="277.02" width="6.52" height="5.44" fill="#200019"/><rect x="283.24" width="6.52" height="5.44" fill="#270026"/><rect x="289.46" width="6.52" height="5.44" fill="#2e0034"/><rect x="295.69" width="6.52" height="5.44" fill="#39004e"/><rect x="301.91" width="6.52" height="5.44" fill="#420068"/><rect x="308.14" width="6.52" height="5.44" fill="#4a0080"/><rect x="314.36" width="25.19" height="5.44" fill="#460074"/><rect x="339.25" width="12.75" height="5.44" fill="#420068"/><rect x="351.70" width="6.52" height="5.44" fill="#3e005b"/><rect x="357.92" width="6.52" height="5.44" fill="#39004e"/><rect x="364.15" width="6.52" height="5.44" fill="#340041"/><rect x="370.37" width="6.52" height="5.44" fill="#39004e"/><rect x="376.59" width="6.52" height="5.44" fill="#3e005b"/><rect x="382.82" width="6.52" height="5.44" fill="#4a0080"/><rect x="389.04" width="6.52" height="5.44" fill="#5400a2"/><rect x="395.26" width="6.52" height="5.44" fill="#5e01c0"/><rect x="401.49" width="6.52" height="5.44" fill="#6601d8"/><rect x="407.71" width="6.52" height="5.44" fill="#7202f2"/><rect x="413.93" width="6.52" height="5.44" fill="#7903fc"/><rect x="420.16" width="6.52" height="5.44" fill="#8004ff"/><rect x="426.38" width="6.52" height="5.44" fill="#8405fd"/><rect x="432.61" width="6.52" height="5.44" fill="#8a06f5"/><rect x="438.83" width="6.52" height="5.44" fill="#9309de"/><rect x="445.05" width="6.52" height="5.44" fill="#a00fa0"/><rect x="451.28" width="6.52" height="5.44" fill="#a3118a"/><rect x="457.50" width="6.52" height="5.44" fill="#9e0eaa"/><rect x="463.72" width="6.52" height="5.44" fill="#9a0dbe"/><rect x="469.95" width="6.52" height="5.44" fill="#990cc7"/><rect x="476.17" width="6.52" height="5.44" fill="#950ad7"/><rect x="482.39" width="6.52" height="5.44" fill="#9109e4"/><rect x="488.62" width="12.75" height="5.44" fill="#8d07ef"/><rect x="501.06" width="6.52" height="5.44" fill="#8f08ea"/><rect x="507.29" width="6.52" height="5.44" fill="#9309de"/><rect x="513.51" width="6.52" height="5.44" fill="#990cc7"/><rect x="519.73" width="5.07" height="5.44" fill="#a00fa0"/></g>
<g transform="translate(0 286.20)"><rect x="74.50" width="3.67" height="5.44" fill="#a5137e"/><rect x="77.87" width="6.52" height="5.44" fill="#a71472"/><rect x="84.09" width="12.75" height="5.44" fill="#a81565"/><rect x="96.54" width="6.52" height="5.44" fill="#aa1659"/><rect x="102.76" width="6.52" height="5.44" fill="#a3118a"/><rect x="108.98" width="6.52" height="5.44" fill="#9e0eaa"/><rect x="115.21" width="6.52" height="5.44" fill="#9c0db4"/><rect x="121.43" width="6.52" height="5.44" fill="#9e0eaa"/><rect x="127.65" width="6.52" height="5.44" fill="#a00fa0"/><rect x="133.88" width="6.52" height="5.44" fill="#a5137e"/><rect x="140.10" width="6.52" height="5.44" fill="#a81565"/><rect x="146.32" width="12.75" height="5.44" fill="#ab184c"/><rect x="158.77" width="6.52" height="5.44" fill="#aa1659"/><rect x="164.99" width="6.52" height="5.44" fill="#b62200"/><rect x="171.22" width="6.52" height="5.44" fill="#c13000"/><rect x="177.44" width="6.52" height="5.44" fill="#cf4800"/><rect x="183.67" width="6.52" height="5.44" fill="#d55800"/><rect x="189.89" width="6.52" height="5.44" fill="#d75b00"/><rect x="196.11" width="6.52" height="5.44" fill="#cf4800"/><rect x="202.34" width="6.52" height="5.44" fill="#c13000"/><rect x="208.56" width="6.52" height="5.44" fill="#9e0eaa"/><rect x="214.78" width="6.52" height="5.44" fill="#9109e4"/><rect x="221.01" width="6.52" height="5.44" fill="#8b07f4"/><rect x="227.23" width="6.52" height="5.44" fill="#8104ff"/><rect x="233.45" width="6.52" height="5.44" fill="#7602f8"/><rect x="239.68" width="6.52" height="5.44" fill="#6601d8"/><rect x="245.90" width="6.52" height="5.44" fill="#5800ac"/><rect x="252.12" width="6.52" height="5.44" fill="#4a0080"/><rect x="258.35" width="6.52" height="5.44" fill="#460074"/><rect x="264.57" width="6.52" height="5.44" fill="#3e005b"/><rect x="270.79" width="6.52" height="5.44" fill="#200019"/><rect x="277.02" width="6.52" height="5.44" fill="#270026"/><rect x="283.24" width="12.75" height="5.44" fill="#2e0034"/><rect x="295.69" width="6.52" height="5.44" fill="#39004e"/><rect x="301.91" width="6.52" height="5.44" fill="#3e005b"/><rect x="308.14" width="25.19" height="5.44" fill="#460074"/><rect x="333.03" width="18.97" height="5.44" fill="#420068"/><rect x="351.70" width="6.52" height="5.44" fill="#3e005b"/><rect x="357.92" width="6.52" height="5.44" fill="#39004e"/><rect x="364.15" width="12.75" height="5.44" fill="#340041"/><rect x="376.59" width="6.52" height="5.44" fill="#370049"/><rect x="382.82" width="6.52" height="5.44" fill="#440070"/><rect x="389.04" width="6.52" height="5.44" fill="#500093"/><rect x="395.26" width="6.52" height="5.44" fill="#5a00b3"/><rect x="401.49" width="6.52" height="5.44" fill="#6201ce"/><rect x="407.71" width="6.52" height="5.44" fill="#6e02ec"/><rect x="413.93" width="6.52" height="5.44" fill="#7602f8"/><rect x="420.16" width="6.52" height="5.44" fill="#7d03fe"/><rect x="426.38" width="6.52" height="5.44" fill="#8104ff"/><rect x="432.61" width="6.52" height="5.44" fill="#8706fa"/><rect x="438.83" width="6.52" height="5.44" fill="#8f08ea"/><rect x="445.05" width="6.52" height="5.44" fill="#990cc7"/><rect x="451.28" width="6.52" height="5.44" fill="#9a0dbe"/><rect x="457.50" width="12.75" height="5.44" fill="#990cc7"/><rect x="469.95" width="6.52" height="5.44" fill="#970bcf"/><rect x="476.17" width="6.52" height="5.44" fill="#950ad7"/><rect x="482.39" width="6.52" height="5.44" fill="#9109e4"/><rect x="488.62" width="6.52" height="5.44" fill="#8f08ea"/><rect x="494.84" width="12.75" height="5.44" fill="#8d07ef"/><rect x="507.29" width="6.52" height="5.44" fill="#8f08ea"/><rect x="513.51" width="6.52" height="5.44" fill="#9109e4"/><rect x="519.73" width="5.07" height="5.44" fill="#950ad7"/></g>
<g transform="translate(0 291.35)"><rect x="74.50" width="28.56" height="5.44" fill="#9e0eaa"/><rect x="102.76" width="6.52" height="5.44" fill="#9c0db4"/><rect x="108.98" width="6.52" height="5.44" fill="#970bcf"/><rect x="115.21" width="6.52" height="5.44" fill="#9309de"/><rect x="121.43" width="37.64" height="5.44" fill="#9109e4"/><rect x="158.77" width="6.52" height="5.44" fill="#8f08ea"/><rect x="164.99" width="6.52" height="5.44" fill="#a00fa0"/><rect x="171.22" width="6.52" height="5.44" fill="#aa1659"/><rect x="177.44" width="6.52" height="5.44" fill="#b62200"/><rect x="183.67" width="6.52" height="5.44" fill="#b92600"/><rect x="189.89" width="6.52" height="5.44" fill="#af1a31"/><rect x="196.11" width="6.52" height="5.44" fill="#990cc7"/><rect x="202.34" width="6.52" height="5.44" fill="#8906f7"/><rect x="208.56" width="6.52" height="5.44" fill="#7f04ff"/><rect x="214.78" width="6.52" height="5.44" fill="#7302f4"/><rect x="221.01" width="6.52" height="5.44" fill="#6c01e5"/><rect x="227.23" width="6.52" height="5.44" fill="#6601d8"/><rect x="233.45" width="6.52" height="5.44" fill="#6101c8"/><rect x="239.68" width="6.52" height="5.44" fill="#5800ac"/><rect x="245.90" width="6.52" height="5.44" fill="#4e008c"/><rect x="252.12" width="6.52" height="5.44" fill="#4a0080"/><rect x="258.35" width="6.52" height="5.44" fill="#460074"/><rect x="264.57" width="6.52" height="5.44" fill="#3e005b"/><rect x="270.79" width="18.97" height="5.44" fill="#2e0034"/><rect x="289.46" width="6.52" height="5.44" fill="#340041"/><rect x="295.69" width="6.52" height="5.44" fill="#39004e"/><rect x="301.91" width="6.52" height="5.44" fill="#3e005b"/><rect x="308.14" width="6.52" height="5.44" fill="#420068"/><rect x="314.36" width="12.75" height="5.44" fill="#460074"/><rect x="326.81" width="31.42" height="5.44" fill="#420068"/><rect x="357.92" width="6.52" height="5.44" fill="#39004e"/><rect x="364.15" width="12.75" height="5.44" fill="#340041"/><rect x="376.59" width="6.52" height="5.44" fill="#2f0037"/><rect x="382.82" width="6.52" height="5.44" fill="#3f005e"/><rect x="389.04" width="6.52" height="5.44" fill="#4b0083"/><rect x="395.26" width="6.52" height="5.44" fill="#5500a5"/><rect x="401.49" width="6.52" height="5.44" fill="#5f01c2"/><rect x="407.71" width="6.52" height="5.44" fill="#6b01e4"/><rect x="413.93" width="6.52" height="5.44" fill="#7302f3"/><rect x="420.16" width="6.52" height="5.44" fill="#7a03fc"/><rect x="426.38" width="6.52" height="5.44" fill="#7e04ff"/><rect x="432.61" width="6.52" height="5.44" fill="#8505fd"/><rect x="438.83" width="6.52" height="5.44" fill="#8c07f1"/><rect x="445.05" width="6.52" height="5.44" fill="#9209e1"/><rect x="451.28" width="25.19" height="5.44" fill="#940ada"/><rect x="476.17" width="6.52" height="5.44" fill="#9209e1"/><rect x="482.39" width="6.52" height="5.44" fill="#9008e7"/><rect x="488.62" width="6.52" height="5.44" fill="#8e08ed"/><rect x="494.84" width="18.97" height="5.44" fill="#8c07f1"/><rect x="513.51" width="6.52" height="5.44" fill="#8e08ed"/><rect x="519.73" width="5.07" height="5.44" fill="#9008e7"/></g>
<g transform="translate(0 296.49)"><rect x="74.50" width="3.67" height="5.44" fill="#990cc7"/><rect x="77.87" width="18.97" height="5.44" fill="#9a0dbe"/><rect x="96.54" width="6.52" height="5.44" fill="#990cc7"/><rect x="102.76" width="6.52" height="5.44" fill="#970bcf"/><rect x="108.98" width="6.52" height="5.44" fill="#9309de"/><rect x="115.21" width="6.52" height="5.44" fill="#8d07ef"/><rect x="121.43" width="6.52" height="5.44" fill="#8906f7"/><rect x="127.65" width="6.52" height="5.44" fill="#8706fa"/><rect x="133.88" width="18.97" height="5.44" fill="#8505fd"/><rect x="152.55" width="6.52" height="5.44" fill="#8305fe"/><rect x="158.77" width="6.52" height="5.44" fill="#8104ff"/><rect x="164.99" width="6.52" height="5.44" fill="#7c03fe"/><rect x="171.22" width="6.52" height="5.44" fill="#8706fa"/><rect x="177.44" width="6.52" height="5.44" fill="#8b07f4"/><rect x="183.67" width="6.52" height="5.44" fill="#8305fe"/><rect x="189.89" width="6.52" height="5.44" fill="#7602f8"/><rect x="196.11" width="6.52" height="5.44" fill="#6c01e5"/><rect x="202.34" width="6.52" height="5.44" fill="#6401d1"/><rect x="208.56" width="6.52" height="5.44" fill="#5e01c0"/><rect x="214.78" width="6.52" height="5.44" fill="#5800ac"/><rect x="221.01" width="6.52" height="5.44" fill="#5400a2"/><rect x="227.23" width="6.52" height="5.44" fill="#510097"/><rect x="233.45" width="6.52" height="5.44" fill="#4e008c"/><rect x="239.68" width="6.52" height="5.44" fill="#4a0080"/><rect x="245.90" width="6.52" height="5.44" fill="#44006e"/><rect x="252.12" width="12.75" height="5.44" fill="#420068"/><rect x="264.57" width="6.52" height="5.44" fill="#3e005b"/><rect x="270.79" width="6.52" height="5.44" fill="#2e0034"/><rect x="277.02" width="12.75" height="5.44" fill="#270026"/><rect x="289.46" width="6.52" height="5.44" fill="#2e0034"/><rect x="295.69" width="6.52" height="5.44" fill="#340041"/><rect x="301.91" width="6.52" height="5.44" fill="#39004e"/><rect x="308.14" width="12.75" height="5.44" fill="#3e005b"/><rect x="320.58" width="6.52" height="5.44" fill="#420068"/><rect x="326.81" width="12.75" height="5.44" fill="#39004e"/><rect x="339.25" width="12.75" height="5.44" fill="#3e005b"/><rect x="351.70" width="6.52" height="5.44" fill="#420068"/><rect x="357.92" width="6.52" height="5.44" fill="#3e005b"/><rect x="364.15" width="12.75" height="5.44" fill="#340041"/><rect x="376.59" width="6.52" height="5.44" fill="#2d0032"/><rect x="382.82" width="6.52" height="5.44" fill="#3d005a"/><rect x="389.04" width="6.52" height="5.44" fill="#49007f"/><rect x="395.26" width="6.52" height="5.44" fill="#5400a1"/><rect x="401.49" width="6.52" height="5.44" fill="#5d01be"/><rect x="407.71" width="6.52" height="5.44" fill="#6701db"/><rect x="413.93" width="6.52" height="5.44" fill="#6f02ed"/><rect x="420.16" width="6.52" height="5.44" fill="#7603f9"/><rect x="426.38" width="6.52" height="5.44" fill="#7b03fd"/><rect x="432.61" width="6.52" height="5.44" fill="#8204ff"/><rect x="438.83" width="6.52" height="5.44" fill="#8906f7"/><rect x="445.05" width="6.52" height="5.44" fill="#8d07ef"/><rect x="451.28" width="12.75" height="5.44" fill="#8f08ea"/><rect x="463.72" width="18.97" height="5.44" fill="#9109e4"/><rect x="482.39" width="6.52" height="5.44" fill="#8f08ea"/><rect x="488.62" width="6.52" height="5.44" fill="#8d07ef"/><rect x="494.84" width="6.52" height="5.44" fill="#8b07f3"/><rect x="501.06" width="18.97" height="5.44" fill="#8906f7"/><rect x="519.73" width="5.07" height="5.44" fill="#8b07f3"/></g>
<g transform="translate(0 301.63)"><rect x="74.50" width="3.67" height="5.44" fill="#9309de"/><rect x="77.87" width="6.52" height="5.44" fill="#970bcf"/><rect x="84.09" width="12.75" height="5.44" fill="#990cc7"/><rect x="96.54" width="6.52" height="5.44" fill="#970bcf"/><rect x="102.76" width="6.52" height="5.44" fill="#950ad7"/><rect x="108.98" width="6.52" height="5.44" fill="#9109e4"/><rect x="115.21" width="6.52" height="5.44" fill="#8d07ef"/><rect x="121.43" width="6.52" height="5.44" fill="#8706fa"/><rect x="127.65" width="6.52" height="5.44" fill="#8305fe"/><rect x="133.88" width="12.75" height="5.44" fill="#8104ff"/><rect x="146.32" width="6.52" height="5.44" fill="#7f04ff"/><rect x="152.55" width="6.52" height="5.44" fill="#7c03fe"/><rect x="158.77" width="6.52" height="5.44" fill="#7a03fd"/><rect x="164.99" width="6.52" height="5.44" fill="#7602f8"/><rect x="171.22" width="6.52" height="5.44" fill="#6c01e5"/><rect x="177.44" width="6.52" height="5.44" fill="#6601d8"/><rect x="183.67" width="6.52" height="5.44" fill="#6401d1"/><rect x="189.89" width="6.52" height="5.44" fill="#5f01c4"/><rect x="196.11" width="6.52" height="5.44" fill="#5c01bb"/><rect x="202.34" width="6.52" height="5.44" fill="#5900b1"/><rect x="208.56" width="6.52" height="5.44" fill="#5400a2"/><rect x="214.78" width="6.52" height="5.44" fill="#510097"/><rect x="221.01" width="6.52" height="5.44" fill="#4e008c"/><rect x="227.23" width="6.52" height="5.44" fill="#4a0080"/><rect x="233.45" width="6.52" height="5.44" fill="#460074"/><rect x="239.68" width="6.52" height="5.44" fill="#44006e"/><rect x="245.90" width="6.52" height="5.44" fill="#39004e"/><rect x="252.12" width="6.52" height="5.44" fill="#400062"/><rect x="258.35" width="12.75" height="5.44" fill="#3e005b"/><rect x="270.79" width="6.52" height="5.44" fill="#340041"/><rect x="277.02" width="12.75" height="5.44" fill="#270026"/><rect x="289.46" width="6.52" height="5.44" fill="#2e0034"/><rect x="295.69" width="6.52" height="5.44" fill="#39004e"/><rect x="301.91" width="18.97" height="5.44" fill="#3e005b"/><rect x="320.58" width="12.75" height="5.44" fill="#420068"/><rect x="333.03" width="6.52" height="5.44" fill="#39004e"/><rect x="339.25" width="12.75" height="5.44" fill="#3e005b"/><rect x="351.70" width="12.75" height="5.44" fill="#39004e"/><rect x="364.15" width="12.75" height="5.44" fill="#340041"/><rect x="376.59" width="6.52" height="5.44" fill="#2b002d"/><rect x="382.82" width="6.52" height="5.44" fill="#360048"/><rect x="389.04" width="6.52" height="5.44" fill="#44006e"/><rect x="395.26" width="6.52" height="5.44" fill="#4f0092"/><rect x="401.49" width="6.52" height="5.44" fill="#5900b1"/><rect x="407.71" width="6.52" height="5.44" fill="#6601d8"/><rect x="413.93" width="6.52" height="5.44" fill="#6e02eb"/><rect x="420.16" width="6.52" height="5.44" fill="#7302f4"/><rect x="426.38" width="6.52" height="5.44" fill="#7803fb"/><rect x="432.61" width="6.52" height="5.44" fill="#7f04ff"/><rect x="438.83" width="6.52" height="5.44" fill="#8605fb"/><rect x="445.05" width="6.52" height="5.44" fill="#8806f8"/><rect x="451.28" width="6.52" height="5.44" fill="#8b07f5"/><rect x="457.50" width="12.75" height="5.44" fill="#8d07f1"/><rect x="469.95" width="12.75" height="5.44" fill="#8e08ec"/><rect x="482.39" width="6.52" height="5.44" fill="#8d07f1"/><rect x="488.62" width="6.52" height="5.44" fill="#8b07f5"/><rect x="494.84" width="6.52" height="5.44" fill="#8806f8"/><rect x="501.06" width="23.74" height="5.44" fill="#8605fb"/></g>
<g transform="translate(0 306.77)"><rect x="74.50" width="3.67" height="5.44" fill="#8f08ea"/><rect x="77.87" width="6.52" height="5.44" fill="#9309de"/><rect x="84.09" width="6.52" height="5.44" fill="#970bcf"/><rect x="90.31" width="6.52" height="5.44" fill="#950ad7"/><rect x="96.54" width="6.52" height="5.44" fill="#9309de"/><rect x="102.76" width="6.52" height="5.44" fill="#9109e4"/><rect x="108.98" width="6.52" height="5.44" fill="#8f08ea"/><rect x="115.21" width="6.52" height="5.44" fill="#8b07f4"/><rect x="121.43" width="6.52" height="5.44" fill="#8505fd"/><rect x="127.65" width="6.52" height="5.44" fill="#8104ff"/><rect x="133.88" width="6.52" height="5.44" fill="#7f04ff"/><rect x="140.10" width="6.52" height="5.44" fill="#7c03fe"/><rect x="146.32" width="6.52" height="5.44" fill="#7a03fd"/><rect x="152.55" width="6.52" height="5.44" fill="#7602f8"/><rect x="158.77" width="6.52" height="5.44" fill="#7302f4"/><rect x="164.99" width="6.52" height="5.44" fill="#7102f0"/><rect x="171.22" width="6.52" height="5.44" fill="#6401d1"/><rect x="177.44" width="6.52" height="5.44" fill="#5600a7"/><rect x="183.67" width="12.75" height="5.44" fill="#5400a2"/><rect x="196.11" width="12.75" height="5.44" fill="#5600a7"/><rect x="208.56" width="6.52" height="5.44" fill="#510097"/><rect x="214.78" width="6.52" height="5.44" fill="#4c0086"/><rect x="221.01" width="6.52" height="5.44" fill="#48007a"/><rect x="227.23" width="12.75" height="5.44" fill="#44006e"/><rect x="239.68" width="6.52" height="5.44" fill="#420068"/><rect x="245.90" width="12.75" height="5.44" fill="#400062"/><rect x="258.35" width="12.75" height="5.44" fill="#3e005b"/><rect x="270.79" width="6.52" height="5.44" fill="#340041"/><rect x="277.02" width="12.75" height="5.44" fill="#270026"/><rect x="289.46" width="6.52" height="5.44" fill="#340041"/><rect x="295.69" width="12.75" height="5.44" fill="#3e005b"/><rect x="308.14" width="12.75" height="5.44" fill="#39004e"/><rect x="320.58" width="6.52" height="5.44" fill="#3e005b"/><rect x="326.81" width="31.42" height="5.44" fill="#39004e"/><rect x="357.92" width="18.97" height="5.44" fill="#340041"/><rect x="376.59" width="6.52" height="5.44" fill="#280028"/><rect x="382.82" width="6.52" height="5.44" fill="#340043"/><rect x="389.04" width="6.52" height="5.44" fill="#420069"/><rect x="395.26" width="6.52" height="5.44" fill="#4a0082"/><rect x="401.49" width="6.52" height="5.44" fill="#5500a3"/><rect x="407.71" width="6.52" height="5.44" fill="#6201ce"/><rect x="413.93" width="6.52" height="5.44" fill="#6b01e3"/><rect x="420.16" width="6.52" height="5.44" fill="#7202f3"/><rect x="426.38" width="6.52" height="5.44" fill="#7703fa"/><rect x="432.61" width="6.52" height="5.44" fill="#7c03fe"/><rect x="438.83" width="12.75" height="5.44" fill="#8305fe"/><rect x="451.28" width="6.52" height="5.44" fill="#8605fc"/><rect x="457.50" width="12.75" height="5.44" fill="#8806fa"/><rect x="469.95" width="12.75" height="5.44" fill="#8a06f6"/><rect x="482.39" width="12.75" height="5.44" fill="#8806fa"/><rect x="494.84" width="6.52" height="5.44" fill="#8605fc"/><rect x="501.06" width="23.74" height="5.44" fill="#8305fe"/></g>
<g transform="translate(0 311.92)"><rect x="74.50" width="3.67" height="5.44" fill="#8b07f4"/><rect x="77.87" width="6.52" height="5.44" fill="#8d07ef"/><rect x="84.09" width="6.52" height="5.44" fill="#8f08ea"/><rect x="90.31" width="12.75" height="5.44" fill="#9109e4"/><rect x="102.76" width="6.52" height="5.44" fill="#8f08ea"/><rect x="108.98" width="6.52" height="5.44" fill="#8d07ef"/><rect x="115.21" width="6.52" height="5.44" fill="#8906f7"/><rect x="121.43" width="6.52" height="5.44" fill="#8305fe"/><rect x="127.65" width="6.52" height="5.44" fill="#7f04ff"/><rect x="133.88" width="6.52" height="5.44" fill="#7c03fe"/><rect x="140.10" width="6.52" height="5.44" fill="#7a03fd"/><rect x="146.32" width="6.52" height="5.44" fill="#7602f8"/><rect x="152.55" width="6.52" height="5.44" fill="#7102f0"/><rect x="158.77" width="6.52" height="5.44" fill="#6e02eb"/><rect x="164.99" width="6.52" height="5.44" fill="#6c01e5"/><rect x="171.22" width="6.52" height="5.44" fill="#5900b1"/><rect x="177.44" width="6.52" height="5.44" fill="#4c0086"/><rect x="183.67" width="6.52" height="5.44" fill="#4a0080"/><rect x="189.89" width="6.52" height="5.44" fill="#4e008c"/><rect x="196.11" width="12.75" height="5.44" fill="#4f0092"/><rect x="208.56" width="6.52" height="5.44" fill="#4a0080"/><rect x="214.78" width="6.52" height="5.44" fill="#44006e"/><rect x="221.01" width="50.09" height="5.44" fill="#3e005b"/><rect x="270.79" width="6.52" height="5.44" fill="#39004e"/><rect x="277.02" width="6.52" height="5.44" fill="#200019"/><rect x="283.24" width="6.52" height="5.44" fill="#2e0034"/><rect x="289.46" width="18.97" height="5.44" fill="#39004e"/><rect x="308.14" width="68.76" height="5.44" fill="#340041"/><rect x="376.59" width="6.52" height="5.44" fill="#1d0015"/><rect x="382.82" width="6.52" height="5.44" fill="#2c0030"/><rect x="389.04" width="6.52" height="5.44" fill="#3c0058"/><rect x="395.26" width="6.52" height="5.44" fill="#450071"/><rect x="401.49" width="6.52" height="5.44" fill="#500094"/><rect x="407.71" width="6.52" height="5.44" fill="#5f01c2"/><rect x="413.93" width="6.52" height="5.44" fill="#6701da"/><rect x="420.16" width="6.52" height="5.44" fill="#6f02ec"/><rect x="426.38" width="6.52" height="5.44" fill="#7402f5"/><rect x="432.61" width="6.52" height="5.44" fill="#7803fb"/><rect x="438.83" width="12.75" height="5.44" fill="#8004ff"/><rect x="451.28" width="12.75" height="5.44" fill="#8305fe"/><rect x="463.72" width="25.19" height="5.44" fill="#8505fd"/><rect x="488.62" width="12.75" height="5.44" fill="#8305fe"/><rect x="501.06" width="23.74" height="5.44" fill="#8004ff"/></g>
<g transform="translate(0 317.06)"><rect x="74.50" width="3.67" height="5.44" fill="#8706fa"/><rect x="77.87" width="6.52" height="5.44" fill="#8906f7"/><rect x="84.09" width="6.52" height="5.44" fill="#8b07f4"/><rect x="90.31" width="6.52" height="5.44" fill="#8d07ef"/><rect x="96.54" width="6.52" height="5.44" fill="#8f08ea"/><rect x="102.76" width="6.52" height="5.44" fill="#8d07ef"/><rect x="108.98" width="6.52" height="5.44" fill="#8b07f4"/><rect x="115.21" width="6.52" height="5.44" fill="#8706fa"/><rect x="121.43" width="6.52" height="5.44" fill="#8305fe"/><rect x="127.65" width="6.52" height="5.44" fill="#7f04ff"/><rect x="133.88" width="6.52" height="5.44" fill="#7c03fe"/><rect x="140.10" width="6.52" height="5.44" fill="#7a03fd"/><rect x="146.32" width="6.52" height="5.44" fill="#7602f8"/><rect x="152.55" width="6.52" height="5.44" fill="#7102f0"/><rect x="158.77" width="6.52" height="5.44" fill="#6c01e5"/><rect x="164.99" width="6.52" height="5.44" fill="#6801dc"/><rect x="171.22" width="6.52" height="5.44" fill="#5600a7"/><rect x="177.44" width="6.52" height="5.44" fill="#460074"/><rect x="183.67" width="6.52" height="5.44" fill="#39004e"/><rect x="189.89" width="6.52" height="5.44" fill="#460074"/><rect x="196.11" width="12.75" height="5.44" fill="#4c0086"/><rect x="208.56" width="6.52" height="5.44" fill="#460074"/><rect x="214.78" width="6.52" height="5.44" fill="#3e005b"/><rect x="221.01" width="6.52" height="5.44" fill="#360048"/><rect x="227.23" width="12.75" height="5.44" fill="#39004e"/><rect x="239.68" width="18.97" height="5.44" fill="#3b0055"/><rect x="258.35" width="12.75" height="5.44" fill="#3e005b"/><rect x="270.79" width="6.52" height="5.44" fill="#39004e"/><rect x="277.02" width="31.42" height="5.44" fill="#340041"/><rect x="308.14" width="37.64" height="5.44" fill="#2e0034"/><rect x="345.48" width="6.52" height="5.44" fill="#340041"/><rect x="351.70" width="18.97" height="5.44" fill="#2e0034"/><rect x="370.37" width="6.52" height="5.44" fill="#340041"/><rect x="376.59" width="6.52" height="5.44" fill="#1a0010"/><rect x="382.82" width="6.52" height="5.44" fill="#2a002b"/><rect x="389.04" width="6.52" height="5.44" fill="#360046"/><rect x="395.26" width="6.52" height="5.44" fill="#3f0060"/><rect x="401.49" width="6.52" height="5.44" fill="#4b0085"/><rect x="407.71" width="6.52" height="5.44" fill="#5a01b5"/><rect x="413.93" width="6.52" height="5.44" fill="#6301d0"/><rect x="420.16" width="6.52" height="5.44" fill="#6b01e5"/><rect x="426.38" width="6.52" height="5.44" fill="#7002ef"/><rect x="432.61" width="6.52" height="5.44" fill="#7803fa"/><rect x="438.83" width="12.75" height="5.44" fill="#7d04ff"/><rect x="451.28" width="12.75" height="5.44" fill="#8004ff"/><rect x="463.72" width="25.19" height="5.44" fill="#8204ff"/><rect x="488.62" width="12.75" height="5.44" fill="#8004ff"/><rect x="501.06" width="23.74" height="5.44" fill="#7d04ff"/></g>
<g transform="translate(0 322.20)"><rect x="74.50" width="3.67" height="5.44" fill="#8305fe"/><rect x="77.87" width="6.52" height="5.44" fill="#8505fd"/><rect x="84.09" width="12.75" height="5.44" fill="#8706fa"/><rect x="96.54" width="12.75" height="5.44" fill="#8906f7"/><rect x="108.98" width="6.52" height="5.44" fill="#8706fa"/><rect x="115.21" width="6.52" height="5.44" fill="#8505fd"/><rect x="121.43" width="6.52" height="5.44" fill="#8104ff"/><rect x="127.65" width="6.52" height="5.44" fill="#7f04ff"/><rect x="133.88" width="6.52" height="5.44" fill="#7c03fe"/><rect x="140.10" width="6.52" height="5.44" fill="#7a03fd"/><rect x="146.32" width="6.52" height="5.44" fill="#7602f8"/><rect x="152.55" width="6.52" height="5.44" fill="#7102f0"/><rect x="158.77" width="6.52" height="5.44" fill="#6c01e5"/><rect x="164.99" width="6.52" height="5.44" fill="#6601d8"/><rect x="171.22" width="6.52" height="5.44" fill="#5600a7"/><rect x="177.44" width="6.52" height="5.44" fill="#4a0080"/><rect x="183.67" width="6.52" height="5.44" fill="#44006e"/><rect x="189.89" width="6.52" height="5.44" fill="#460074"/><rect x="196.11" width="6.52" height="5.44" fill="#4e008c"/><rect x="202.34" width="6.52" height="5.44" fill="#4f0092"/><rect x="208.56" width="6.52" height="5.44" fill="#44006e"/><rect x="214.78" width="6.52" height="5.44" fill="#360048"/><rect x="221.01" width="6.52" height="5.44" fill="#31003a"/><rect x="227.23" width="12.75" height="5.44" fill="#360048"/><rect x="239.68" width="18.97" height="5.44" fill="#39004e"/><rect x="258.35" width="12.75" height="5.44" fill="#3e005b"/><rect x="270.79" width="6.52" height="5.44" fill="#39004e"/><rect x="277.02" width="18.97" height="5.44" fill="#340041"/><rect x="295.69" width="6.52" height="5.44" fill="#2e0034"/><rect x="301.91" width="43.86" height="5.44" fill="#270026"/><rect x="345.48" width="6.52" height="5.44" fill="#2e0034"/><rect x="351.70" width="12.75" height="5.44" fill="#270026"/><rect x="364.15" width="6.52" height="5.44" fill="#2e0034"/><rect x="370.37" width="6.52" height="5.44" fill="#340041"/><rect x="376.59" width="6.52" height="5.44" fill="#15000b"/><rect x="382.82" width="6.52" height="5.44" fill="#200019"/><rect x="389.04" width="6.52" height="5.44" fill="#2e0034"/><rect x="395.26" width="6.52" height="5.44" fill="#39004e"/><rect x="401.49" width="6.52" height="5.44" fill="#460074"/><rect x="407.71" width="6.52" height="5.44" fill="#5600a7"/><rect x="413.93" width="6.52" height="5.44" fill="#5f01c4"/><rect x="420.16" width="6.52" height="5.44" fill="#6801dc"/><rect x="426.38" width="6.52" height="5.44" fill="#6d02e8"/><rect x="432.61" width="6.52" height="5.44" fill="#7402f6"/><rect x="438.83" width="6.52" height="5.44" fill="#7c03fe"/><rect x="445.05" width="6.52" height="5.44" fill="#7a03fd"/><rect x="451.28" width="12.75" height="5.44" fill="#7c03fe"/><rect x="463.72" width="31.42" height="5.44" fill="#7f04ff"/><rect x="494.84" width="12.75" height="5.44" fill="#7c03fe"/><rect x="507.29" width="17.51" height="5.44" fill="#7a03fd"/></g>
<g transform="translate(0 327.34)"><rect x="74.50" width="3.67" height="5.44" fill="#8104ff"/><rect x="77.87" width="31.42" height="5.44" fill="#8505fd"/><rect x="108.98" width="6.52" height="5.44" fill="#8305fe"/><rect x="115.21" width="6.52" height="5.44" fill="#8104ff"/><rect x="121.43" width="6.52" height="5.44" fill="#7e04ff"/><rect x="127.65" width="6.52" height="5.44" fill="#7c03fe"/><rect x="133.88" width="6.52" height="5.44" fill="#7b03fd"/><rect x="140.10" width="6.52" height="5.44" fill="#7903fc"/><rect x="146.32" width="6.52" height="5.44" fill="#7602f8"/><rect x="152.55" width="6.52" height="5.44" fill="#7202f2"/><rect x="158.77" width="6.52" height="5.44" fill="#6c01e6"/><rect x="164.99" width="6.52" height="5.44" fill="#6601d8"/><rect x="171.22" width="6.52" height="5.44" fill="#5900b1"/><rect x="177.44" width="6.52" height="5.44" fill="#4e008c"/><rect x="183.67" width="12.75" height="5.44" fill="#4a0080"/><rect x="196.11" width="6.52" height="5.44" fill="#5400a2"/><rect x="202.34" width="6.52" height="5.44" fill="#510097"/><rect x="208.56" width="6.52" height="5.44" fill="#420068"/><rect x="214.78" width="6.52" height="5.44" fill="#340041"/><rect x="221.01" width="6.52" height="5.44" fill="#4f0092"/><rect x="227.23" width="6.52" height="5.44" fill="#420068"/><rect x="233.45" width="6.52" height="5.44" fill="#3b0055"/><rect x="239.68" width="18.97" height="5.44" fill="#360048"/><rect x="258.35" width="12.75" height="5.44" fill="#340041"/><rect x="270.79" width="6.52" height="5.44" fill="#31003a"/><rect x="277.02" width="37.64" height="5.44" fill="#2e0034"/><rect x="314.36" width="12.75" height="5.44" fill="#2b002d"/><rect x="326.81" width="6.52" height="5.44" fill="#270026"/><rect x="333.03" width="18.97" height="5.44" fill="#24001f"/><rect x="351.70" width="6.52" height="5.44" fill="#270026"/><rect x="357.92" width="6.52" height="5.44" fill="#2b002d"/><rect x="364.15" width="6.52" height="5.44" fill="#2e0034"/><rect x="370.37" width="6.52" height="5.44" fill="#2d0032"/><rect x="376.59" width="6.52" height="5.44" fill="#1d0015"/><rect x="382.82" width="6.52" height="5.44" fill="#2a002b"/><rect x="389.04" width="6.52" height="5.44" fill="#360048"/><rect x="395.26" width="6.52" height="5.44" fill="#410066"/><rect x="401.49" width="6.52" height="5.44" fill="#4c0088"/><rect x="407.71" width="6.52" height="5.44" fill="#5700aa"/><rect x="413.93" width="6.52" height="5.44" fill="#5f01c2"/><rect x="420.16" width="6.52" height="5.44" fill="#6501d6"/><rect x="426.38" width="6.52" height="5.44" fill="#6b01e3"/><rect x="432.61" width="6.52" height="5.44" fill="#7002ef"/><rect x="438.83" width="6.52" height="5.44" fill="#7603f9"/><rect x="445.05" width="6.52" height="5.44" fill="#7703f9"/><rect x="451.28" width="6.52" height="5.44" fill="#7a03fc"/><rect x="457.50" width="6.52" height="5.44" fill="#7c03fe"/><rect x="463.72" width="12.75" height="5.44" fill="#8004ff"/><rect x="476.17" width="6.52" height="5.44" fill="#7f04ff"/><rect x="482.39" width="12.75" height="5.44" fill="#7e04ff"/><rect x="494.84" width="6.52" height="5.44" fill="#7c03fe"/><rect x="501.06" width="6.52" height="5.44" fill="#7b03fe"/><rect x="507.29" width="12.75" height="5.44" fill="#7a03fd"/><rect x="519.73" width="5.07" height="5.44" fill="#7d03fe"/></g>
<g transform="translate(0 332.49)"><rect x="74.50" width="3.67" height="5.44" fill="#7f04ff"/><rect x="77.87" width="6.52" height="5.44" fill="#8405fd"/><rect x="84.09" width="6.52" height="5.44" fill="#8305fe"/><rect x="90.31" width="6.52" height="5.44" fill="#8204ff"/><rect x="96.54" width="6.52" height="5.44" fill="#8104ff"/><rect x="102.76" width="6.52" height="5.44" fill="#8004ff"/><rect x="108.98" width="6.52" height="5.44" fill="#7e04ff"/><rect x="115.21" width="6.52" height="5.44" fill="#7c03fe"/><rect x="121.43" width="6.52" height="5.44" fill="#7b03fe"/><rect x="127.65" width="6.52" height="5.44" fill="#7a03fd"/><rect x="133.88" width="6.52" height="5.44" fill="#7903fc"/><rect x="140.10" width="6.52" height="5.44" fill="#7803fb"/><rect x="146.32" width="6.52" height="5.44" fill="#7602f8"/><rect x="152.55" width="6.52" height="5.44" fill="#7302f4"/><rect x="158.77" width="6.52" height="5.44" fill="#6c01e7"/><rect x="164.99" width="6.52" height="5.44" fill="#6a01e2"/><rect x="171.22" width="6.52" height="5.44" fill="#5e01c0"/><rect x="177.44" width="6.52" height="5.44" fill="#510097"/><rect x="183.67" width="12.75" height="5.44" fill="#4e008c"/><rect x="196.11" width="6.52" height="5.44" fill="#4f0092"/><rect x="202.34" width="6.52" height="5.44" fill="#4e008c"/><rect x="208.56" width="6.52" height="5.44" fill="#44006e"/><rect x="214.78" width="6.52" height="5.44" fill="#39004e"/><rect x="221.01" width="6.52" height="5.44" fill="#4a0080"/><rect x="227.23" width="6.52" height="5.44" fill="#420068"/><rect x="233.45" width="6.52" height="5.44" fill="#3b0055"/><rect x="239.68" width="6.52" height="5.44" fill="#39004e"/><rect x="245.90" width="12.75" height="5.44" fill="#360048"/><rect x="258.35" width="12.75" height="5.44" fill="#340041"/><rect x="270.79" width="6.52" height="5.44" fill="#31003a"/><rect x="277.02" width="37.64" height="5.44" fill="#2e0034"/><rect x="314.36" width="6.52" height="5.44" fill="#2b002d"/><rect x="320.58" width="6.52" height="5.44" fill="#270026"/><rect x="326.81" width="6.52" height="5.44" fill="#24001f"/><rect x="333.03" width="25.19" height="5.44" fill="#070001"/><rect x="357.92" width="6.52" height="5.44" fill="#270026"/><rect x="364.15" width="6.52" height="5.44" fill="#200019"/><rect x="370.37" width="6.52" height="5.44" fill="#260023"/><rect x="376.59" width="6.52" height="5.44" fill="#24001f"/><rect x="382.82" width="6.52" height="5.44" fill="#32003e"/><rect x="389.04" width="6.52" height="5.44" fill="#3e005b"/><rect x="395.26" width="6.52" height="5.44" fill="#48007c"/><rect x="401.49" width="6.52" height="5.44" fill="#52009a"/><rect x="407.71" width="6.52" height="5.44" fill="#5800ae"/><rect x="413.93" width="6.52" height="5.44" fill="#5e01c0"/><rect x="420.16" width="6.52" height="5.44" fill="#6301d0"/><rect x="426.38" width="6.52" height="5.44" fill="#6801dd"/><rect x="432.61" width="6.52" height="5.44" fill="#6c01e6"/><rect x="438.83" width="6.52" height="5.44" fill="#6f02ee"/><rect x="445.05" width="6.52" height="5.44" fill="#7302f4"/><rect x="451.28" width="6.52" height="5.44" fill="#7703f9"/><rect x="457.50" width="6.52" height="5.44" fill="#7c03fe"/><rect x="463.72" width="6.52" height="5.44" fill="#8204ff"/><rect x="469.95" width="6.52" height="5.44" fill="#8104ff"/><rect x="476.17" width="6.52" height="5.44" fill="#8004ff"/><rect x="482.39" width="6.52" height="5.44" fill="#7e04ff"/><rect x="488.62" width="6.52" height="5.44" fill="#7c03fe"/><rect x="494.84" width="6.52" height="5.44" fill="#7b03fe"/><rect x="501.06" width="18.97" height="5.44" fill="#7a03fd"/><rect x="519.73" width="5.07" height="5.44" fill="#7f04ff"/></g>
<g transform="translate(0 337.63)"><rect x="74.50" width="3.67" height="5.44" fill="#8004ff"/><rect x="77.87" width="6.52" height="5.44" fill="#8505fd"/><rect x="84.09" width="6.52" height="5.44" fill="#8405fd"/><rect x="90.31" width="6.52" height="5.44" fill="#8305fe"/><rect x="96.54" width="6.52" height="5.44" fill="#8204ff"/><rect x="102.76" width="6.52" height="5.44" fill="#8104ff"/><rect x="108.98" width="6.52" height="5.44" fill="#7f04ff"/><rect x="115.21" width="6.52" height="5.44" fill="#7c03fe"/><rect x="121.43" width="6.52" height="5.44" fill="#7b03fe"/><rect x="127.65" width="6.52" height="5.44" fill="#7a03fd"/><rect x="133.88" width="6.52" height="5.44" fill="#7903fc"/><rect x="140.10" width="6.52" height="5.44" fill="#7803fb"/><rect x="146.32" width="6.52" height="5.44" fill="#7602f8"/><rect x="152.55" width="6.52" height="5.44" fill="#7302f4"/><rect x="158.77" width="6.52" height="5.44" fill="#6d02e8"/><rect x="164.99" width="6.52" height="5.44" fill="#6f02ee"/><rect x="171.22" width="6.52" height="5.44" fill="#6401d1"/><rect x="177.44" width="6.52" height="5.44" fill="#5600a7"/><rect x="183.67" width="6.52" height="5.44" fill="#4f0092"/><rect x="189.89" width="12.75" height="5.44" fill="#4e008c"/><rect x="202.34" width="6.52" height="5.44" fill="#4a0080"/><rect x="208.56" width="6.52" height="5.44" fill="#44006e"/><rect x="214.78" width="6.52" height="5.44" fill="#3e005b"/><rect x="221.01" width="6.52" height="5.44" fill="#4f0092"/><rect x="227.23" width="6.52" height="5.44" fill="#460074"/><rect x="233.45" width="6.52" height="5.44" fill="#3e005b"/><rect x="239.68" width="12.75" height="5.44" fill="#39004e"/><rect x="252.12" width="6.52" height="5.44" fill="#3b0055"/><rect x="258.35" width="6.52" height="5.44" fill="#39004e"/><rect x="264.57" width="6.52" height="5.44" fill="#360048"/><rect x="270.79" width="6.52" height="5.44" fill="#340041"/><rect x="277.02" width="12.75" height="5.44" fill="#2e0034"/><rect x="289.46" width="6.52" height="5.44" fill="#2b002d"/><rect x="295.69" width="12.75" height="5.44" fill="#2e0034"/><rect x="308.14" width="12.75" height="5.44" fill="#2b002d"/><rect x="320.58" width="6.52" height="5.44" fill="#270026"/><rect x="326.81" width="6.52" height="5.44" fill="#24001f"/><rect x="333.03" width="37.64" height="5.44" fill="#070001"/><rect x="370.37" width="6.52" height="5.44" fill="#200019"/><rect x="376.59" width="6.52" height="5.44" fill="#15000b"/><rect x="382.82" width="6.52" height="5.44" fill="#2c0030"/><rect x="389.04" width="6.52" height="5.44" fill="#3b0055"/><rect x="395.26" width="6.52" height="5.44" fill="#460074"/><rect x="401.49" width="6.52" height="5.44" fill="#4f0092"/><rect x="407.71" width="6.52" height="5.44" fill="#5600a7"/><rect x="413.93" width="6.52" height="5.44" fill="#5c01bb"/><rect x="420.16" width="6.52" height="5.44" fill="#6101ca"/><rect x="426.38" width="6.52" height="5.44" fill="#6601d8"/><rect x="432.61" width="6.52" height="5.44" fill="#6a01e2"/><rect x="438.83" width="6.52" height="5.44" fill="#6e02eb"/><rect x="445.05" width="6.52" height="5.44" fill="#7202f2"/><rect x="451.28" width="6.52" height="5.44" fill="#7602f8"/><rect x="457.50" width="6.52" height="5.44" fill="#7a03fd"/><rect x="463.72" width="18.97" height="5.44" fill="#7f04ff"/><rect x="482.39" width="6.52" height="5.44" fill="#7e04ff"/><rect x="488.62" width="6.52" height="5.44" fill="#7c03fe"/><rect x="494.84" width="6.52" height="5.44" fill="#7b03fe"/><rect x="501.06" width="18.97" height="5.44" fill="#7a03fd"/><rect x="519.73" width="5.07" height="5.44" fill="#8004ff"/></g>
<g transform="translate(0 342.77)"><rect x="74.50" width="3.67" height="5.44" fill="#8004ff"/><rect x="77.87" width="6.52" height="5.44" fill="#8605fb"/><rect x="84.09" width="6.52" height="5.44" fill="#8505fd"/><rect x="90.31" width="6.52" height="5.44" fill="#8405fd"/><rect x="96.54" width="6.52" height="5.44" fill="#8205fe"/><rect x="102.76" width="6.52" height="5.44" fill="#8104ff"/><rect x="108.98" width="6.52" height="5.44" fill="#7f04ff"/><rect x="115.21" width="6.52" height="5.44" fill="#7c03fe"/><rect x="121.43" width="6.52" height="5.44" fill="#7b03fe"/><rect x="127.65" width="6.52" height="5.44" fill="#7a03fd"/><rect x="133.88" width="6.52" height="5.44" fill="#7903fc"/><rect x="140.10" width="6.52" height="5.44" fill="#7803fb"/><rect x="146.32" width="6.52" height="5.44" fill="#7602f8"/><rect x="152.55" width="6.52" height="5.44" fill="#7302f4"/><rect x="158.77" width="6.52" height="5.44" fill="#6e02ea"/><rect x="164.99" width="6.52" height="5.44" fill="#7202f2"/><rect x="171.22" width="6.52" height="5.44" fill="#6601d8"/><rect x="177.44" width="6.52" height="5.44" fill="#5b01b6"/><rect x="183.67" width="6.52" height="5.44" fill="#5400a2"/><rect x="189.89" width="6.52" height="5.44" fill="#510097"/><rect x="196.11" width="6.52" height="5.44" fill="#4e008c"/><rect x="202.34" width="6.52" height="5.44" fill="#4a0080"/><rect x="208.56" width="6.52" height="5.44" fill="#460074"/><rect x="214.78" width="6.52" height="5.44" fill="#400062"/><rect x="221.01" width="6.52" height="5.44" fill="#4f0092"/><rect x="227.23" width="6.52" height="5.44" fill="#48007a"/><rect x="233.45" width="6.52" height="5.44" fill="#400062"/><rect x="239.68" width="6.52" height="5.44" fill="#3b0055"/><rect x="245.90" width="6.52" height="5.44" fill="#39004e"/><rect x="252.12" width="12.75" height="5.44" fill="#3b0055"/><rect x="264.57" width="6.52" height="5.44" fill="#360048"/><rect x="270.79" width="6.52" height="5.44" fill="#340041"/><rect x="277.02" width="6.52" height="5.44" fill="#2e0034"/><rect x="283.24" width="31.42" height="5.44" fill="#2b002d"/><rect x="314.36" width="12.75" height="5.44" fill="#270026"/><rect x="326.81" width="6.52" height="5.44" fill="#24001f"/><rect x="333.03" width="37.64" height="5.44" fill="#070001"/><rect x="370.37" width="6.52" height="5.44" fill="#250021"/><rect x="376.59" width="6.52" height="5.44" fill="#1d0015"/><rect x="382.82" width="6.52" height="5.44" fill="#2e0034"/><rect x="389.04" width="6.52" height="5.44" fill="#3a0052"/><rect x="395.26" width="6.52" height="5.44" fill="#440070"/><rect x="401.49" width="6.52" height="5.44" fill="#4e008c"/><rect x="407.71" width="6.52" height="5.44" fill="#5400a1"/><rect x="413.93" width="6.52" height="5.44" fill="#5a00b4"/><rect x="420.16" width="6.52" height="5.44" fill="#6001c5"/><rect x="426.38" width="6.52" height="5.44" fill="#6501d4"/><rect x="432.61" width="6.52" height="5.44" fill="#6901df"/><rect x="438.83" width="6.52" height="5.44" fill="#6d02e8"/><rect x="445.05" width="6.52" height="5.44" fill="#7102f0"/><rect x="451.28" width="6.52" height="5.44" fill="#7402f6"/><rect x="457.50" width="6.52" height="5.44" fill="#7803fb"/><rect x="463.72" width="6.52" height="5.44" fill="#7b03fe"/><rect x="469.95" width="18.97" height="5.44" fill="#7c03fe"/><rect x="488.62" width="6.52" height="5.44" fill="#7b03fe"/><rect x="494.84" width="6.52" height="5.44" fill="#7b03fd"/><rect x="501.06" width="18.97" height="5.44" fill="#7a03fd"/><rect x="519.73" width="5.07" height="5.44" fill="#8004ff"/></g>
<g transform="translate(0 347.91)"><rect x="74.50" width="3.67" height="5.44" fill="#8104ff"/><rect x="77.87" width="6.52" height="5.44" fill="#8706fa"/><rect x="84.09" width="6.52" height="5.44" fill="#8605fb"/><rect x="90.31" width="6.52" height="5.44" fill="#8505fd"/><rect x="96.54" width="6.52" height="5.44" fill="#8305fe"/><rect x="102.76" width="6.52" height="5.44" fill="#8104ff"/><rect x="108.98" width="6.52" height="5.44" fill="#7f04ff"/><rect x="115.21" width="6.52" height="5.44" fill="#7c03fe"/><rect x="121.43" width="6.52" height="5.44" fill="#7b03fe"/><rect x="127.65" width="6.52" height="5.44" fill="#7a03fd"/><rect x="133.88" width="6.52" height="5.44" fill="#7903fc"/><rect x="140.10" width="6.52" height="5.44" fill="#7803fb"/><rect x="146.32" width="6.52" height="5.44" fill="#7602f8"/><rect x="152.55" width="6.52" height="5.44" fill="#7302f4"/><rect x="158.77" width="6.52" height="5.44" fill="#6e02eb"/><rect x="164.99" width="6.52" height="5.44" fill="#7302f4"/><rect x="171.22" width="6.52" height="5.44" fill="#6901df"/><rect x="177.44" width="6.52" height="5.44" fill="#5e01c0"/><rect x="183.67" width="6.52" height="5.44" fill="#5600a7"/><rect x="189.89" width="6.52" height="5.44" fill="#53009d"/><rect x="196.11" width="6.52" height="5.44" fill="#4f0092"/><rect x="202.34" width="6.52" height="5.44" fill="#4c0086"/><rect x="208.56" width="6.52" height="5.44" fill="#4a0080"/><rect x="214.78" width="6.52" height="5.44" fill="#44006e"/><rect x="221.01" width="6.52" height="5.44" fill="#4e008c"/><rect x="227.23" width="6.52" height="5.44" fill="#48007a"/><rect x="233.45" width="6.52" height="5.44" fill="#420068"/><rect x="239.68" width="6.52" height="5.44" fill="#3e005b"/><rect x="245.90" width="18.97" height="5.44" fill="#39004e"/><rect x="264.57" width="6.52" height="5.44" fill="#360048"/><rect x="270.79" width="6.52" height="5.44" fill="#340041"/><rect x="277.02" width="6.52" height="5.44" fill="#2e0034"/><rect x="283.24" width="25.19" height="5.44" fill="#2b002d"/><rect x="308.14" width="12.75" height="5.44" fill="#270026"/><rect x="320.58" width="12.75" height="5.44" fill="#24001f"/><rect x="333.03" width="12.75" height="5.44" fill="#200019"/><rect x="345.48" width="18.97" height="5.44" fill="#070001"/><rect x="364.15" width="6.52" height="5.44" fill="#200019"/><rect x="370.37" width="6.52" height="5.44" fill="#29002a"/><rect x="376.59" width="6.52" height="5.44" fill="#24001f"/><rect x="382.82" width="6.52" height="5.44" fill="#2f0037"/><rect x="389.04" width="6.52" height="5.44" fill="#39004e"/><rect x="395.26" width="6.52" height="5.44" fill="#43006b"/><rect x="401.49" width="6.52" height="5.44" fill="#4c0086"/><rect x="407.71" width="6.52" height="5.44" fill="#52009a"/><rect x="413.93" width="6.52" height="5.44" fill="#5800ac"/><rect x="420.16" width="6.52" height="5.44" fill="#5e01c0"/><rect x="426.38" width="6.52" height="5.44" fill="#6401d1"/><rect x="432.61" width="6.52" height="5.44" fill="#6801dc"/><rect x="438.83" width="6.52" height="5.44" fill="#6c01e5"/><rect x="445.05" width="6.52" height="5.44" fill="#6f02ee"/><rect x="451.28" width="6.52" height="5.44" fill="#7302f4"/><rect x="457.50" width="6.52" height="5.44" fill="#7602f8"/><rect x="463.72" width="6.52" height="5.44" fill="#7803fb"/><rect x="469.95" width="6.52" height="5.44" fill="#7903fc"/><rect x="476.17" width="43.86" height="5.44" fill="#7a03fd"/><rect x="519.73" width="5.07" height="5.44" fill="#8104ff"/></g>
<g transform="translate(0 353.06)"><rect x="74.50" width="3.67" height="5.44" fill="#8104ff"/><rect x="77.87" width="6.52" height="5.44" fill="#8806f9"/><rect x="84.09" width="6.52" height="5.44" fill="#8706fb"/><rect x="90.31" width="6.52" height="5.44" fill="#8505fd"/><rect x="96.54" width="6.52" height="5.44" fill="#8305fe"/><rect x="102.76" width="6.52" height="5.44" fill="#8104ff"/><rect x="108.98" width="6.52" height="5.44" fill="#7f04ff"/><rect x="115.21" width="6.52" height="5.44" fill="#7c03fe"/><rect x="121.43" width="6.52" height="5.44" fill="#7b03fe"/><rect x="127.65" width="6.52" height="5.44" fill="#7a03fd"/><rect x="133.88" width="6.52" height="5.44" fill="#7803fb"/><rect x="140.10" width="6.52" height="5.44" fill="#7703f9"/><rect x="146.32" width="6.52" height="5.44" fill="#7402f6"/><rect x="152.55" width="6.52" height="5.44" fill="#7202f2"/><rect x="158.77" width="6.52" height="5.44" fill="#6e02ea"/><rect x="164.99" width="6.52" height="5.44" fill="#7302f4"/><rect x="171.22" width="6.52" height="5.44" fill="#6901df"/><rect x="177.44" width="6.52" height="5.44" fill="#5f01c4"/><rect x="183.67" width="6.52" height="5.44" fill="#5800ac"/><rect x="189.89" width="6.52" height="5.44" fill="#5400a2"/><rect x="196.11" width="6.52" height="5.44" fill="#510097"/><rect x="202.34" width="6.52" height="5.44" fill="#4e008c"/><rect x="208.56" width="6.52" height="5.44" fill="#4a0080"/><rect x="214.78" width="6.52" height="5.44" fill="#460074"/><rect x="221.01" width="6.52" height="5.44" fill="#4c0086"/><rect x="227.23" width="6.52" height="5.44" fill="#48007a"/><rect x="233.45" width="6.52" height="5.44" fill="#44006e"/><rect x="239.68" width="6.52" height="5.44" fill="#3e005b"/><rect x="245.90" width="6.52" height="5.44" fill="#39004e"/><rect x="252.12" width="12.75" height="5.44" fill="#360048"/><rect x="264.57" width="6.52" height="5.44" fill="#340041"/><rect x="270.79" width="6.52" height="5.44" fill="#31003a"/><rect x="277.02" width="6.52" height="5.44" fill="#2e0034"/><rect x="283.24" width="6.52" height="5.44" fill="#2b002d"/><rect x="289.46" width="6.52" height="5.44" fill="#270026"/><rect x="295.69" width="12.75" height="5.44" fill="#2b002d"/><rect x="308.14" width="12.75" height="5.44" fill="#270026"/><rect x="320.58" width="37.64" height="5.44" fill="#24001f"/><rect x="357.92" width="6.52" height="5.44" fill="#200019"/><rect x="364.15" width="6.52" height="5.44" fill="#270026"/><rect x="370.37" width="6.52" height="5.44" fill="#2b002d"/><rect x="376.59" width="6.52" height="5.44" fill="#270026"/><rect x="382.82" width="6.52" height="5.44" fill="#31003a"/><rect x="389.04" width="6.52" height="5.44" fill="#39004e"/><rect x="395.26" width="6.52" height="5.44" fill="#420068"/><rect x="401.49" width="6.52" height="5.44" fill="#4a0080"/><rect x="407.71" width="6.52" height="5.44" fill="#500094"/><rect x="413.93" width="6.52" height="5.44" fill="#5600a7"/><rect x="420.16" width="6.52" height="5.44" fill="#5c01ba"/><rect x="426.38" width="6.52" height="5.44" fill="#6101ca"/><rect x="432.61" width="6.52" height="5.44" fill="#6601d7"/><rect x="438.83" width="6.52" height="5.44" fill="#6a01e2"/><rect x="445.05" width="6.52" height="5.44" fill="#6e02eb"/><rect x="451.28" width="6.52" height="5.44" fill="#7202f2"/><rect x="457.50" width="6.52" height="5.44" fill="#7402f6"/><rect x="463.72" width="6.52" height="5.44" fill="#7703f9"/><rect x="469.95" width="6.52" height="5.44" fill="#7803fb"/><rect x="476.17" width="12.75" height="5.44" fill="#7903fc"/><rect x="488.62" width="6.52" height="5.44" fill="#7a03fc"/><rect x="494.84" width="25.19" height="5.44" fill="#7a03fd"/><rect x="519.73" width="5.07" height="5.44" fill="#8104ff"/></g>
<g transform="translate(0 358.20)"><rect x="74.50" width="3.67" height="5.44" fill="#8204ff"/><rect x="77.87" width="6.52" height="5.44" fill="#8906f7"/><rect x="84.09" width="6.52" height="5.44" fill="#8706fa"/><rect x="90.31" width="6.52" height="5.44" fill="#8505fd"/><rect x="96.54" width="6.52" height="5.44" fill="#8305fe"/><rect x="102.76" width="6.52" height="5.44" fill="#8104ff"/><rect x="108.98" width="6.52" height="5.44" fill="#7f04ff"/><rect x="115.21" width="6.52" height="5.44" fill="#7c03fe"/><rect x="121.43" width="6.52" height="5.44" fill="#7b03fe"/><rect x="127.65" width="6.52" height="5.44" fill="#7a03fd"/><rect x="133.88" width="6.52" height="5.44" fill="#7803fb"/><rect x="140.10" width="6.52" height="5.44" fill="#7602f8"/><rect x="146.32" width="6.52" height="5.44" fill="#7302f4"/><rect x="152.55" width="6.52" height="5.44" fill="#7102f0"/><rect x="158.77" width="6.52" height="5.44" fill="#6d02e8"/><rect x="164.99" width="6.52" height="5.44" fill="#6e02ea"/><rect x="171.22" width="6.52" height="5.44" fill="#6501d3"/><rect x="177.44" width="6.52" height="5.44" fill="#5c01b9"/><rect x="183.67" width="6.52" height="5.44" fill="#5500a5"/><rect x="189.89" width="6.52" height="5.44" fill="#510097"/><rect x="196.11" width="6.52" height="5.44" fill="#4e008c"/><rect x="202.34" width="6.52" height="5.44" fill="#4a0080"/><rect x="208.56" width="6.52" height="5.44" fill="#470079"/><rect x="214.78" width="6.52" height="5.44" fill="#450071"/><rect x="221.01" width="6.52" height="5.44" fill="#510097"/><rect x="227.23" width="6.52" height="5.44" fill="#48007a"/><rect x="233.45" width="6.52" height="5.44" fill="#44006e"/><rect x="239.68" width="6.52" height="5.44" fill="#3e005b"/><rect x="245.90" width="6.52" height="5.44" fill="#39004e"/><rect x="252.12" width="12.75" height="5.44" fill="#360048"/><rect x="264.57" width="6.52" height="5.44" fill="#340041"/><rect x="270.79" width="6.52" height="5.44" fill="#31003a"/><rect x="277.02" width="6.52" height="5.44" fill="#2e0034"/><rect x="283.24" width="6.52" height="5.44" fill="#270026"/><rect x="289.46" width="6.52" height="5.44" fill="#24001f"/><rect x="295.69" width="18.97" height="5.44" fill="#270026"/><rect x="314.36" width="6.52" height="5.44" fill="#24001f"/><rect x="320.58" width="6.52" height="5.44" fill="#200019"/><rect x="326.81" width="6.52" height="5.44" fill="#070001"/><rect x="333.03" width="6.52" height="5.44" fill="#200019"/><rect x="339.25" width="12.75" height="5.44" fill="#070001"/><rect x="351.70" width="6.52" height="5.44" fill="#24001f"/><rect x="357.92" width="6.52" height="5.44" fill="#270026"/><rect x="364.15" width="6.52" height="5.44" fill="#2b002d"/><rect x="370.37" width="6.52" height="5.44" fill="#2c0030"/><rect x="376.59" width="6.52" height="5.44" fill="#2b002d"/><rect x="382.82" width="6.52" height="5.44" fill="#32003e"/><rect x="389.04" width="6.52" height="5.44" fill="#39004e"/><rect x="395.26" width="6.52" height="5.44" fill="#410065"/><rect x="401.49" width="6.52" height="5.44" fill="#48007a"/><rect x="407.71" width="6.52" height="5.44" fill="#4e008f"/><rect x="413.93" width="6.52" height="5.44" fill="#5400a2"/><rect x="420.16" width="6.52" height="5.44" fill="#5a00b4"/><rect x="426.38" width="6.52" height="5.44" fill="#5f01c4"/><rect x="432.61" width="6.52" height="5.44" fill="#6401d2"/><rect x="438.83" width="6.52" height="5.44" fill="#6901df"/><rect x="445.05" width="6.52" height="5.44" fill="#6d02e8"/><rect x="451.28" width="6.52" height="5.44" fill="#7102f0"/><rect x="457.50" width="6.52" height="5.44" fill="#7302f4"/><rect x="463.72" width="6.52" height="5.44" fill="#7602f8"/><rect x="469.95" width="6.52" height="5.44" fill="#7703f9"/><rect x="476.17" width="12.75" height="5.44" fill="#7803fb"/><rect x="488.62" width="6.52" height="5.44" fill="#7903fc"/><rect x="494.84" width="6.52" height="5.44" fill="#7a03fc"/><rect x="501.06" width="18.97" height="5.44" fill="#7a03fd"/><rect x="519.73" width="5.07" height="5.44" fill="#8204ff"/></g>
<g transform="translate(0 363.34)"><rect x="74.50" width="3.67" height="5.44" fill="#8205fe"/><rect x="77.87" width="6.52" height="5.44" fill="#8a06f5"/><rect x="84.09" width="6.52" height="5.44" fill="#8806f9"/><rect x="90.31" width="6.52" height="5.44" fill="#8605fb"/><rect x="96.54" width="6.52" height="5.44" fill="#8305fe"/><rect x="102.76" width="6.52" height="5.44" fill="#8104ff"/><rect x="108.98" width="6.52" height="5.44" fill="#7f04ff"/><rect x="115.21" width="6.52" height="5.44" fill="#7c03fe"/><rect x="121.43" width="6.52" height="5.44" fill="#7b03fd"/><rect x="127.65" width="6.52" height="5.44" fill="#7903fc"/><rect x="133.88" width="6.52" height="5.44" fill="#7703f9"/><rect x="140.10" width="6.52" height="5.44" fill="#7402f6"/><rect x="146.32" width="6.52" height="5.44" fill="#7202f2"/><rect x="152.55" width="6.52" height="5.44" fill="#6f02ee"/><rect x="158.77" width="6.52" height="5.44" fill="#6c01e5"/><rect x="164.99" width="6.52" height="5.44" fill="#6801dc"/><rect x="171.22" width="6.52" height="5.44" fill="#6001c6"/><rect x="177.44" width="6.52" height="5.44" fill="#5800ac"/><rect x="183.67" width="6.52" height="5.44" fill="#53009d"/><rect x="189.89" width="6.52" height="5.44" fill="#4e008c"/><rect x="196.11" width="6.52" height="5.44" fill="#4a0080"/><rect x="202.34" width="6.52" height="5.44" fill="#460074"/><rect x="208.56" width="6.52" height="5.44" fill="#450071"/><rect x="214.78" width="6.52" height="5.44" fill="#44006e"/><rect x="221.01" width="6.52" height="5.44" fill="#4a0080"/><rect x="227.23" width="6.52" height="5.44" fill="#460074"/><rect x="233.45" width="6.52" height="5.44" fill="#44006e"/><rect x="239.68" width="6.52" height="5.44" fill="#400062"/><rect x="245.90" width="6.52" height="5.44" fill="#39004e"/><rect x="252.12" width="12.75" height="5.44" fill="#360048"/><rect x="264.57" width="6.52" height="5.44" fill="#340041"/><rect x="270.79" width="6.52" height="5.44" fill="#31003a"/><rect x="277.02" width="6.52" height="5.44" fill="#2e0034"/><rect x="283.24" width="6.52" height="5.44" fill="#270026"/><rect x="289.46" width="6.52" height="5.44" fill="#070001"/><rect x="295.69" width="18.97" height="5.44" fill="#270026"/><rect x="314.36" width="6.52" height="5.44" fill="#24001f"/><rect x="320.58" width="12.75" height="5.44" fill="#070001"/><rect x="333.03" width="6.52" height="5.44" fill="#200019"/><rect x="339.25" width="12.75" height="5.44" fill="#070001"/><rect x="351.70" width="6.52" height="5.44" fill="#270026"/><rect x="357.92" width="6.52" height="5.44" fill="#2e0034"/><rect x="364.15" width="6.52" height="5.44" fill="#31003a"/><rect x="370.37" width="6.52" height="5.44" fill="#2f0035"/><rect x="376.59" width="6.52" height="5.44" fill="#2c0030"/><rect x="382.82" width="6.52" height="5.44" fill="#33003f"/><rect x="389.04" width="6.52" height="5.44" fill="#39004e"/><rect x="395.26" width="6.52" height="5.44" fill="#400063"/><rect x="401.49" width="6.52" height="5.44" fill="#470077"/><rect x="407.71" width="6.52" height="5.44" fill="#4d0089"/><rect x="413.93" width="6.52" height="5.44" fill="#52009a"/><rect x="420.16" width="6.52" height="5.44" fill="#5800ac"/><rect x="426.38" width="6.52" height="5.44" fill="#5d01bd"/><rect x="432.61" width="6.52" height="5.44" fill="#6201cd"/><rect x="438.83" width="6.52" height="5.44" fill="#6701da"/><rect x="445.05" width="6.52" height="5.44" fill="#6b01e4"/><rect x="451.28" width="6.52" height="5.44" fill="#6f02ec"/><rect x="457.50" width="6.52" height="5.44" fill="#7202f2"/><rect x="463.72" width="6.52" height="5.44" fill="#7402f6"/><rect x="469.95" width="6.52" height="5.44" fill="#7602f8"/><rect x="476.17" width="6.52" height="5.44" fill="#7703f9"/><rect x="482.39" width="6.52" height="5.44" fill="#7803fa"/><rect x="488.62" width="6.52" height="5.44" fill="#7803fb"/><rect x="494.84" width="6.52" height="5.44" fill="#7903fc"/><rect x="501.06" width="6.52" height="5.44" fill="#7a03fc"/><rect x="507.29" width="12.75" height="5.44" fill="#7a03fd"/><rect x="519.73" width="5.07" height="5.44" fill="#8205fe"/></g>
<g transform="translate(0 368.48)"><rect x="74.50" width="3.67" height="5.44" fill="#8305fe"/><rect x="77.87" width="6.52" height="5.44" fill="#8b07f4"/><rect x="84.09" width="6.52" height="5.44" fill="#8906f7"/><rect x="90.31" width="6.52" height="5.44" fill="#8706fa"/><rect x="96.54" width="6.52" height="5.44" fill="#8405fd"/><rect x="102.76" width="6.52" height="5.44" fill="#8104ff"/><rect x="108.98" width="6.52" height="5.44" fill="#7f04ff"/><rect x="115.21" width="6.52" height="5.44" fill="#7c03fe"/><rect x="121.43" width="6.52" height="5.44" fill="#7a03fd"/><rect x="127.65" width="6.52" height="5.44" fill="#7803fb"/><rect x="133.88" width="6.52" height="5.44" fill="#7602f8"/><rect x="140.10" width="6.52" height="5.44" fill="#7302f4"/><rect x="146.32" width="6.52" height="5.44" fill="#7102f0"/><rect x="152.55" width="6.52" height="5.44" fill="#6e02eb"/><rect x="158.77" width="6.52" height="5.44" fill="#6a01e2"/><rect x="164.99" width="6.52" height="5.44" fill="#6601d8"/><rect x="171.22" width="6.52" height="5.44" fill="#5f01c4"/><rect x="177.44" width="6.52" height="5.44" fill="#5800ac"/><rect x="183.67" width="6.52" height="5.44" fill="#53009d"/><rect x="189.89" width="6.52" height="5.44" fill="#4e008c"/><rect x="196.11" width="6.52" height="5.44" fill="#4a0080"/><rect x="202.34" width="6.52" height="5.44" fill="#460074"/><rect x="208.56" width="6.52" height="5.44" fill="#44006e"/><rect x="214.78" width="6.52" height="5.44" fill="#420068"/><rect x="221.01" width="6.52" height="5.44" fill="#48007a"/><rect x="227.23" width="6.52" height="5.44" fill="#460074"/><rect x="233.45" width="6.52" height="5.44" fill="#44006e"/><rect x="239.68" width="6.52" height="5.44" fill="#400062"/><rect x="245.90" width="6.52" height="5.44" fill="#3b0055"/><rect x="252.12" width="6.52" height="5.44" fill="#39004e"/><rect x="258.35" width="6.52" height="5.44" fill="#360048"/><rect x="264.57" width="6.52" height="5.44" fill="#340041"/><rect x="270.79" width="6.52" height="5.44" fill="#31003a"/><rect x="277.02" width="6.52" height="5.44" fill="#2e0034"/><rect x="283.24" width="6.52" height="5.44" fill="#270026"/><rect x="289.46" width="18.97" height="5.44" fill="#070001"/><rect x="308.14" width="25.19" height="5.44" fill="#270026"/><rect x="333.03" width="12.75" height="5.44" fill="#070001"/><rect x="345.48" width="6.52" height="5.44" fill="#270026"/><rect x="351.70" width="6.52" height="5.44" fill="#2b002d"/><rect x="357.92" width="6.52" height="5.44" fill="#31003a"/><rect x="364.15" width="6.52" height="5.44" fill="#340041"/><rect x="370.37" width="6.52" height="5.44" fill="#31003a"/><rect x="376.59" width="6.52" height="5.44" fill="#2e0034"/><rect x="382.82" width="6.52" height="5.44" fill="#340041"/><rect x="389.04" width="6.52" height="5.44" fill="#39004e"/><rect x="395.26" width="6.52" height="5.44" fill="#400062"/><rect x="401.49" width="6.52" height="5.44" fill="#460074"/><rect x="407.71" width="6.52" height="5.44" fill="#4b0083"/><rect x="413.93" width="6.52" height="5.44" fill="#4f0092"/><rect x="420.16" width="6.52" height="5.44" fill="#5500a5"/><rect x="426.38" width="6.52" height="5.44" fill="#5b01b6"/><rect x="432.61" width="6.52" height="5.44" fill="#6001c6"/><rect x="438.83" width="6.52" height="5.44" fill="#6501d4"/><rect x="445.05" width="6.52" height="5.44" fill="#6901df"/><rect x="451.28" width="6.52" height="5.44" fill="#6d02e8"/><rect x="457.50" width="6.52" height="5.44" fill="#7002ef"/><rect x="463.72" width="6.52" height="5.44" fill="#7302f4"/><rect x="469.95" width="6.52" height="5.44" fill="#7402f6"/><rect x="476.17" width="6.52" height="5.44" fill="#7602f8"/><rect x="482.39" width="6.52" height="5.44" fill="#7703f9"/><rect x="488.62" width="12.75" height="5.44" fill="#7803fb"/><rect x="501.06" width="6.52" height="5.44" fill="#7903fc"/><rect x="507.29" width="6.52" height="5.44" fill="#7a03fc"/><rect x="513.51" width="6.52" height="5.44" fill="#7a03fd"/><rect x="519.73" width="5.07" height="5.44" fill="#8305fe"/></g>
<g transform="translate(0 373.63)"><rect x="74.50" width="3.67" height="5.44" fill="#8305fe"/><rect x="77.87" width="6.52" height="5.44" fill="#8b07f4"/><rect x="84.09" width="6.52" height="5.44" fill="#8906f8"/><rect x="90.31" width="6.52" height="5.44" fill="#8605fb"/><rect x="96.54" width="6.52" height="5.44" fill="#8305fe"/><rect x="102.76" width="6.52" height="5.44" fill="#8004ff"/><rect x="108.98" width="6.52" height="5.44" fill="#7e04ff"/><rect x="115.21" width="6.52" height="5.44" fill="#7b03fe"/><rect x="121.43" width="6.52" height="5.44" fill="#7903fc"/><rect x="127.65" width="6.52" height="5.44" fill="#7703f9"/><rect x="133.88" width="6.52" height="5.44" fill="#7402f6"/><rect x="140.10" width="6.52" height="5.44" fill="#7202f2"/><rect x="146.32" width="6.52" height="5.44" fill="#6f02ee"/><rect x="152.55" width="6.52" height="5.44" fill="#6d02e8"/><rect x="158.77" width="6.52" height="5.44" fill="#6901df"/><rect x="164.99" width="6.52" height="5.44" fill="#6501d4"/><rect x="171.22" width="6.52" height="5.44" fill="#5e01c0"/><rect x="177.44" width="6.52" height="5.44" fill="#5600a7"/><rect x="183.67" width="6.52" height="5.44" fill="#52009a"/><rect x="189.89" width="6.52" height="5.44" fill="#4e008c"/><rect x="196.11" width="6.52" height="5.44" fill="#4a0080"/><rect x="202.34" width="6.52" height="5.44" fill="#460074"/><rect x="208.56" width="6.52" height="5.44" fill="#44006e"/><rect x="214.78" width="6.52" height="5.44" fill="#420068"/><rect x="221.01" width="6.52" height="5.44" fill="#460074"/><rect x="227.23" width="6.52" height="5.44" fill="#44006e"/><rect x="233.45" width="6.52" height="5.44" fill="#420068"/><rect x="239.68" width="6.52" height="5.44" fill="#3e005b"/><rect x="245.90" width="6.52" height="5.44" fill="#3b0055"/><rect x="252.12" width="6.52" height="5.44" fill="#39004e"/><rect x="258.35" width="6.52" height="5.44" fill="#360048"/><rect x="264.57" width="6.52" height="5.44" fill="#340041"/><rect x="270.79" width="6.52" height="5.44" fill="#31003a"/><rect x="277.02" width="6.52" height="5.44" fill="#2e0034"/><rect x="283.24" width="6.52" height="5.44" fill="#270026"/><rect x="289.46" width="25.19" height="5.44" fill="#070001"/><rect x="314.36" width="25.19" height="5.44" fill="#270026"/><rect x="339.25" width="6.52" height="5.44" fill="#2b002d"/><rect x="345.48" width="6.52" height="5.44" fill="#2e0034"/><rect x="351.70" width="6.52" height="5.44" fill="#31003a"/><rect x="357.92" width="6.52" height="5.44" fill="#340041"/><rect x="364.15" width="6.52" height="5.44" fill="#360048"/><rect x="370.37" width="6.52" height="5.44" fill="#31003a"/><rect x="376.59" width="6.52" height="5.44" fill="#2e0034"/><rect x="382.82" width="6.52" height="5.44" fill="#33003f"/><rect x="389.04" width="6.52" height="5.44" fill="#38004b"/><rect x="395.26" width="6.52" height="5.44" fill="#3e005d"/><rect x="401.49" width="6.52" height="5.44" fill="#44006e"/><rect x="407.71" width="6.52" height="5.44" fill="#460076"/><rect x="413.93" width="6.52" height="5.44" fill="#49007d"/><rect x="420.16" width="6.52" height="5.44" fill="#500093"/><rect x="426.38" width="6.52" height="5.44" fill="#5600a7"/><rect x="432.61" width="6.52" height="5.44" fill="#5c01ba"/><rect x="438.83" width="6.52" height="5.44" fill="#6101ca"/><rect x="445.05" width="6.52" height="5.44" fill="#6601d7"/><rect x="451.28" width="6.52" height="5.44" fill="#6a01e2"/><rect x="457.50" width="6.52" height="5.44" fill="#6e02ea"/><rect x="463.72" width="6.52" height="5.44" fill="#7102f0"/><rect x="469.95" width="6.52" height="5.44" fill="#7302f3"/><rect x="476.17" width="6.52" height="5.44" fill="#7402f6"/><rect x="482.39" width="6.52" height="5.44" fill="#7602f8"/><rect x="488.62" width="6.52" height="5.44" fill="#7703f9"/><rect x="494.84" width="6.52" height="5.44" fill="#7803fa"/><rect x="501.06" width="6.52" height="5.44" fill="#7803fb"/><rect x="507.29" width="6.52" height="5.44" fill="#7903fc"/><rect x="513.51" width="6.52" height="5.44" fill="#7a03fc"/><rect x="519.73" width="5.07" height="5.44" fill="#8305fe"/></g>
<g transform="translate(0 378.77)"><rect x="74.50" width="3.67" height="5.44" fill="#8205fe"/><rect x="77.87" width="6.52" height="5.44" fill="#8b07f4"/><rect x="84.09" width="6.52" height="5.44" fill="#8806f9"/><rect x="90.31" width="6.52" height="5.44" fill="#8505fd"/><rect x="96.54" width="6.52" height="5.44" fill="#8204ff"/><rect x="102.76" width="6.52" height="5.44" fill="#7f04ff"/><rect x="108.98" width="6.52" height="5.44" fill="#7c03fe"/><rect x="115.21" width="6.52" height="5.44" fill="#7a03fd"/><rect x="121.43" width="6.52" height="5.44" fill="#7803fb"/><rect x="127.65" width="6.52" height="5.44" fill="#7602f8"/><rect x="133.88" width="6.52" height="5.44" fill="#7302f4"/><rect x="140.10" width="6.52" height="5.44" fill="#7102f0"/><rect x="146.32" width="6.52" height="5.44" fill="#6e02eb"/><rect x="152.55" width="6.52" height="5.44" fill="#6c01e5"/><rect x="158.77" width="6.52" height="5.44" fill="#6801dc"/><rect x="164.99" width="6.52" height="5.44" fill="#6401d1"/><rect x="171.22" width="6.52" height="5.44" fill="#5c01bb"/><rect x="177.44" width="6.52" height="5.44" fill="#5400a2"/><rect x="183.67" width="6.52" height="5.44" fill="#510097"/><rect x="189.89" width="6.52" height="5.44" fill="#4e008c"/><rect x="196.11" width="6.52" height="5.44" fill="#4a0080"/><rect x="202.34" width="6.52" height="5.44" fill="#460074"/><rect x="208.56" width="6.52" height="5.44" fill="#44006e"/><rect x="214.78" width="6.52" height="5.44" fill="#420068"/><rect x="221.01" width="6.52" height="5.44" fill="#460074"/><rect x="227.23" width="6.52" height="5.44" fill="#44006e"/><rect x="233.45" width="6.52" height="5.44" fill="#420068"/><rect x="239.68" width="6.52" height="5.44" fill="#3e005b"/><rect x="245.90" width="6.52" height="5.44" fill="#3b0055"/><rect x="252.12" width="6.52" height="5.44" fill="#39004e"/><rect x="258.35" width="12.75" height="5.44" fill="#360048"/><rect x="270.79" width="6.52" height="5.44" fill="#340041"/><rect x="277.02" width="6.52" height="5.44" fill="#31003a"/><rect x="283.24" width="6.52" height="5.44" fill="#2e0034"/><rect x="289.46" width="6.52" height="5.44" fill="#270026"/><rect x="295.69" width="6.52" height="5.44" fill="#070001"/><rect x="301.91" width="6.52" height="5.44" fill="#200019"/><rect x="308.14" width="25.19" height="5.44" fill="#270026"/><rect x="333.03" width="6.52" height="5.44" fill="#2b002d"/><rect x="339.25" width="6.52" height="5.44" fill="#2e0034"/><rect x="345.48" width="12.75" height="5.44" fill="#360048"/><rect x="357.92" width="6.52" height="5.44" fill="#39004e"/><rect x="364.15" width="6.52" height="5.44" fill="#340041"/><rect x="370.37" width="6.52" height="5.44" fill="#31003a"/><rect x="376.59" width="6.52" height="5.44" fill="#2e0034"/><rect x="382.82" width="6.52" height="5.44" fill="#32003e"/><rect x="389.04" width="6.52" height="5.44" fill="#360048"/><rect x="395.26" width="6.52" height="5.44" fill="#3c0058"/><rect x="401.49" width="18.97" height="5.44" fill="#420068"/><rect x="420.16" width="6.52" height="5.44" fill="#4a0080"/><rect x="426.38" width="6.52" height="5.44" fill="#510097"/><rect x="432.61" width="6.52" height="5.44" fill="#5800ac"/><rect x="438.83" width="6.52" height="5.44" fill="#5e01c0"/><rect x="445.05" width="6.52" height="5.44" fill="#6301cf"/><rect x="451.28" width="6.52" height="5.44" fill="#6801dc"/><rect x="457.50" width="6.52" height="5.44" fill="#6b01e4"/><rect x="463.72" width="6.52" height="5.44" fill="#6e02eb"/><rect x="469.95" width="6.52" height="5.44" fill="#7102f0"/><rect x="476.17" width="6.52" height="5.44" fill="#7302f4"/><rect x="482.39" width="6.52" height="5.44" fill="#7402f6"/><rect x="488.62" width="6.52" height="5.44" fill="#7602f8"/><rect x="494.84" width="6.52" height="5.44" fill="#7703f9"/><rect x="501.06" width="12.75" height="5.44" fill="#7803fb"/><rect x="513.51" width="6.52" height="5.44" fill="#7903fc"/><rect x="519.73" width="5.07" height="5.44" fill="#8205fe"/></g>
<g transform="translate(0 383.91)"><rect x="74.50" width="3.67" height="5.44" fill="#7f04ff"/><rect x="77.87" width="6.52" height="5.44" fill="#8706fa"/><rect x="84.09" width="6.52" height="5.44" fill="#8505fd"/><rect x="90.31" width="6.52" height="5.44" fill="#8204ff"/><rect x="96.54" width="6.52" height="5.44" fill="#7f04ff"/><rect x="102.76" width="6.52" height="5.44" fill="#7c03fe"/><rect x="108.98" width="6.52" height="5.44" fill="#7a03fd"/><rect x="115.21" width="6.52" height="5.44" fill="#7803fb"/><rect x="121.43" width="6.52" height="5.44" fill="#7602f8"/><rect x="127.65" width="6.52" height="5.44" fill="#7302f4"/><rect x="133.88" width="6.52" height="5.44" fill="#7102f0"/><rect x="140.10" width="6.52" height="5.44" fill="#6e02eb"/><rect x="146.32" width="6.52" height="5.44" fill="#6c01e5"/><rect x="152.55" width="6.52" height="5.44" fill="#6901df"/><rect x="158.77" width="6.52" height="5.44" fill="#6601d6"/><rect x="164.99" width="6.52" height="5.44" fill="#6201cd"/><rect x="171.22" width="6.52" height="5.44" fill="#5c01b9"/><rect x="177.44" width="6.52" height="5.44" fill="#5400a2"/><rect x="183.67" width="6.52" height="5.44" fill="#510097"/><rect x="189.89" width="6.52" height="5.44" fill="#4e008c"/><rect x="196.11" width="6.52" height="5.44" fill="#4b0083"/><rect x="202.34" width="6.52" height="5.44" fill="#48007a"/><rect x="208.56" width="6.52" height="5.44" fill="#460074"/><rect x="214.78" width="6.52" height="5.44" fill="#44006e"/><rect x="221.01" width="6.52" height="5.44" fill="#48007a"/><rect x="227.23" width="6.52" height="5.44" fill="#460074"/><rect x="233.45" width="6.52" height="5.44" fill="#420068"/><rect x="239.68" width="6.52" height="5.44" fill="#3e005b"/><rect x="245.90" width="6.52" height="5.44" fill="#3b0055"/><rect x="252.12" width="12.75" height="5.44" fill="#39004e"/><rect x="264.57" width="6.52" height="5.44" fill="#360048"/><rect x="270.79" width="6.52" height="5.44" fill="#340041"/><rect x="277.02" width="6.52" height="5.44" fill="#31003a"/><rect x="283.24" width="6.52" height="5.44" fill="#2e0034"/><rect x="289.46" width="6.52" height="5.44" fill="#2b002d"/><rect x="295.69" width="6.52" height="5.44" fill="#200019"/><rect x="301.91" width="6.52" height="5.44" fill="#24001f"/><rect x="308.14" width="6.52" height="5.44" fill="#270026"/><rect x="314.36" width="12.75" height="5.44" fill="#2b002d"/><rect x="326.81" width="12.75" height="5.44" fill="#2e0034"/><rect x="339.25" width="6.52" height="5.44" fill="#31003a"/><rect x="345.48" width="6.52" height="5.44" fill="#3b0055"/><rect x="351.70" width="6.52" height="5.44" fill="#3e005b"/><rect x="357.92" width="6.52" height="5.44" fill="#340041"/><rect x="364.15" width="6.52" height="5.44" fill="#360048"/><rect x="370.37" width="6.52" height="5.44" fill="#340043"/><rect x="376.59" width="6.52" height="5.44" fill="#2c0030"/><rect x="382.82" width="6.52" height="5.44" fill="#31003a"/><rect x="389.04" width="6.52" height="5.44" fill="#350044"/><rect x="395.26" width="6.52" height="5.44" fill="#3c0056"/><rect x="401.49" width="6.52" height="5.44" fill="#420068"/><rect x="407.71" width="6.52" height="5.44" fill="#43006b"/><rect x="413.93" width="6.52" height="5.44" fill="#44006e"/><rect x="420.16" width="6.52" height="5.44" fill="#4b0083"/><rect x="426.38" width="6.52" height="5.44" fill="#510097"/><rect x="432.61" width="6.52" height="5.44" fill="#5700ab"/><rect x="438.83" width="6.52" height="5.44" fill="#5d01bd"/><rect x="445.05" width="6.52" height="5.44" fill="#6101ca"/><rect x="451.28" width="6.52" height="5.44" fill="#6601d6"/><rect x="457.50" width="6.52" height="5.44" fill="#6901de"/><rect x="463.72" width="6.52" height="5.44" fill="#6c01e5"/><rect x="469.95" width="6.52" height="5.44" fill="#6e02ea"/><rect x="476.17" width="6.52" height="5.44" fill="#7002ef"/><rect x="482.39" width="6.52" height="5.44" fill="#7202f2"/><rect x="488.62" width="6.52" height="5.44" fill="#7302f4"/><rect x="494.84" width="6.52" height="5.44" fill="#7402f6"/><rect x="501.06" width="6.52" height="5.44" fill="#7602f8"/><rect x="507.29" width="6.52" height="5.44" fill="#7603f9"/><rect x="513.51" width="6.52" height="5.44" fill="#7703fa"/><rect x="519.73" width="5.07" height="5.44" fill="#7f04ff"/></g>
<g transform="translate(0 389.05)"><rect x="74.50" width="3.67" height="5.44" fill="#7c03fe"/><rect x="77.87" width="6.52" height="5.44" fill="#8305fe"/><rect x="84.09" width="6.52" height="5.44" fill="#8104ff"/><rect x="90.31" width="6.52" height="5.44" fill="#7f04ff"/><rect x="96.54" width="6.52" height="5.44" fill="#7c03fe"/><rect x="102.76" width="6.52" height="5.44" fill="#7a03fd"/><rect x="108.98" width="6.52" height="5.44" fill="#7803fb"/><rect x="115.21" width="6.52" height="5.44" fill="#7602f8"/><rect x="121.43" width="6.52" height="5.44" fill="#7302f4"/><rect x="127.65" width="6.52" height="5.44" fill="#7102f0"/><rect x="133.88" width="6.52" height="5.44" fill="#6e02eb"/><rect x="140.10" width="6.52" height="5.44" fill="#6c01e5"/><rect x="146.32" width="6.52" height="5.44" fill="#6901df"/><rect x="152.55" width="6.52" height="5.44" fill="#6601d8"/><rect x="158.77" width="6.52" height="5.44" fill="#6401d1"/><rect x="164.99" width="6.52" height="5.44" fill="#6101c8"/><rect x="171.22" width="6.52" height="5.44" fill="#5b01b6"/><rect x="177.44" width="6.52" height="5.44" fill="#5400a2"/><rect x="183.67" width="6.52" height="5.44" fill="#510097"/><rect x="189.89" width="6.52" height="5.44" fill="#4e008c"/><rect x="196.11" width="6.52" height="5.44" fill="#4c0086"/><rect x="202.34" width="6.52" height="5.44" fill="#4a0080"/><rect x="208.56" width="6.52" height="5.44" fill="#48007a"/><rect x="214.78" width="6.52" height="5.44" fill="#460074"/><rect x="221.01" width="6.52" height="5.44" fill="#48007a"/><rect x="227.23" width="6.52" height="5.44" fill="#460074"/><rect x="233.45" width="6.52" height="5.44" fill="#420068"/><rect x="239.68" width="6.52" height="5.44" fill="#400062"/><rect x="245.90" width="6.52" height="5.44" fill="#3e005b"/><rect x="252.12" width="6.52" height="5.44" fill="#3b0055"/><rect x="258.35" width="12.75" height="5.44" fill="#39004e"/><rect x="270.79" width="6.52" height="5.44" fill="#360048"/><rect x="277.02" width="6.52" height="5.44" fill="#340041"/><rect x="283.24" width="6.52" height="5.44" fill="#31003a"/><rect x="289.46" width="6.52" height="5.44" fill="#2e0034"/><rect x="295.69" width="12.75" height="5.44" fill="#270026"/><rect x="308.14" width="6.52" height="5.44" fill="#2e0034"/><rect x="314.36" width="18.97" height="5.44" fill="#31003a"/><rect x="333.03" width="12.75" height="5.44" fill="#340041"/><rect x="345.48" width="12.75" height="5.44" fill="#400062"/><rect x="357.92" width="12.75" height="5.44" fill="#340041"/><rect x="370.37" width="6.52" height="5.44" fill="#38004b"/><rect x="376.59" width="6.52" height="5.44" fill="#2b002d"/><rect x="382.82" width="6.52" height="5.44" fill="#2f0037"/><rect x="389.04" width="6.52" height="5.44" fill="#340041"/><rect x="395.26" width="6.52" height="5.44" fill="#3b0055"/><rect x="401.49" width="6.52" height="5.44" fill="#420068"/><rect x="407.71" width="6.52" height="5.44" fill="#44006e"/><rect x="413.93" width="6.52" height="5.44" fill="#460074"/><rect x="420.16" width="6.52" height="5.44" fill="#4c0086"/><rect x="426.38" width="6.52" height="5.44" fill="#510097"/><rect x="432.61" width="6.52" height="5.44" fill="#5700aa"/><rect x="438.83" width="6.52" height="5.44" fill="#5c01bb"/><rect x="445.05" width="6.52" height="5.44" fill="#6001c6"/><rect x="451.28" width="6.52" height="5.44" fill="#6401d1"/><rect x="457.50" width="6.52" height="5.44" fill="#6601d8"/><rect x="463.72" width="6.52" height="5.44" fill="#6901df"/><rect x="469.95" width="6.52" height="5.44" fill="#6b01e4"/><rect x="476.17" width="6.52" height="5.44" fill="#6d02e8"/><rect x="482.39" width="6.52" height="5.44" fill="#6f02ec"/><rect x="488.62" width="6.52" height="5.44" fill="#7102f0"/><rect x="494.84" width="6.52" height="5.44" fill="#7202f2"/><rect x="501.06" width="6.52" height="5.44" fill="#7302f4"/><rect x="507.29" width="6.52" height="5.44" fill="#7402f6"/><rect x="513.51" width="6.52" height="5.44" fill="#7602f8"/><rect x="519.73" width="5.07" height="5.44" fill="#7c03fe"/></g>
<g transform="translate(0 394.20)"><rect x="74.50" width="3.67" height="5.44" fill="#7703f9"/><rect x="77.87" width="6.52" height="5.44" fill="#7c03fe"/><rect x="84.09" width="6.52" height="5.44" fill="#7b03fd"/><rect x="90.31" width="6.52" height="5.44" fill="#7903fc"/><rect x="96.54" width="6.52" height="5.44" fill="#7703fa"/><rect x="102.76" width="6.52" height="5.44" fill="#7602f8"/><rect x="108.98" width="6.52" height="5.44" fill="#7402f5"/><rect x="115.21" width="6.52" height="5.44" fill="#7202f2"/><rect x="121.43" width="6.52" height="5.44" fill="#6f02ee"/><rect x="127.65" width="6.52" height="5.44" fill="#6d02e8"/><rect x="133.88" width="6.52" height="5.44" fill="#6b01e4"/><rect x="140.10" width="6.52" height="5.44" fill="#6901df"/><rect x="146.32" width="6.52" height="5.44" fill="#6701da"/><rect x="152.55" width="6.52" height="5.44" fill="#6501d4"/><rect x="158.77" width="6.52" height="5.44" fill="#6201cd"/><rect x="164.99" width="6.52" height="5.44" fill="#5f01c4"/><rect x="171.22" width="6.52" height="5.44" fill="#5900b1"/><rect x="177.44" width="6.52" height="5.44" fill="#53009d"/><rect x="183.67" width="6.52" height="5.44" fill="#500094"/><rect x="189.89" width="6.52" height="5.44" fill="#4e008c"/><rect x="196.11" width="6.52" height="5.44" fill="#4c0086"/><rect x="202.34" width="6.52" height="5.44" fill="#4a0080"/><rect x="208.56" width="6.52" height="5.44" fill="#48007a"/><rect x="214.78" width="6.52" height="5.44" fill="#460074"/><rect x="221.01" width="6.52" height="5.44" fill="#48007a"/><rect x="227.23" width="6.52" height="5.44" fill="#460074"/><rect x="233.45" width="6.52" height="5.44" fill="#44006e"/><rect x="239.68" width="6.52" height="5.44" fill="#420068"/><rect x="245.90" width="6.52" height="5.44" fill="#400062"/><rect x="252.12" width="6.52" height="5.44" fill="#3e005b"/><rect x="258.35" width="12.75" height="5.44" fill="#3b0055"/><rect x="270.79" width="6.52" height="5.44" fill="#39004e"/><rect x="277.02" width="6.52" height="5.44" fill="#360048"/><rect x="283.24" width="6.52" height="5.44" fill="#340041"/><rect x="289.46" width="12.75" height="5.44" fill="#31003a"/><rect x="301.91" width="6.52" height="5.44" fill="#340041"/><rect x="308.14" width="6.52" height="5.44" fill="#360048"/><rect x="314.36" width="12.75" height="5.44" fill="#39004e"/><rect x="326.81" width="12.75" height="5.44" fill="#360048"/><rect x="339.25" width="6.52" height="5.44" fill="#39004e"/><rect x="345.48" width="6.52" height="5.44" fill="#420068"/><rect x="351.70" width="6.52" height="5.44" fill="#400062"/><rect x="357.92" width="6.52" height="5.44" fill="#3e005b"/><rect x="364.15" width="6.52" height="5.44" fill="#39004e"/><rect x="370.37" width="6.52" height="5.44" fill="#3c0056"/><rect x="376.59" width="6.52" height="5.44" fill="#2f0037"/><rect x="382.82" width="6.52" height="5.44" fill="#340041"/><rect x="389.04" width="6.52" height="5.44" fill="#38004b"/><rect x="395.26" width="6.52" height="5.44" fill="#3e005d"/><rect x="401.49" width="6.52" height="5.44" fill="#44006e"/><rect x="407.71" width="6.52" height="5.44" fill="#450071"/><rect x="413.93" width="6.52" height="5.44" fill="#460074"/><rect x="420.16" width="6.52" height="5.44" fill="#4b0085"/><rect x="426.38" width="6.52" height="5.44" fill="#500094"/><rect x="432.61" width="6.52" height="5.44" fill="#5600a9"/><rect x="438.83" width="6.52" height="5.44" fill="#5c01bb"/><rect x="445.05" width="6.52" height="5.44" fill="#6001c7"/><rect x="451.28" width="6.52" height="5.44" fill="#6401d2"/><rect x="457.50" width="6.52" height="5.44" fill="#6601d7"/><rect x="463.72" width="6.52" height="5.44" fill="#6801dc"/><rect x="469.95" width="6.52" height="5.44" fill="#6901de"/><rect x="476.17" width="6.52" height="5.44" fill="#6a01e1"/><rect x="482.39" width="6.52" height="5.44" fill="#6b01e4"/><rect x="488.62" width="6.52" height="5.44" fill="#6c01e7"/><rect x="494.84" width="6.52" height="5.44" fill="#6d02e9"/><rect x="501.06" width="6.52" height="5.44" fill="#6e02eb"/><rect x="507.29" width="6.52" height="5.44" fill="#6f02ee"/><rect x="513.51" width="6.52" height="5.44" fill="#7102f0"/><rect x="519.73" width="5.07" height="5.44" fill="#7703f9"/></g>
<g transform="translate(0 399.34)"><rect x="74.50" width="3.67" height="5.44" fill="#7102f0"/><rect x="77.87" width="6.52" height="5.44" fill="#7602f8"/><rect x="84.09" width="6.52" height="5.44" fill="#7402f6"/><rect x="90.31" width="6.52" height="5.44" fill="#7302f4"/><rect x="96.54" width="6.52" height="5.44" fill="#7202f2"/><rect x="102.76" width="6.52" height="5.44" fill="#7102f0"/><rect x="108.98" width="6.52" height="5.44" fill="#6f02ee"/><rect x="115.21" width="6.52" height="5.44" fill="#6e02eb"/><rect x="121.43" width="6.52" height="5.44" fill="#6c01e5"/><rect x="127.65" width="6.52" height="5.44" fill="#6901df"/><rect x="133.88" width="6.52" height="5.44" fill="#6801dc"/><rect x="140.10" width="6.52" height="5.44" fill="#6601d8"/><rect x="146.32" width="6.52" height="5.44" fill="#6501d4"/><rect x="152.55" width="6.52" height="5.44" fill="#6401d1"/><rect x="158.77" width="6.52" height="5.44" fill="#6101c8"/><rect x="164.99" width="6.52" height="5.44" fill="#5e01c0"/><rect x="171.22" width="6.52" height="5.44" fill="#5800ac"/><rect x="177.44" width="6.52" height="5.44" fill="#510097"/><rect x="183.67" width="6.52" height="5.44" fill="#4f0092"/><rect x="189.89" width="6.52" height="5.44" fill="#4e008c"/><rect x="196.11" width="6.52" height="5.44" fill="#4c0086"/><rect x="202.34" width="6.52" height="5.44" fill="#4a0080"/><rect x="208.56" width="6.52" height="5.44" fill="#48007a"/><rect x="214.78" width="6.52" height="5.44" fill="#460074"/><rect x="221.01" width="6.52" height="5.44" fill="#4a0080"/><rect x="227.23" width="6.52" height="5.44" fill="#48007a"/><rect x="233.45" width="6.52" height="5.44" fill="#460074"/><rect x="239.68" width="6.52" height="5.44" fill="#44006e"/><rect x="245.90" width="6.52" height="5.44" fill="#420068"/><rect x="252.12" width="12.75" height="5.44" fill="#400062"/><rect x="264.57" width="12.75" height="5.44" fill="#3e005b"/><rect x="277.02" width="6.52" height="5.44" fill="#3b0055"/><rect x="283.24" width="18.97" height="5.44" fill="#39004e"/><rect x="301.91" width="6.52" height="5.44" fill="#3b0055"/><rect x="308.14" width="18.97" height="5.44" fill="#3e005b"/><rect x="326.81" width="12.75" height="5.44" fill="#3b0055"/><rect x="339.25" width="6.52" height="5.44" fill="#3e005b"/><rect x="345.48" width="6.52" height="5.44" fill="#400062"/><rect x="351.70" width="12.75" height="5.44" fill="#420068"/><rect x="364.15" width="6.52" height="5.44" fill="#3e005b"/><rect x="370.37" width="6.52" height="5.44" fill="#400062"/><rect x="376.59" width="6.52" height="5.44" fill="#340041"/><rect x="382.82" width="6.52" height="5.44" fill="#38004b"/><rect x="389.04" width="6.52" height="5.44" fill="#3b0055"/><rect x="395.26" width="6.52" height="5.44" fill="#410065"/><rect x="401.49" width="18.97" height="5.44" fill="#460074"/><rect x="420.16" width="6.52" height="5.44" fill="#4b0083"/><rect x="426.38" width="6.52" height="5.44" fill="#4f0092"/><rect x="432.61" width="6.52" height="5.44" fill="#5600a7"/><rect x="438.83" width="6.52" height="5.44" fill="#5c01bb"/><rect x="445.05" width="6.52" height="5.44" fill="#6101c8"/><rect x="451.28" width="6.52" height="5.44" fill="#6501d4"/><rect x="457.50" width="6.52" height="5.44" fill="#6601d6"/><rect x="463.72" width="18.97" height="5.44" fill="#6601d8"/><rect x="482.39" width="6.52" height="5.44" fill="#6701da"/><rect x="488.62" width="6.52" height="5.44" fill="#6801dc"/><rect x="494.84" width="6.52" height="5.44" fill="#6801dd"/><rect x="501.06" width="6.52" height="5.44" fill="#6901df"/><rect x="507.29" width="6.52" height="5.44" fill="#6a01e2"/><rect x="513.51" width="6.52" height="5.44" fill="#6c01e5"/><rect x="519.73" width="5.07" height="5.44" fill="#7102f0"/></g>
<g transform="translate(0 404.48)"><rect x="74.50" width="3.67" height="5.44" fill="#6a01e2"/><rect x="77.87" width="6.52" height="5.44" fill="#6e02eb"/><rect x="84.09" width="6.52" height="5.44" fill="#6e02ea"/><rect x="90.31" width="6.52" height="5.44" fill="#6d02e8"/><rect x="96.54" width="6.52" height="5.44" fill="#6c01e7"/><rect x="102.76" width="6.52" height="5.44" fill="#6c01e5"/><rect x="108.98" width="6.52" height="5.44" fill="#6a01e2"/><rect x="115.21" width="6.52" height="5.44" fill="#6901df"/><rect x="121.43" width="6.52" height="5.44" fill="#6701da"/><rect x="127.65" width="6.52" height="5.44" fill="#6501d4"/><rect x="133.88" width="6.52" height="5.44" fill="#6401d1"/><rect x="140.10" width="6.52" height="5.44" fill="#6201cd"/><rect x="146.32" width="6.52" height="5.44" fill="#6101c8"/><rect x="152.55" width="6.52" height="5.44" fill="#5f01c4"/><rect x="158.77" width="6.52" height="5.44" fill="#5d01bd"/><rect x="164.99" width="6.52" height="5.44" fill="#5b01b6"/><rect x="171.22" width="6.52" height="5.44" fill="#5700aa"/><rect x="177.44" width="6.52" height="5.44" fill="#53009d"/><rect x="183.67" width="6.52" height="5.44" fill="#52009a"/><rect x="189.89" width="6.52" height="5.44" fill="#510097"/><rect x="196.11" width="6.52" height="5.44" fill="#4f0092"/><rect x="202.34" width="6.52" height="5.44" fill="#4e008c"/><rect x="208.56" width="6.52" height="5.44" fill="#4d0089"/><rect x="214.78" width="12.75" height="5.44" fill="#4c0086"/><rect x="227.23" width="6.52" height="5.44" fill="#4a0080"/><rect x="233.45" width="6.52" height="5.44" fill="#48007a"/><rect x="239.68" width="12.75" height="5.44" fill="#460074"/><rect x="252.12" width="12.75" height="5.44" fill="#44006e"/><rect x="264.57" width="18.97" height="5.44" fill="#420068"/><rect x="283.24" width="18.97" height="5.44" fill="#400062"/><rect x="301.91" width="6.52" height="5.44" fill="#420068"/><rect x="308.14" width="18.97" height="5.44" fill="#44006e"/><rect x="326.81" width="25.19" height="5.44" fill="#420068"/><rect x="351.70" width="12.75" height="5.44" fill="#44006e"/><rect x="364.15" width="6.52" height="5.44" fill="#400062"/><rect x="370.37" width="6.52" height="5.44" fill="#420069"/><rect x="376.59" width="6.52" height="5.44" fill="#3a0052"/><rect x="382.82" width="6.52" height="5.44" fill="#3e005b"/><rect x="389.04" width="6.52" height="5.44" fill="#410065"/><rect x="395.26" width="6.52" height="5.44" fill="#44006e"/><rect x="401.49" width="6.52" height="5.44" fill="#470077"/><rect x="407.71" width="6.52" height="5.44" fill="#450071"/><rect x="413.93" width="6.52" height="5.44" fill="#43006b"/><rect x="420.16" width="6.52" height="5.44" fill="#460074"/><rect x="426.38" width="6.52" height="5.44" fill="#49007d"/><rect x="432.61" width="6.52" height="5.44" fill="#500093"/><rect x="438.83" width="6.52" height="5.44" fill="#5600a7"/><rect x="445.05" width="6.52" height="5.44" fill="#5b01b6"/><rect x="451.28" width="6.52" height="5.44" fill="#5f01c4"/><rect x="457.50" width="6.52" height="5.44" fill="#6001c7"/><rect x="463.72" width="18.97" height="5.44" fill="#6101ca"/><rect x="482.39" width="6.52" height="5.44" fill="#6201cb"/><rect x="488.62" width="6.52" height="5.44" fill="#6201cd"/><rect x="494.84" width="6.52" height="5.44" fill="#6301cf"/><rect x="501.06" width="6.52" height="5.44" fill="#6401d1"/><rect x="507.29" width="6.52" height="5.44" fill="#6501d3"/><rect x="513.51" width="6.52" height="5.44" fill="#6601d6"/><rect x="519.73" width="5.07" height="5.44" fill="#6a01e2"/></g>
<g transform="translate(0 409.62)"><rect x="74.50" width="3.67" height="5.44" fill="#6301cf"/><rect x="77.87" width="31.42" height="5.44" fill="#6601d8"/><rect x="108.98" width="6.52" height="5.44" fill="#6501d4"/><rect x="115.21" width="6.52" height="5.44" fill="#6401d1"/><rect x="121.43" width="6.52" height="5.44" fill="#6201cd"/><rect x="127.65" width="6.52" height="5.44" fill="#6101c8"/><rect x="133.88" width="6.52" height="5.44" fill="#5f01c4"/><rect x="140.10" width="6.52" height="5.44" fill="#5e01c0"/><rect x="146.32" width="6.52" height="5.44" fill="#5c01bb"/><rect x="152.55" width="6.52" height="5.44" fill="#5b01b6"/><rect x="158.77" width="6.52" height="5.44" fill="#5900b1"/><rect x="164.99" width="6.52" height="5.44" fill="#5800ac"/><rect x="171.22" width="6.52" height="5.44" fill="#5600a7"/><rect x="177.44" width="18.97" height="5.44" fill="#5400a2"/><rect x="196.11" width="6.52" height="5.44" fill="#53009d"/><rect x="202.34" width="18.97" height="5.44" fill="#510097"/><rect x="221.01" width="6.52" height="5.44" fill="#4e008c"/><rect x="227.23" width="12.75" height="5.44" fill="#4c0086"/><rect x="239.68" width="12.75" height="5.44" fill="#4a0080"/><rect x="252.12" width="18.97" height="5.44" fill="#48007a"/><rect x="270.79" width="31.42" height="5.44" fill="#460074"/><rect x="301.91" width="25.19" height="5.44" fill="#48007a"/><rect x="326.81" width="12.75" height="5.44" fill="#460074"/><rect x="339.25" width="25.19" height="5.44" fill="#44006e"/><rect x="364.15" width="6.52" height="5.44" fill="#400062"/><rect x="370.37" width="6.52" height="5.44" fill="#410065"/><rect x="376.59" width="6.52" height="5.44" fill="#3b0055"/><rect x="382.82" width="6.52" height="5.44" fill="#3f005e"/><rect x="389.04" width="6.52" height="5.44" fill="#420068"/><rect x="395.26" width="6.52" height="5.44" fill="#43006b"/><rect x="401.49" width="6.52" height="5.44" fill="#44006e"/><rect x="407.71" width="6.52" height="5.44" fill="#400062"/><rect x="413.93" width="6.52" height="5.44" fill="#3b0055"/><rect x="420.16" width="6.52" height="5.44" fill="#3c0058"/><rect x="426.38" width="6.52" height="5.44" fill="#3e005b"/><rect x="432.61" width="6.52" height="5.44" fill="#450071"/><rect x="438.83" width="6.52" height="5.44" fill="#4c0086"/><rect x="445.05" width="6.52" height="5.44" fill="#510097"/><rect x="451.28" width="6.52" height="5.44" fill="#5600a7"/><rect x="457.50" width="6.52" height="5.44" fill="#5800ac"/><rect x="463.72" width="31.42" height="5.44" fill="#5900b1"/><rect x="494.84" width="6.52" height="5.44" fill="#5a00b4"/><rect x="501.06" width="6.52" height="5.44" fill="#5b01b6"/><rect x="507.29" width="6.52" height="5.44" fill="#5c01b9"/><rect x="513.51" width="6.52" height="5.44" fill="#5c01bb"/><rect x="519.73" width="5.07" height="5.44" fill="#6001c6"/></g>
<g transform="translate(0 414.77)"><rect x="74.50" width="3.67" height="5.03" fill="#5a00b4"/><rect x="77.87" width="31.42" height="5.03" fill="#5e01c0"/><rect x="108.98" width="6.52" height="5.03" fill="#5c01bb"/><rect x="115.21" width="6.52" height="5.03" fill="#5b01b6"/><rect x="121.43" width="6.52" height="5.03" fill="#5900b1"/><rect x="127.65" width="6.52" height="5.03" fill="#5800ac"/><rect x="133.88" width="6.52" height="5.03" fill="#5600a7"/><rect x="140.10" width="6.52" height="5.03" fill="#5400a2"/><rect x="146.32" width="6.52" height="5.03" fill="#53009d"/><rect x="152.55" width="6.52" height="5.03" fill="#510097"/><rect x="158.77" width="6.52" height="5.03" fill="#4f0092"/><rect x="164.99" width="6.52" height="5.03" fill="#4e008c"/><rect x="171.22" width="6.52" height="5.03" fill="#4c0086"/><rect x="177.44" width="18.97" height="5.03" fill="#4a0080"/><rect x="196.11" width="6.52" height="5.03" fill="#48007a"/><rect x="202.34" width="18.97" height="5.03" fill="#460074"/><rect x="221.01" width="6.52" height="5.03" fill="#4f0092"/><rect x="227.23" width="18.97" height="5.03" fill="#4e008c"/><rect x="245.90" width="25.19" height="5.03" fill="#4c0086"/><rect x="270.79" width="62.53" height="5.03" fill="#4a0080"/><rect x="333.03" width="25.19" height="5.03" fill="#48007a"/><rect x="357.92" width="12.75" height="5.03" fill="#460074"/><rect x="370.37" width="6.52" height="5.03" fill="#350044"/><rect x="376.59" width="6.52" height="5.03" fill="#2e0034"/><rect x="382.82" width="6.52" height="5.03" fill="#32003e"/><rect x="389.04" width="6.52" height="5.03" fill="#360048"/><rect x="395.26" width="6.52" height="5.03" fill="#38004b"/><rect x="401.49" width="6.52" height="5.03" fill="#39004e"/><rect x="407.71" width="6.52" height="5.03" fill="#340041"/><rect x="413.93" width="6.52" height="5.03" fill="#2e0034"/><rect x="420.16" width="6.52" height="5.03" fill="#2f0037"/><rect x="426.38" width="6.52" height="5.03" fill="#31003a"/><rect x="432.61" width="6.52" height="5.03" fill="#3a0052"/><rect x="438.83" width="6.52" height="5.03" fill="#420068"/><rect x="445.05" width="6.52" height="5.03" fill="#48007a"/><rect x="451.28" width="6.52" height="5.03" fill="#4e008c"/><rect x="457.50" width="6.52" height="5.03" fill="#4f0092"/><rect x="463.72" width="31.42" height="5.03" fill="#510097"/><rect x="494.84" width="6.52" height="5.03" fill="#52009a"/><rect x="501.06" width="6.52" height="5.03" fill="#53009d"/><rect x="507.29" width="6.52" height="5.03" fill="#54009f"/><rect x="513.51" width="6.52" height="5.03" fill="#5400a2"/><rect x="519.73" width="5.07" height="5.03" fill="#5800af"/></g>
</g>
<g id="coast"><path d="M91.2 96.9L95.9 94.4L104.0 90.7L109.6 91.7L114.6 92.7L123.3 94.2L128.3 95.4L130.8 94.4L135.7 93.4L139.5 92.3L143.2 94.4L148.2 93.8L153.2 95.6L156.9 97.1L155.7 97.9L161.9 97.7L164.4 96.9L166.9 95.8L171.8 97.9L176.8 97.9L178.1 96.4L179.9 96.9L179.3 94.4L181.2 89.2L183.0 91.3L184.3 94.0L186.8 96.0L189.3 96.4L190.5 98.9L192.4 94.4L196.1 93.8L197.6 95.8L196.7 98.5L197.6 99.5L194.2 101.0L191.8 100.6L189.9 104.7L186.8 105.7L185.5 106.1L183.0 109.8L181.8 111.9L180.8 115.0L181.8 116.4L183.7 120.1L186.8 120.1L189.9 122.2L193.0 123.6L196.7 123.8L196.4 128.3L198.6 131.8L200.5 131.4L200.5 126.3L199.8 124.6L203.0 122.2L203.6 120.1L201.7 116.0L202.0 112.3L202.3 108.8L206.7 109.2L209.8 111.3L211.7 111.9L212.3 116.0L214.2 117.0L216.6 116.4L218.5 113.1L220.4 117.0L222.3 120.1L222.9 122.2L224.1 124.2L226.6 124.6L227.9 127.3L229.5 130.4L227.9 131.6L224.1 134.1L220.4 133.9L216.0 134.1L213.5 137.0L210.4 140.7L212.9 138.6L216.0 136.6L218.5 136.6L217.9 139.0L218.5 142.3L221.6 143.1L222.9 143.8L224.1 142.7L222.9 144.4L219.1 145.8L216.6 147.9L217.9 143.8L215.4 144.8L213.5 146.2L211.7 147.5L210.7 149.7L211.7 151.0L210.4 152.0L207.3 153.0L206.7 153.8L206.7 156.1L204.8 158.2L204.2 161.2L204.8 164.9L203.0 166.4L200.5 168.9L198.0 171.5L198.0 174.0L199.0 181.8L198.5 182.6L196.2 178.1L194.5 175.6L192.4 176.1L189.3 175.0L187.6 177.3L185.5 177.1L181.8 176.7L179.9 178.1L178.1 179.8L177.7 183.9L177.1 191.5L179.3 197.9L181.2 199.9L184.9 199.3L186.2 194.6L189.3 193.1L190.5 193.5L189.9 197.2L188.9 200.7L188.6 204.8L191.8 204.8L194.2 204.8L195.2 206.5L194.6 212.7L194.9 214.7L196.1 218.4L198.0 219.2L199.2 218.4L200.5 217.8L202.3 219.5L203.2 219.5L204.8 215.8L205.7 214.7L208.6 213.7L210.1 212.0L209.4 214.3L209.8 217.8L210.1 214.9L211.7 213.5L213.5 214.3L214.2 215.8L216.6 215.5L218.5 216.4L221.0 215.3L221.9 216.8L224.1 219.9L226.0 223.0L227.9 225.0L232.8 226.0L234.7 228.5L236.6 233.6L236.6 236.3L239.1 238.8L243.4 241.1L244.0 242.5L247.1 243.3L250.3 243.9L252.7 247.0L254.9 248.0L255.4 251.7L255.2 255.9L252.1 260.0L250.3 264.1L250.3 272.3L249.0 278.5L247.8 282.6L246.5 284.7L244.7 284.7L240.9 286.7L238.4 290.4L238.2 294.9L235.9 302.1L232.8 308.3L229.7 313.5L226.0 317.2L222.3 320.7L219.8 324.8L217.9 328.9L215.7 333.0L215.2 337.1L214.2 341.2L213.5 345.3L217.9 350.1L216.0 350.9L212.9 350.9L210.4 348.4L206.7 345.3L204.8 340.2L204.8 333.0L206.7 325.8L207.1 319.6L207.9 313.5L209.6 305.2L209.8 299.1L210.4 292.9L211.4 284.7L211.3 275.4L209.8 273.3L205.4 269.2L204.0 265.7L203.0 262.0L200.5 254.8L198.0 249.7L197.6 247.0L199.2 243.5L198.1 241.9L199.2 235.7L201.1 232.2L203.0 229.5L202.3 227.1L202.3 223.0L201.7 220.5L199.8 218.8L199.2 220.3L198.9 222.3L197.4 221.9L194.9 219.9L192.1 216.8L191.8 213.7L189.9 210.6L189.5 210.2L186.8 209.0L183.7 207.1L181.2 204.0L179.3 205.1L174.5 202.8L171.8 200.5L169.4 198.7L167.4 195.6L167.5 193.1L166.2 189.4L163.1 184.9L161.3 180.8L159.4 177.7L158.1 173.2L156.0 172.1L158.1 177.7L160.0 182.8L161.3 187.0L162.5 189.6L161.9 190.0L158.8 183.9L156.7 179.8L154.4 174.6L152.9 170.3L151.6 167.8L148.7 166.4L147.2 162.3L146.3 159.6L144.0 154.2L144.1 148.9L144.5 142.7L143.8 137.8L145.7 136.6L143.2 133.5L139.5 130.4L136.4 125.2L133.3 122.2L129.5 118.0L125.2 115.0L123.3 113.9L117.1 111.9L114.0 113.9L112.1 115.0L110.9 111.9L107.1 117.0L102.1 121.1L94.7 124.6L99.6 120.1L102.1 116.6L97.2 113.9L92.8 108.8L98.4 104.7L94.0 104.7L89.7 102.4L94.7 100.6L95.9 99.5L91.2 96.9M207.9 76.5L214.2 72.8L221.6 69.1L236.6 67.6L249.0 66.0L261.5 65.6L271.4 67.6L276.4 69.7L283.9 69.7L276.4 72.8L275.2 75.9L273.9 80.0L274.5 84.1L271.4 87.2L270.8 90.3L271.4 92.7L266.4 96.2L260.2 97.3L255.2 101.2L251.5 102.4L248.4 104.7L246.5 108.8L244.7 113.9L242.2 113.3L238.4 111.5L235.9 107.8L234.1 103.6L232.2 99.5L231.6 94.4L235.3 93.4L231.0 91.7L229.7 87.2L226.6 82.0L221.6 80.6L214.2 81.0L210.4 78.5L207.9 76.5M330.8 91.1L337.4 92.7L339.9 94.6L349.8 99.9L346.1 104.7L349.2 104.7L353.6 100.6L353.6 96.4L356.1 97.5L357.3 99.5L364.8 96.4L372.2 96.4L374.1 93.8L378.5 94.8L384.1 97.1L382.2 94.4L381.9 91.3L384.1 88.2L388.4 87.2L389.4 91.3L388.4 96.4L390.3 99.9L389.0 95.4L390.9 89.2L395.9 89.2L399.0 86.2L405.8 85.5L407.1 83.1L417.0 81.0L423.3 80.0L428.6 77.5L432.0 80.0L438.2 81.0L440.1 86.2L445.7 86.8L451.9 87.2L456.9 88.2L460.0 91.3L464.3 90.3L469.3 90.5L473.1 88.2L480.5 88.6L485.5 90.3L488.0 91.5L496.7 92.1L498.6 94.2L504.2 94.2L511.0 93.4L511.0 95.4L517.9 93.8L522.8 95.4M522.8 103.2L520.4 104.7L519.7 104.1L522.2 107.8L521.6 109.2L516.6 110.2L512.9 111.9L511.0 113.9L505.4 113.9L502.3 118.0L501.7 122.2L500.4 124.2L500.2 128.3L498.0 128.7L496.1 130.4L493.8 132.4L493.0 128.3L492.5 122.2L493.6 120.1L499.8 112.9L502.3 110.8L501.7 108.8L498.0 110.8L494.2 110.6L491.1 115.0L488.0 116.0L485.5 114.8L479.9 115.4L475.5 116.0L470.6 121.1L467.1 124.8L469.9 126.3L469.7 127.3L474.3 128.3L473.7 132.4L473.1 137.6L470.6 141.7L467.5 146.8L464.3 149.3L461.9 149.9L460.6 151.0L460.0 153.0L457.5 155.7L459.7 162.3L459.4 164.9L456.3 166.6L456.3 161.2L454.1 159.2L454.8 156.1L450.7 154.0L449.7 157.1L446.9 156.7L445.4 157.5L446.3 160.2L449.4 160.2L451.3 161.2L447.5 165.4L449.2 170.5L450.4 173.6L450.4 176.7L448.2 182.8L445.7 187.0L443.2 190.0L440.1 191.5L437.0 193.1L435.7 195.2L435.7 193.3L433.2 192.9L431.5 195.2L430.5 198.3L433.8 205.5L434.8 211.6L432.6 215.8L429.5 219.5L429.2 216.8L426.8 212.7L424.5 211.0L423.9 209.6L423.0 214.7L422.4 218.2L423.9 222.3L426.4 226.0L427.6 229.1L428.5 234.5L427.5 234.7L424.9 231.6L423.8 226.0L421.2 220.5L421.7 215.8L420.4 206.5L420.2 203.4L418.3 203.8L416.3 204.4L416.4 200.3L415.2 196.6L413.3 193.1L412.7 191.1L410.8 192.1L409.0 192.7L407.1 193.5L406.5 196.2L404.6 197.2L401.2 203.2L398.7 205.9L398.4 209.6L398.1 216.2L397.1 218.4L395.9 220.1L395.3 220.7L394.0 217.8L392.8 213.1L391.5 208.6L390.3 204.4L389.7 198.3L389.4 194.2L388.4 194.2L386.6 194.6L384.7 191.5L386.3 190.2L383.8 188.6L382.4 186.3L381.6 185.1L378.5 185.3L375.3 185.5L371.0 184.7L369.7 181.8L368.9 181.4L366.0 182.6L364.1 180.6L361.7 176.7L359.8 175.0L358.5 176.1L359.3 178.9L361.0 182.4L361.3 184.9L362.3 184.9L362.9 186.7L364.1 187.6L366.0 187.8L368.5 183.9L369.0 186.1L371.6 188.8L373.2 191.1L371.6 195.4L370.6 198.3L368.5 200.5L367.3 202.4L363.8 205.3L359.8 208.1L354.8 211.0L352.9 211.4L352.3 209.6L352.1 206.5L351.7 203.4L349.2 197.2L347.3 193.1L345.1 185.9L343.0 180.8L342.1 176.7L341.5 179.8L340.5 179.3L339.3 175.8L340.5 180.8L343.0 188.0L344.9 194.2L345.2 198.7L346.7 200.3L348.0 205.5L350.1 207.5L352.6 211.6L352.7 213.7L354.2 216.0L357.3 214.3L362.3 212.9L362.5 215.8L361.0 220.9L358.5 228.1L356.1 232.6L352.9 237.3L350.5 241.1L348.6 244.5L347.6 247.6L347.1 250.7L348.0 253.8L349.1 258.9L349.3 267.2L347.3 271.9L344.6 274.4L342.4 278.5L343.0 285.7L339.9 289.8L339.6 294.9L337.4 299.1L334.3 304.8L330.8 307.3L326.2 307.7L323.7 308.9L321.7 307.7L321.5 303.2L319.3 296.0L317.5 290.8L316.8 283.6L313.7 274.4L313.5 270.3L315.6 263.1L316.0 259.6L314.1 249.7L313.5 246.6L310.6 241.9L310.0 238.8L310.6 235.3L310.9 230.2L309.8 228.1L307.5 228.3L305.6 226.7L304.2 224.4L301.9 224.4L300.0 225.2L296.4 227.5L295.1 226.9L293.2 226.7L289.5 228.3L287.6 227.1L285.1 223.6L283.2 221.9L282.2 218.8L280.5 215.3L279.9 212.9L278.0 211.8L277.9 209.6L277.0 207.1L278.3 204.4L278.5 198.3L277.6 194.2L278.9 189.0L280.4 183.9L282.6 180.2L284.9 178.1L286.6 176.1L286.7 172.6L288.2 168.9L290.3 167.2L291.5 163.7L292.2 163.5L296.3 165.1L297.6 163.9L300.7 162.3L302.5 161.7L305.0 161.7L308.8 161.4L311.2 160.6L312.5 161.2L311.5 163.3L312.5 166.4L311.2 167.4L312.5 169.1L315.0 169.7L317.7 170.9L318.7 173.0L321.2 174.6L323.7 173.6L323.7 170.9L325.6 169.7L327.4 170.3L329.9 172.1L333.0 173.2L334.9 174.0L337.4 172.6L339.0 173.0L341.4 173.0L342.4 169.5L343.6 165.4L343.6 161.7L341.7 161.9L339.3 163.3L336.9 161.7L334.9 162.9L332.8 161.2L331.5 158.6L332.2 156.1L331.4 154.9L333.0 154.2L334.9 153.0L337.6 152.8L340.5 151.0L342.4 151.0L344.2 152.6L346.7 153.2L350.5 152.0L350.5 149.5L347.3 146.4L345.2 144.8L346.3 141.7L347.3 140.3L345.5 140.7L342.6 142.3L344.2 144.2L343.0 144.8L340.7 146.0L340.6 142.9L339.3 143.8L338.4 141.5L336.8 142.7L335.6 144.4L334.5 147.3L333.4 149.9L333.8 152.0L334.9 153.0L331.4 153.8L328.7 153.4L328.3 155.1L327.1 154.2L327.4 156.7L328.7 159.2L327.4 159.6L327.7 162.3L326.6 162.3L325.8 161.7L325.3 159.6L324.6 157.3L323.4 155.5L322.9 152.0L322.7 151.0L321.0 149.1L318.7 147.9L317.5 145.8L316.6 144.2L315.7 144.8L315.9 143.6L314.1 144.2L314.2 146.4L315.7 147.9L316.5 150.1L318.7 151.2L318.7 152.2L321.2 154.0L321.8 154.9L320.0 154.0L319.3 155.5L320.2 157.1L319.3 158.4L318.7 159.2L318.3 159.2L318.7 157.1L318.3 155.1L316.6 153.4L314.4 152.0L312.5 149.9L311.5 147.9L309.8 146.0L308.1 147.3L306.5 148.7L304.7 148.1L302.8 148.5L302.8 151.2L299.8 153.0L298.4 156.1L299.0 157.7L297.9 160.0L296.3 161.9L293.3 161.9L292.1 163.1L291.0 162.1L289.6 160.8L287.7 161.2L287.8 158.2L287.0 157.5L287.8 153.0L287.2 148.9L288.8 147.5L292.0 147.9L294.4 147.9L296.6 148.1L297.3 145.6L297.4 142.7L296.1 140.3L293.2 138.8L292.9 137.6L296.8 137.4L296.4 135.1L297.4 135.7L299.0 135.1L300.8 133.9L300.8 132.6L303.2 131.6L304.0 130.4L304.7 128.3L307.5 127.3L309.5 127.1L309.8 126.3L309.5 124.2L308.9 123.0L309.0 120.1L311.2 118.9L312.0 118.7L311.6 120.9L312.4 121.3L311.2 123.2L311.2 125.2L312.5 126.3L314.4 125.4L316.5 126.5L319.3 125.2L321.8 124.6L323.2 125.4L324.9 123.8L324.9 120.5L326.8 118.7L329.0 119.7L329.2 117.4L328.1 116.6L328.1 115.6L331.2 115.0L333.7 114.5L336.4 114.1L334.3 112.9L331.2 113.1L327.4 114.1L325.4 112.7L325.3 110.0L325.3 108.6L329.3 104.1L330.3 102.6L326.6 102.0L325.6 104.7L321.2 108.4L320.2 111.9L320.3 112.7L322.2 113.9L321.2 116.2L319.6 118.5L319.2 120.9L318.5 122.0L316.6 123.2L315.0 123.4L314.7 121.5L313.5 118.7L312.7 116.0L311.9 115.0L310.6 116.2L307.5 118.0L305.6 116.4L305.0 112.9L305.0 110.2L306.9 108.2L309.4 106.7L311.9 104.7L313.7 102.6L315.0 100.6L316.8 97.9L318.7 96.2L321.2 94.2L324.3 93.4L327.4 91.9L330.8 91.1M74.8 95.6L81.0 99.1L86.0 100.6L87.6 101.4L84.7 104.7L83.5 105.1L79.7 104.1L76.6 101.0L74.8 102.6M268.9 102.6L271.4 100.8L276.4 101.2L278.9 100.6L281.4 102.6L281.4 104.7L275.8 106.9L270.8 106.1L271.4 104.7L268.9 102.6M292.0 134.5L295.1 133.5L300.4 132.0L300.9 128.9L299.0 127.3L296.9 124.2L296.3 122.2L294.7 122.2L296.3 119.1L294.4 118.7L295.1 116.8L292.6 116.8L291.3 119.1L292.0 122.2L292.6 124.6L295.1 125.2L294.8 127.5L293.2 127.9L293.6 129.8L292.3 130.8L294.8 131.6L293.2 132.2L292.0 134.5M291.1 130.0L286.6 131.2L286.4 127.3L288.5 125.2L289.5 123.6L291.6 124.8L291.1 127.7L291.1 130.0M312.5 74.8L316.2 77.9L320.0 79.8L324.9 76.5L322.4 74.8L328.7 74.2L332.4 72.8L323.7 71.8L318.7 73.0L312.5 74.8M362.9 90.3L365.4 91.7L370.4 91.9L367.3 88.2L368.5 85.1L373.5 82.0L383.4 79.4L381.0 79.0L371.0 81.0L366.6 86.2L362.9 90.3M461.7 167.4L461.9 168.9L460.9 171.5L461.9 173.2L462.9 170.5L463.7 167.8L467.1 166.4L467.8 168.4L469.3 166.0L471.8 165.4L474.1 163.3L474.3 158.2L475.5 155.5L474.7 152.2L473.1 153.4L472.8 157.1L469.9 161.2L469.1 160.6L468.1 163.3L464.3 164.3L461.7 167.4M473.1 151.4L474.7 149.3L477.2 151.0L479.9 148.3L479.3 146.4L475.5 143.8L475.2 146.8L473.4 148.5L473.1 151.4M475.5 142.7L477.4 141.1L476.5 136.6L478.7 136.1L477.0 129.4L476.3 125.7L475.5 128.3L475.5 134.5L475.5 142.7M448.4 190.0L449.4 192.1L450.5 185.9L449.4 185.5L448.4 190.0M434.1 197.9L435.1 199.9L436.3 198.7L437.0 196.6L436.2 196.0L434.1 197.9M448.5 204.4L448.9 199.3L450.9 199.3L451.0 203.4L450.0 207.5L453.1 210.6L452.5 211.2L450.3 209.0L448.9 208.1L448.5 204.4M450.7 223.0L452.5 219.7L454.9 217.4L456.3 221.9L455.3 225.0L454.8 223.0L453.1 224.4L450.7 223.0M398.4 217.2L399.9 219.9L400.6 223.0L399.6 224.6L398.4 225.0L398.0 220.9L398.4 217.2M193.0 192.5L195.5 190.0L198.6 189.8L203.0 192.9L206.4 195.8L202.3 196.4L201.7 194.2L198.6 192.1L196.7 191.5L194.2 192.5L193.0 192.5M206.1 199.5L208.6 196.4L211.7 196.6L213.5 199.1L211.0 199.9L209.6 200.7L208.6 199.7L206.1 199.5M225.0 139.4L227.2 133.1L229.3 131.4L229.7 134.5L232.2 136.1L233.1 139.4L232.2 141.3L229.7 140.7L229.1 139.0L225.0 139.4M357.3 144.8L359.8 141.7L362.9 141.1L364.8 144.4L362.7 145.8L361.4 146.2L362.9 149.9L364.8 151.4L365.6 156.1L365.8 161.2L362.3 161.9L359.8 160.2L360.2 156.5L360.2 154.0L357.9 149.3L357.3 144.8M184.3 141.3L188.6 137.6L193.0 139.0L193.6 141.7L190.5 141.7L186.8 141.5L184.3 141.3M189.5 151.0L189.3 145.8L192.4 142.7L194.2 143.1L197.4 144.4L197.1 148.3L194.9 147.3L194.2 144.4L191.4 147.9L189.5 151.0M195.1 151.0L200.5 149.3L203.6 147.9L203.8 146.8L200.1 147.7L199.2 149.9L195.1 151.0M222.3 100.6L219.1 106.7L216.6 109.8L213.5 108.2L209.8 106.1L206.7 104.7L201.7 104.7L206.1 102.6L207.3 98.5L203.0 95.4L200.5 93.4L193.0 93.4L187.4 91.3L188.0 86.8L193.0 85.7L198.0 85.7L201.7 87.6L206.7 89.9L211.7 92.3L214.2 94.4L215.4 96.9L219.8 98.9L222.3 100.6M152.5 90.3L155.7 86.8L164.4 86.8L168.1 87.8L172.5 88.2L173.1 93.4L170.6 95.8L164.4 95.8L158.1 96.4L153.8 94.8L151.9 92.3L152.5 90.3M142.6 89.2L145.7 84.5L151.9 84.7L155.0 86.6L149.4 90.3L145.1 90.9L142.6 89.2M186.8 80.0L193.0 79.0L199.2 80.4L203.0 76.9L205.4 74.8L211.7 72.4L219.1 70.1L221.6 67.6L211.7 66.6L199.2 66.6L189.3 68.7L184.3 70.7L190.5 72.8L186.8 75.9L186.8 80.0M179.3 82.0L186.8 83.9L196.7 84.1L199.2 82.0L193.0 80.4L184.3 80.0L179.3 82.0M153.2 82.7L159.4 84.1L166.9 83.1L166.9 81.0L161.9 80.0L155.7 80.4L153.2 82.7M179.3 76.3L186.8 76.5L190.5 73.8L184.3 70.7L179.3 72.8L179.3 76.3M171.8 89.2L178.1 90.3L178.7 86.2L174.3 85.1L171.8 89.2M179.9 87.6L184.3 87.6L186.2 85.5L181.8 84.7L179.9 87.6M190.5 103.0L193.0 107.3L198.0 106.7L198.6 104.7L194.2 101.6L190.5 103.0M104.6 197.9L105.9 196.6L104.6 195.8M102.1 193.1L102.8 193.5M77.0 399.5L96.2 399.5L102.5 398.0M96.2 399.5L99.5 402.0M77.0 412.5L87.0 413.0L95.0 414.0L105.0 414.5L115.5 414.5L112.5 410.0L109.5 404.5L108.0 400.0L111.2 397.0L118.8 395.0L127.5 393.0L135.5 391.2L142.5 390.0L150.0 390.0L156.2 391.2L161.2 393.0L166.2 392.0L172.5 391.2L175.0 388.8L180.0 388.8L187.5 389.5L195.0 388.8L202.5 387.0L210.0 388.8L213.8 385.0L216.2 377.5L220.0 372.0L225.0 369.5L226.2 373.8L222.5 377.5L220.0 379.5L222.0 385.0L223.0 392.5L230.0 394.5M206.2 385.0L212.5 381.2L215.0 382.5L211.2 387.5L206.2 385.0M223.0 392.5L210.0 395.5L197.5 397.5L201.2 401.2L208.8 403.8L217.5 405.5L230.0 406.2M225.0 369.5L226.2 373.8L223.0 377.5L222.0 385.0L223.0 392.5L230.0 394.5L240.0 397.0L250.0 398.0L257.5 398.0M228.8 400.0L237.5 397.5L244.5 400.0L240.0 402.5L231.2 402.0L228.8 400.0M220.0 406.2L230.0 407.0L242.5 405.5L252.5 403.8L260.0 403.0L257.5 398.8M257.5 398.0L265.0 393.8L272.5 390.0L281.2 387.0L288.8 384.5L295.0 382.0L298.8 380.5L303.8 382.5L306.2 383.0L323.8 383.0L332.5 383.0L337.5 381.2L341.2 380.5L345.0 382.0L348.8 380.5L356.2 377.0L363.8 375.0L370.0 377.5L380.0 378.0M257.5 400.0L266.2 395.0L275.0 390.5L285.0 387.0L293.8 383.8L297.5 386.2L302.5 385.0L306.2 383.8L325.0 384.0L332.5 384.0M370.0 376.2L380.0 377.5L385.5 378.8L386.2 383.0L391.2 381.2L397.5 380.0L403.8 376.2L410.0 375.5L420.0 374.5L430.0 373.8L440.0 374.5L445.0 376.2L452.5 375.0L460.0 373.8L468.8 374.5L477.5 377.0L487.5 379.5L497.5 382.0L506.2 384.5L512.0 386.2L507.5 391.2L503.8 396.2L502.0 400.0L506.2 398.0L515.0 398.0L523.0 399.5M502.0 400.0L505.0 405.5L507.0 408.8L515.0 409.5L517.5 410.5M417.1 226.2L424.6 240.8L431.2 244.6L428.1 237.7L422.9 230.4L417.1 226.2M444.8 224.6L446.2 234.6L440.6 245.0L435.4 239.8L444.8 224.6M431.2 251.2L436.5 252.3L441.7 253.8L436.5 253.8L431.2 251.2M462.1 241.5L468.8 244.0L476.0 243.3L481.2 251.2L486.5 259.6L478.1 255.8L469.8 251.2L462.1 241.5M442.7 282.5L449.0 277.3L454.6 269.0L459.4 269.6L463.5 261.7L468.8 264.8L471.9 272.1L476.7 260.6L480.2 270.0L484.4 280.4L489.2 291.9L488.5 302.3L485.4 311.7L480.2 317.5L475.0 315.8L469.8 309.6L462.5 302.3L455.2 305.0L449.0 307.5L443.8 305.4L441.7 292.9L442.7 282.5M503.5 279.4L504.0 280.6M479.2 322.3L482.9 325.0L480.8 326.5L479.2 322.3M514.2 308.3L516.7 311.9L519.2 319.2L517.7 317.1L515.0 311.9L514.2 308.3M514.2 321.2L513.5 326.5L511.5 329.6L508.3 333.3L512.1 327.9L513.5 326.5L515.6 327.5M360.0 264.4L354.6 278.6L354.1 289.6L360.5 276.4L360.0 264.4M341.0 238.3L341.3 245.3M225.7 344.3L226.7 344.7M185.3 238.0L186.0 239.0M414.8 74.1L419.1 72.6L425.4 75.1L421.6 77.2L416.6 76.2L414.8 74.1M470.8 83.5L475.8 82.2L482.9 83.5L477.1 84.7L470.8 83.5M391.4 147.2L395.2 145.2L398.9 143.5M376.3 72.9L380.0 72.1M513.6 129.3L519.2 131.6M385.1 101.1L390.1 97.3L393.9 92.3L396.4 98.6L392.6 102.4L388.9 100.4M353.8 74.0L358.0 73.0L362.5 73.5M376.2 72.8L380.0 72.0M373.8 144.0L375.0 148.0M391.2 146.5L397.5 143.8M77.0 132.4L80.0 131.9M83.1 130.9L85.6 130.1M89.1 128.6L91.6 127.6" fill="none" stroke="#3fe3d3" stroke-width="1" stroke-linejoin="round" shape-rendering="crispEdges"/></g>
<rect x="74.5" y="57.5" width="450.0" height="362.0" fill="none" stroke="#000" stroke-width="1"/>
<g id="cb">
<rect x="536" y="58" width="21" height="3" fill="#fffc00"/>
<rect x="536" y="61" width="21" height="3" fill="#fef600"/>
<rect x="536" y="64" width="21" height="2" fill="#fcf000"/>
<rect x="536" y="66" width="21" height="3" fill="#fbeb00"/>
<rect x="536" y="69" width="21" height="3" fill="#fae500"/>
<rect x="536" y="72" width="21" height="3" fill="#f9e000"/>
<rect x="536" y="75" width="21" height="3" fill="#f8da00"/>
<rect x="536" y="78" width="21" height="3" fill="#f7d500"/>
<rect x="536" y="81" width="21" height="2" fill="#f6cf00"/>
<rect x="536" y="83" width="21" height="3" fill="#f5ca00"/>
<rect x="536" y="86" width="21" height="3" fill="#f4c500"/>
<rect x="536" y="89" width="21" height="3" fill="#f3c000"/>
<rect x="536" y="92" width="21" height="3" fill="#f2bb00"/>
<rect x="536" y="95" width="21" height="2" fill="#f1b700"/>
<rect x="536" y="97" width="21" height="3" fill="#f0b200"/>
<rect x="536" y="100" width="21" height="3" fill="#efad00"/>
<rect x="536" y="103" width="21" height="3" fill="#eea900"/>
<rect x="536" y="106" width="21" height="3" fill="#eda400"/>
<rect x="536" y="109" width="21" height="3" fill="#eca000"/>
<rect x="536" y="112" width="21" height="2" fill="#eb9b00"/>
<rect x="536" y="114" width="21" height="3" fill="#ea9700"/>
<rect x="536" y="117" width="21" height="3" fill="#e99300"/>
<rect x="536" y="120" width="21" height="3" fill="#e88f00"/>
<rect x="536" y="123" width="21" height="3" fill="#e68b00"/>
<rect x="536" y="126" width="21" height="3" fill="#e58700"/>
<rect x="536" y="129" width="21" height="2" fill="#e48300"/>
<rect x="536" y="131" width="21" height="3" fill="#e37f00"/>
<rect x="536" y="134" width="21" height="3" fill="#e27b00"/>
<rect x="536" y="137" width="21" height="3" fill="#e17800"/>
<rect x="536" y="140" width="21" height="3" fill="#e07400"/>
<rect x="536" y="143" width="21" height="2" fill="#df7100"/>
<rect x="536" y="145" width="21" height="3" fill="#dd6d00"/>
<rect x="536" y="148" width="21" height="3" fill="#dc6a00"/>
<rect x="536" y="151" width="21" height="3" fill="#db6700"/>
<rect x="536" y="154" width="21" height="3" fill="#da6300"/>
<rect x="536" y="157" width="21" height="3" fill="#d96000"/>
<rect x="536" y="160" width="21" height="2" fill="#d85d00"/>
<rect x="536" y="162" width="21" height="3" fill="#d65a00"/>
<rect x="536" y="165" width="21" height="3" fill="#d55700"/>
<rect x="536" y="168" width="21" height="3" fill="#d45400"/>
<rect x="536" y="171" width="21" height="3" fill="#d35100"/>
<rect x="536" y="174" width="21" height="2" fill="#d24f00"/>
<rect x="536" y="176" width="21" height="3" fill="#d04c00"/>
<rect x="536" y="179" width="21" height="3" fill="#cf4900"/>
<rect x="536" y="182" width="21" height="3" fill="#ce4700"/>
<rect x="536" y="185" width="21" height="3" fill="#cd4400"/>
<rect x="536" y="188" width="21" height="3" fill="#cb4200"/>
<rect x="536" y="191" width="21" height="2" fill="#ca3f00"/>
<rect x="536" y="193" width="21" height="3" fill="#c93d00"/>
<rect x="536" y="196" width="21" height="3" fill="#c83b00"/>
<rect x="536" y="199" width="21" height="3" fill="#c63900"/>
<rect x="536" y="202" width="21" height="3" fill="#c53600"/>
<rect x="536" y="205" width="21" height="2" fill="#c43400"/>
<rect x="536" y="207" width="21" height="3" fill="#c33200"/>
<rect x="536" y="210" width="21" height="3" fill="#c13000"/>
<rect x="536" y="213" width="21" height="3" fill="#c02e00"/>
<rect x="536" y="216" width="21" height="3" fill="#bf2c00"/>
<rect x="536" y="219" width="21" height="3" fill="#bd2b00"/>
<rect x="536" y="222" width="21" height="2" fill="#bc2900"/>
<rect x="536" y="224" width="21" height="3" fill="#bb2700"/>
<rect x="536" y="227" width="21" height="3" fill="#b92500"/>
<rect x="536" y="230" width="21" height="3" fill="#b82400"/>
<rect x="536" y="233" width="21" height="3" fill="#b62200"/>
<rect x="536" y="236" width="21" height="2" fill="#b52100"/>
<rect x="536" y="238" width="21" height="3" fill="#b41f06"/>
<rect x="536" y="241" width="21" height="3" fill="#b21e13"/>
<rect x="536" y="244" width="21" height="3" fill="#b11c1f"/>
<rect x="536" y="247" width="21" height="3" fill="#af1b2c"/>
<rect x="536" y="250" width="21" height="3" fill="#ae1a38"/>
<rect x="536" y="253" width="21" height="2" fill="#ac1844"/>
<rect x="536" y="255" width="21" height="3" fill="#ab1750"/>
<rect x="536" y="258" width="21" height="3" fill="#a9165c"/>
<rect x="536" y="261" width="21" height="3" fill="#a81567"/>
<rect x="536" y="264" width="21" height="3" fill="#a61473"/>
<rect x="536" y="267" width="21" height="3" fill="#a5137e"/>
<rect x="536" y="270" width="21" height="2" fill="#a31288"/>
<rect x="536" y="272" width="21" height="3" fill="#a21193"/>
<rect x="536" y="275" width="21" height="3" fill="#a0109d"/>
<rect x="536" y="278" width="21" height="3" fill="#9f0fa7"/>
<rect x="536" y="281" width="21" height="3" fill="#9d0eb0"/>
<rect x="536" y="284" width="21" height="2" fill="#9b0db9"/>
<rect x="536" y="286" width="21" height="3" fill="#9a0cc1"/>
<rect x="536" y="289" width="21" height="3" fill="#980bc9"/>
<rect x="536" y="292" width="21" height="3" fill="#960bd0"/>
<rect x="536" y="295" width="21" height="3" fill="#950ad7"/>
<rect x="536" y="298" width="21" height="3" fill="#9309de"/>
<rect x="536" y="301" width="21" height="2" fill="#9109e4"/>
<rect x="536" y="303" width="21" height="3" fill="#8f08e9"/>
<rect x="536" y="306" width="21" height="3" fill="#8e07ee"/>
<rect x="536" y="309" width="21" height="3" fill="#8c07f2"/>
<rect x="536" y="312" width="21" height="3" fill="#8a06f6"/>
<rect x="536" y="315" width="21" height="2" fill="#8806f9"/>
<rect x="536" y="317" width="21" height="3" fill="#8605fb"/>
<rect x="536" y="320" width="21" height="3" fill="#8405fd"/>
<rect x="536" y="323" width="21" height="3" fill="#8205fe"/>
<rect x="536" y="326" width="21" height="3" fill="#8004ff"/>
<rect x="536" y="329" width="21" height="3" fill="#7e04ff"/>
<rect x="536" y="332" width="21" height="2" fill="#7c03fe"/>
<rect x="536" y="334" width="21" height="3" fill="#7a03fd"/>
<rect x="536" y="337" width="21" height="3" fill="#7803fb"/>
<rect x="536" y="340" width="21" height="3" fill="#7603f9"/>
<rect x="536" y="343" width="21" height="3" fill="#7402f6"/>
<rect x="536" y="346" width="21" height="2" fill="#7202f2"/>
<rect x="536" y="348" width="21" height="3" fill="#7002ee"/>
<rect x="536" y="351" width="21" height="3" fill="#6d02e9"/>
<rect x="536" y="354" width="21" height="3" fill="#6b01e4"/>
<rect x="536" y="357" width="21" height="3" fill="#6901de"/>
<rect x="536" y="360" width="21" height="3" fill="#6601d7"/>
<rect x="536" y="363" width="21" height="2" fill="#6401d0"/>
<rect x="536" y="365" width="21" height="3" fill="#6101c9"/>
<rect x="536" y="368" width="21" height="3" fill="#5e01c1"/>
<rect x="536" y="371" width="21" height="3" fill="#5c01b9"/>
<rect x="536" y="374" width="21" height="3" fill="#5900b0"/>
<rect x="536" y="377" width="21" height="3" fill="#5600a7"/>
<rect x="536" y="380" width="21" height="2" fill="#53009d"/>
<rect x="536" y="382" width="21" height="3" fill="#500093"/>
<rect x="536" y="385" width="21" height="3" fill="#4c0088"/>
<rect x="536" y="388" width="21" height="3" fill="#49007e"/>
<rect x="536" y="391" width="21" height="3" fill="#450073"/>
<rect x="536" y="394" width="21" height="2" fill="#420067"/>
<rect x="536" y="396" width="21" height="3" fill="#3e005c"/>
<rect x="536" y="399" width="21" height="3" fill="#390050"/>
<rect x="536" y="402" width="21" height="3" fill="#350044"/>
<rect x="536" y="405" width="21" height="3" fill="#300038"/>
<rect x="536" y="408" width="21" height="3" fill="#2a002c"/>
<rect x="536" y="411" width="21" height="2" fill="#24001f"/>
<rect x="536" y="413" width="21" height="3" fill="#1c0013"/>
<rect x="536" y="416" width="21" height="3" fill="#100006"/>
<rect x="535.5" y="57.5" width="22.0" height="362.0" fill="none" stroke="#000" stroke-width="1"/>
<path d="M535.5 367.5h4.5M557.5 367.5h-4.5" stroke="#000" stroke-width="1"/>
<path d="M535.5 305.5h4.5M557.5 305.5h-4.5" stroke="#000" stroke-width="1"/>
<path d="M535.5 243.5h4.5M557.5 243.5h-4.5" stroke="#000" stroke-width="1"/>
<path d="M535.5 181.5h4.5M557.5 181.5h-4.5" stroke="#000" stroke-width="1"/>
<path d="M535.5 119.5h4.5M557.5 119.5h-4.5" stroke="#000" stroke-width="1"/>
</g>
<g id="txt">
<text x="298.1" y="33.2" text-anchor="middle" letter-spacing="0.037">UQRG-GIM Global VTEC maps 20230412.102.06300</text>
<text x="112.1" y="443.3" text-anchor="middle">-150</text>
<text x="174.3" y="443.3" text-anchor="middle">-100</text>
<text x="236.6" y="443.3" text-anchor="middle">-50</text>
<text x="298.8" y="443.3" text-anchor="middle">0</text>
<text x="361.3" y="443.3" text-anchor="middle">50</text>
<text x="423.6" y="443.3" text-anchor="middle">100</text>
<text x="485.8" y="443.3" text-anchor="middle">150</text>
<text x="61.0" y="78.4" text-anchor="end">80</text>
<text x="61.0" y="119.5" text-anchor="end">60</text>
<text x="61.0" y="160.7" text-anchor="end">40</text>
<text x="61.0" y="201.8" text-anchor="end">20</text>
<text x="61.0" y="242.9" text-anchor="end">0</text>
<text x="61.0" y="284.1" text-anchor="end">-20</text>
<text x="61.0" y="325.2" text-anchor="end">-40</text>
<text x="61.0" y="366.4" text-anchor="end">-60</text>
<text x="61.0" y="407.5" text-anchor="end">-80</text>
<text x="570.8" y="371.6" text-anchor="start">20</text>
<text x="570.8" y="309.6" text-anchor="start">40</text>
<text x="570.8" y="247.7" text-anchor="start">60</text>
<text x="570.8" y="185.7" text-anchor="start">80</text>
<text x="570.8" y="123.7" text-anchor="start">100</text>
<text x="570.8" y="61.7" text-anchor="start">120</text>
<text x="297.5" y="471.0" text-anchor="middle">Longitude / deg</text>
<text transform="translate(19.7 238.5) rotate(-90)" text-anchor="middle">Latitude / deg</text>
<text transform="translate(616.0 239.6) rotate(-90)" text-anchor="middle">VTEC / TECU</text>
</g>
</svg>
</body></html>
